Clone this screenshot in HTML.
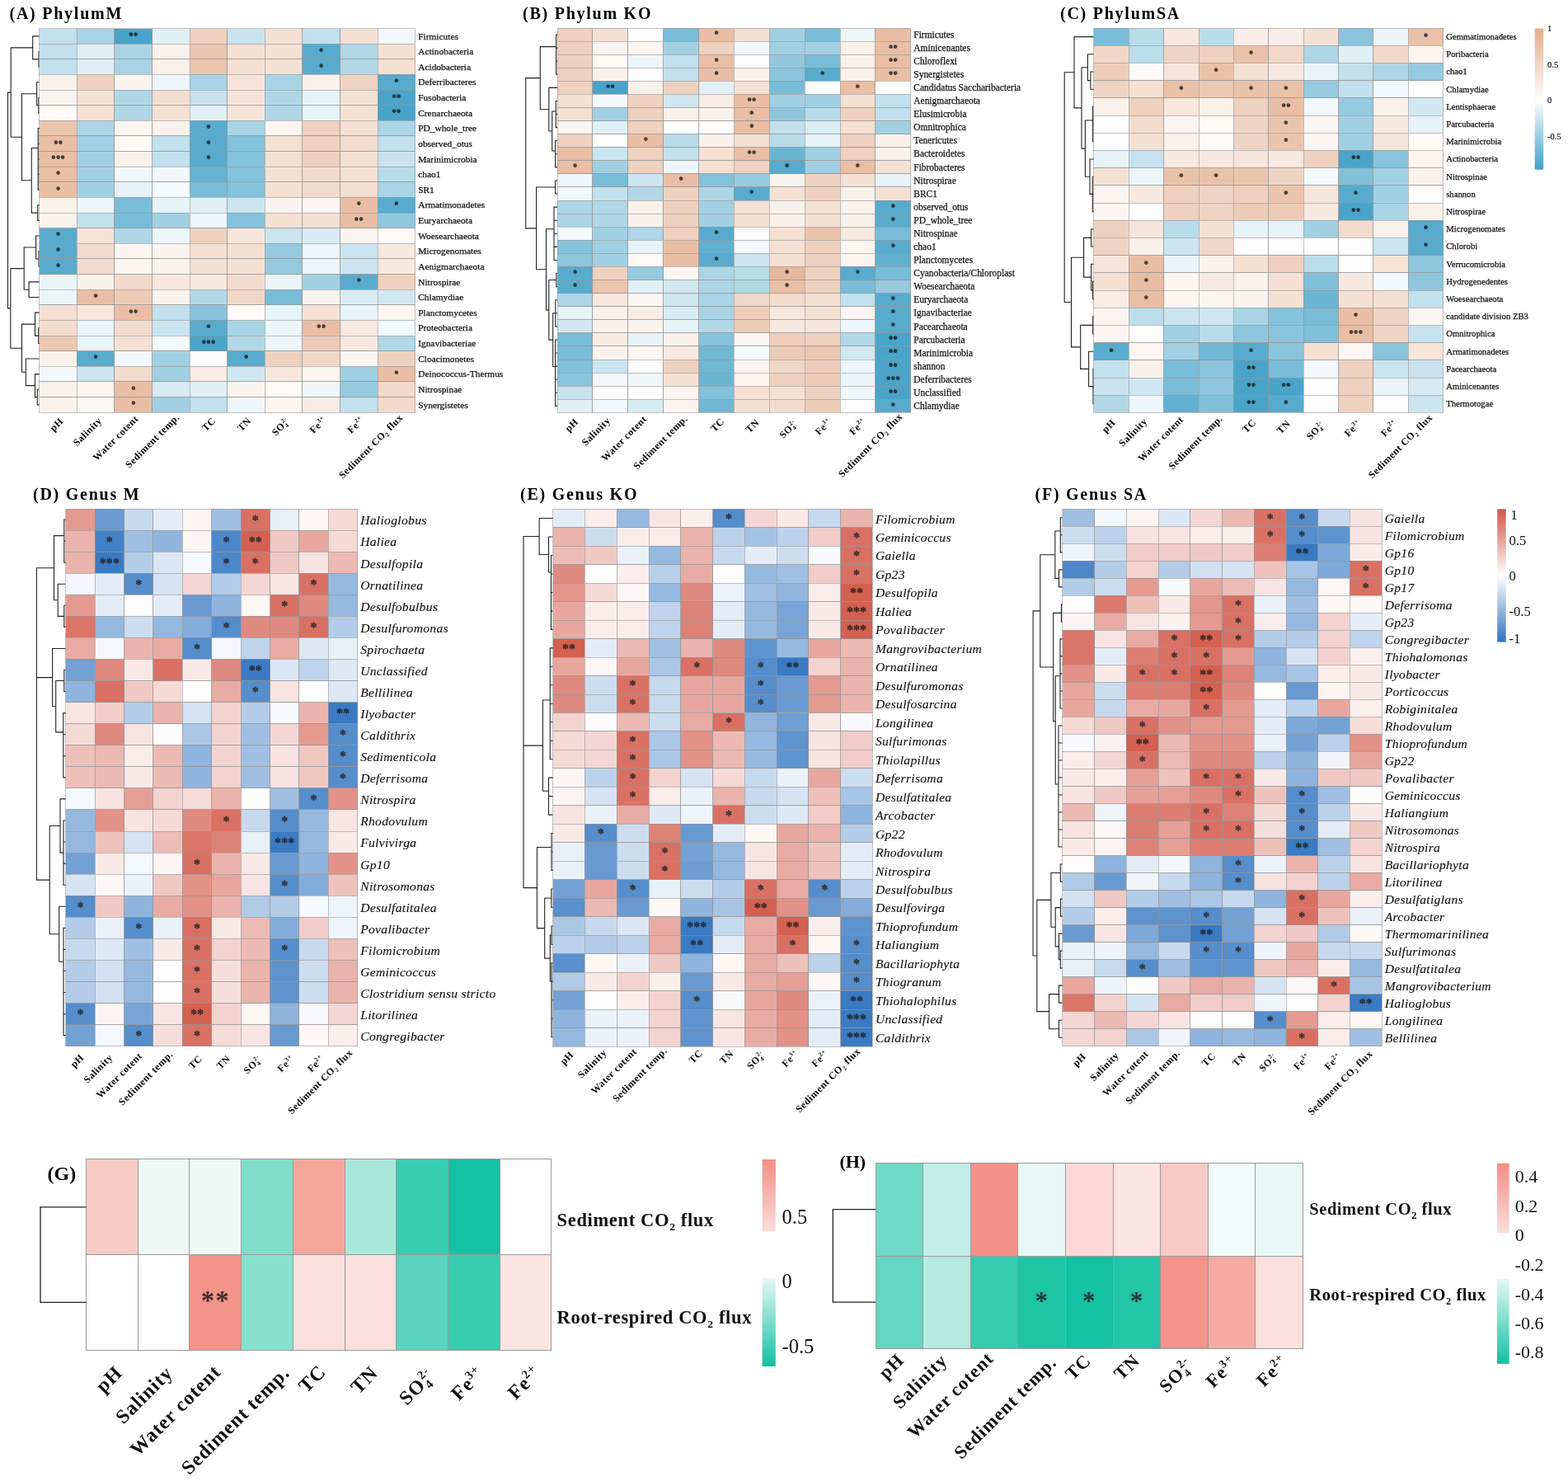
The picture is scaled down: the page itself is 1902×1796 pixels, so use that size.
<!DOCTYPE html>
<html lang="en"><head><meta charset="utf-8"><title>Heatmaps</title>
<style>html,body{margin:0;padding:0;background:#fff}body{width:1902px;height:1796px;overflow:hidden}svg{display:block}</style>
</head><body>
<svg width="1902" height="1796" viewBox="0 0 1902 1796">
<rect x="0" y="0" width="1902" height="1796" fill="#fff"/>
<g id="panel-A">
<text x="11.5" y="22.5" font-family='"Liberation Serif","DejaVu Serif",serif' font-weight="bold" font-size="20" letter-spacing="1.75" fill="#000">(A) PhylumM</text>
<path d="M47 62.54L47 81.16M47 62.54L47.8 62.54M47 81.16L47.8 81.16M39.7 43.91L39.7 71.85M39.7 43.91L47.8 43.91M39.7 71.85L47 71.85M46.8 118.41L46.8 137.03M46.8 118.41L47.8 118.41M46.8 137.03L47.8 137.03M44.6 99.78L44.6 127.72M44.6 99.78L47.8 99.78M44.6 127.72L46.8 127.72M46.2 155.66L46.2 230.15M46.2 155.66L47.8 155.66M46.2 174.28L47.8 174.28M46.2 192.9L47.8 192.9M46.2 211.53L47.8 211.53M46.2 230.15L47.8 230.15M45.7 248.78L45.7 267.4M45.7 248.78L47.8 248.78M45.7 267.4L47.8 267.4M38.3 179.5L38.3 258.09M38.3 179.5L46.2 179.5M38.3 258.09L45.7 258.09M26.5 113.75L26.5 218.79M26.5 113.75L44.6 113.75M26.5 218.79L38.3 218.79M13.2 57.88L13.2 166.27M13.2 57.88L39.7 57.88M13.2 166.27L26.5 166.27M47 304.65L47 323.27M47 304.65L47.8 304.65M47 323.27L47.8 323.27M43.6 286.02L43.6 313.96M43.6 286.02L47.8 286.02M43.6 313.96L47 313.96M35.1 341.9L35.1 360.52M35.1 341.9L47.8 341.9M35.1 360.52L47.8 360.52M29.2 299.99L29.2 351.21M29.2 299.99L43.6 299.99M29.2 351.21L35.1 351.21M46.7 397.77L46.7 416.39M46.7 397.77L47.8 397.77M46.7 416.39L47.8 416.39M42.5 379.14L42.5 407.08M42.5 379.14L47.8 379.14M42.5 407.08L46.7 407.08M45.3 472.26L45.3 490.89M45.3 472.26L47.8 472.26M45.3 490.89L47.8 490.89M42.5 453.64L42.5 481.58M42.5 453.64L47.8 453.64M42.5 481.58L45.3 481.58M31.3 435.02L31.3 467.61M31.3 435.02L47.8 435.02M31.3 467.61L42.5 467.61M26.5 393.11L26.5 451.31M26.5 393.11L42.5 393.11M26.5 451.31L31.3 451.31M12.8 325.6L12.8 422.21M12.8 325.6L29.2 325.6M12.8 422.21L26.5 422.21M9.5 112.08L9.5 373.91M9.5 112.08L13.2 112.08M9.5 373.91L12.8 373.91" fill="none" stroke="#222" stroke-width="1.1" stroke-linecap="square"/>
<g stroke="#969696" stroke-opacity="0.6" stroke-width="1" shape-rendering="crispEdges">
<rect x="47.8" y="34.6" width="45.59" height="18.62" fill="#c2e0ed"/>
<rect x="93.39" y="34.6" width="45.59" height="18.62" fill="#a9d4e5"/>
<rect x="138.98" y="34.6" width="45.59" height="18.62" fill="#4aa4c9"/>
<rect x="184.57" y="34.6" width="45.59" height="18.62" fill="#e1f0f6"/>
<rect x="230.16" y="34.6" width="45.59" height="18.62" fill="#efd1bf"/>
<rect x="275.75" y="34.6" width="45.59" height="18.62" fill="#c8e3ef"/>
<rect x="321.34" y="34.6" width="45.59" height="18.62" fill="#f4e1d4"/>
<rect x="366.93" y="34.6" width="45.59" height="18.62" fill="#c2e0ed"/>
<rect x="412.52" y="34.6" width="45.59" height="18.62" fill="#f4e1d4"/>
<rect x="458.11" y="34.6" width="45.59" height="18.62" fill="#f2f8fb"/>
<rect x="47.8" y="53.22" width="45.59" height="18.62" fill="#c2e0ed"/>
<rect x="93.39" y="53.22" width="45.59" height="18.62" fill="#e1f0f6"/>
<rect x="138.98" y="53.22" width="45.59" height="18.62" fill="#a9d4e5"/>
<rect x="184.57" y="53.22" width="45.59" height="18.62" fill="#faf1eb"/>
<rect x="230.16" y="53.22" width="45.59" height="18.62" fill="#ebc6af"/>
<rect x="275.75" y="53.22" width="45.59" height="18.62" fill="#f4e1d4"/>
<rect x="321.34" y="53.22" width="45.59" height="18.62" fill="#f4e1d4"/>
<rect x="366.93" y="53.22" width="45.59" height="18.62" fill="#58abcd"/>
<rect x="412.52" y="53.22" width="45.59" height="18.62" fill="#b2d8e8"/>
<rect x="458.11" y="53.22" width="45.59" height="18.62" fill="#f4e1d4"/>
<rect x="47.8" y="71.85" width="45.59" height="18.62" fill="#c2e0ed"/>
<rect x="93.39" y="71.85" width="45.59" height="18.62" fill="#e1f0f6"/>
<rect x="138.98" y="71.85" width="45.59" height="18.62" fill="#a9d4e5"/>
<rect x="184.57" y="71.85" width="45.59" height="18.62" fill="#faf1eb"/>
<rect x="230.16" y="71.85" width="45.59" height="18.62" fill="#ebc6af"/>
<rect x="275.75" y="71.85" width="45.59" height="18.62" fill="#f4e1d4"/>
<rect x="321.34" y="71.85" width="45.59" height="18.62" fill="#f4e1d4"/>
<rect x="366.93" y="71.85" width="45.59" height="18.62" fill="#58abcd"/>
<rect x="412.52" y="71.85" width="45.59" height="18.62" fill="#b2d8e8"/>
<rect x="458.11" y="71.85" width="45.59" height="18.62" fill="#f4e1d4"/>
<rect x="47.8" y="90.47" width="45.59" height="18.62" fill="#faf1eb"/>
<rect x="93.39" y="90.47" width="45.59" height="18.62" fill="#efd1bf"/>
<rect x="138.98" y="90.47" width="45.59" height="18.62" fill="#fbf3ee"/>
<rect x="184.57" y="90.47" width="45.59" height="18.62" fill="#edf6fa"/>
<rect x="230.16" y="90.47" width="45.59" height="18.62" fill="#a9d4e5"/>
<rect x="275.75" y="90.47" width="45.59" height="18.62" fill="#f6e4d9"/>
<rect x="321.34" y="90.47" width="45.59" height="18.62" fill="#a9d4e5"/>
<rect x="366.93" y="90.47" width="45.59" height="18.62" fill="#faf1eb"/>
<rect x="412.52" y="90.47" width="45.59" height="18.62" fill="#f0d4c3"/>
<rect x="458.11" y="90.47" width="45.59" height="18.62" fill="#58abcd"/>
<rect x="47.8" y="109.1" width="45.59" height="18.62" fill="#fbf4f0"/>
<rect x="93.39" y="109.1" width="45.59" height="18.62" fill="#f4e1d4"/>
<rect x="138.98" y="109.1" width="45.59" height="18.62" fill="#afd7e7"/>
<rect x="184.57" y="109.1" width="45.59" height="18.62" fill="#f3ded0"/>
<rect x="230.16" y="109.1" width="45.59" height="18.62" fill="#c8e3ef"/>
<rect x="275.75" y="109.1" width="45.59" height="18.62" fill="#f6e4d9"/>
<rect x="321.34" y="109.1" width="45.59" height="18.62" fill="#afd7e7"/>
<rect x="366.93" y="109.1" width="45.59" height="18.62" fill="#e9f4f8"/>
<rect x="412.52" y="109.1" width="45.59" height="18.62" fill="#f4e1d4"/>
<rect x="458.11" y="109.1" width="45.59" height="18.62" fill="#4aa4c9"/>
<rect x="47.8" y="127.72" width="45.59" height="18.62" fill="#fdfaf8"/>
<rect x="93.39" y="127.72" width="45.59" height="18.62" fill="#f4e1d4"/>
<rect x="138.98" y="127.72" width="45.59" height="18.62" fill="#afd7e7"/>
<rect x="184.57" y="127.72" width="45.59" height="18.62" fill="#f4e1d4"/>
<rect x="230.16" y="127.72" width="45.59" height="18.62" fill="#e1f0f6"/>
<rect x="275.75" y="127.72" width="45.59" height="18.62" fill="#f6e4d9"/>
<rect x="321.34" y="127.72" width="45.59" height="18.62" fill="#afd7e7"/>
<rect x="366.93" y="127.72" width="45.59" height="18.62" fill="#e6f3f8"/>
<rect x="412.52" y="127.72" width="45.59" height="18.62" fill="#f4e1d4"/>
<rect x="458.11" y="127.72" width="45.59" height="18.62" fill="#4aa4c9"/>
<rect x="47.8" y="146.34" width="45.59" height="18.62" fill="#ebc4ad"/>
<rect x="93.39" y="146.34" width="45.59" height="18.62" fill="#acd5e6"/>
<rect x="138.98" y="146.34" width="45.59" height="18.62" fill="#fcf6f3"/>
<rect x="184.57" y="146.34" width="45.59" height="18.62" fill="#faf1eb"/>
<rect x="230.16" y="146.34" width="45.59" height="18.62" fill="#58abcd"/>
<rect x="275.75" y="146.34" width="45.59" height="18.62" fill="#a9d4e5"/>
<rect x="321.34" y="146.34" width="45.59" height="18.62" fill="#fcf6f3"/>
<rect x="366.93" y="146.34" width="45.59" height="18.62" fill="#efd1bf"/>
<rect x="412.52" y="146.34" width="45.59" height="18.62" fill="#f4e1d4"/>
<rect x="458.11" y="146.34" width="45.59" height="18.62" fill="#acd5e6"/>
<rect x="47.8" y="164.97" width="45.59" height="18.62" fill="#e9bea5"/>
<rect x="93.39" y="164.97" width="45.59" height="18.62" fill="#a2d0e3"/>
<rect x="138.98" y="164.97" width="45.59" height="18.62" fill="#fdf9f6"/>
<rect x="184.57" y="164.97" width="45.59" height="18.62" fill="#c2e0ed"/>
<rect x="230.16" y="164.97" width="45.59" height="18.62" fill="#58abcd"/>
<rect x="275.75" y="164.97" width="45.59" height="18.62" fill="#85c2db"/>
<rect x="321.34" y="164.97" width="45.59" height="18.62" fill="#f4e1d4"/>
<rect x="366.93" y="164.97" width="45.59" height="18.62" fill="#efd1bf"/>
<rect x="412.52" y="164.97" width="45.59" height="18.62" fill="#f3dcce"/>
<rect x="458.11" y="164.97" width="45.59" height="18.62" fill="#c2e0ed"/>
<rect x="47.8" y="183.59" width="45.59" height="18.62" fill="#e9bea5"/>
<rect x="93.39" y="183.59" width="45.59" height="18.62" fill="#a2d0e3"/>
<rect x="138.98" y="183.59" width="45.59" height="18.62" fill="#faf1eb"/>
<rect x="184.57" y="183.59" width="45.59" height="18.62" fill="#c2e0ed"/>
<rect x="230.16" y="183.59" width="45.59" height="18.62" fill="#58abcd"/>
<rect x="275.75" y="183.59" width="45.59" height="18.62" fill="#85c2db"/>
<rect x="321.34" y="183.59" width="45.59" height="18.62" fill="#f4e1d4"/>
<rect x="366.93" y="183.59" width="45.59" height="18.62" fill="#efd1bf"/>
<rect x="412.52" y="183.59" width="45.59" height="18.62" fill="#f4e1d4"/>
<rect x="458.11" y="183.59" width="45.59" height="18.62" fill="#c8e3ef"/>
<rect x="47.8" y="202.22" width="45.59" height="18.62" fill="#e9bea5"/>
<rect x="93.39" y="202.22" width="45.59" height="18.62" fill="#a2d0e3"/>
<rect x="138.98" y="202.22" width="45.59" height="18.62" fill="#f2f8fb"/>
<rect x="184.57" y="202.22" width="45.59" height="18.62" fill="#f2f8fb"/>
<rect x="230.16" y="202.22" width="45.59" height="18.62" fill="#66b2d1"/>
<rect x="275.75" y="202.22" width="45.59" height="18.62" fill="#85c2db"/>
<rect x="321.34" y="202.22" width="45.59" height="18.62" fill="#f4e1d4"/>
<rect x="366.93" y="202.22" width="45.59" height="18.62" fill="#f2dbcc"/>
<rect x="412.52" y="202.22" width="45.59" height="18.62" fill="#f4e1d4"/>
<rect x="458.11" y="202.22" width="45.59" height="18.62" fill="#b8dcea"/>
<rect x="47.8" y="220.84" width="45.59" height="18.62" fill="#e9bea5"/>
<rect x="93.39" y="220.84" width="45.59" height="18.62" fill="#a2d0e3"/>
<rect x="138.98" y="220.84" width="45.59" height="18.62" fill="#e6f3f8"/>
<rect x="184.57" y="220.84" width="45.59" height="18.62" fill="#f4fafc"/>
<rect x="230.16" y="220.84" width="45.59" height="18.62" fill="#79bcd7"/>
<rect x="275.75" y="220.84" width="45.59" height="18.62" fill="#85c2db"/>
<rect x="321.34" y="220.84" width="45.59" height="18.62" fill="#f4e1d4"/>
<rect x="366.93" y="220.84" width="45.59" height="18.62" fill="#f2dbcc"/>
<rect x="412.52" y="220.84" width="45.59" height="18.62" fill="#f3ded0"/>
<rect x="458.11" y="220.84" width="45.59" height="18.62" fill="#a9d4e5"/>
<rect x="47.8" y="239.46" width="45.59" height="18.62" fill="#faf1eb"/>
<rect x="93.39" y="239.46" width="45.59" height="18.62" fill="#edf6fa"/>
<rect x="138.98" y="239.46" width="45.59" height="18.62" fill="#79bcd7"/>
<rect x="184.57" y="239.46" width="45.59" height="18.62" fill="#e6f3f8"/>
<rect x="230.16" y="239.46" width="45.59" height="18.62" fill="#e1f0f6"/>
<rect x="275.75" y="239.46" width="45.59" height="18.62" fill="#cbe5f0"/>
<rect x="321.34" y="239.46" width="45.59" height="18.62" fill="#fbf3ee"/>
<rect x="366.93" y="239.46" width="45.59" height="18.62" fill="#fcf6f3"/>
<rect x="412.52" y="239.46" width="45.59" height="18.62" fill="#e9bea5"/>
<rect x="458.11" y="239.46" width="45.59" height="18.62" fill="#58abcd"/>
<rect x="47.8" y="258.09" width="45.59" height="18.62" fill="#fbf3ee"/>
<rect x="93.39" y="258.09" width="45.59" height="18.62" fill="#c2e0ed"/>
<rect x="138.98" y="258.09" width="45.59" height="18.62" fill="#79bcd7"/>
<rect x="184.57" y="258.09" width="45.59" height="18.62" fill="#a2d0e3"/>
<rect x="230.16" y="258.09" width="45.59" height="18.62" fill="#edf6fa"/>
<rect x="275.75" y="258.09" width="45.59" height="18.62" fill="#85c2db"/>
<rect x="321.34" y="258.09" width="45.59" height="18.62" fill="#f4e1d4"/>
<rect x="366.93" y="258.09" width="45.59" height="18.62" fill="#f4e1d4"/>
<rect x="412.52" y="258.09" width="45.59" height="18.62" fill="#e9bea5"/>
<rect x="458.11" y="258.09" width="45.59" height="18.62" fill="#92c8de"/>
<rect x="47.8" y="276.71" width="45.59" height="18.62" fill="#58abcd"/>
<rect x="93.39" y="276.71" width="45.59" height="18.62" fill="#f6e4d9"/>
<rect x="138.98" y="276.71" width="45.59" height="18.62" fill="#afd7e7"/>
<rect x="184.57" y="276.71" width="45.59" height="18.62" fill="#edf6fa"/>
<rect x="230.16" y="276.71" width="45.59" height="18.62" fill="#efd1bf"/>
<rect x="275.75" y="276.71" width="45.59" height="18.62" fill="#f6e5db"/>
<rect x="321.34" y="276.71" width="45.59" height="18.62" fill="#cbe5f0"/>
<rect x="366.93" y="276.71" width="45.59" height="18.62" fill="#d8ebf3"/>
<rect x="412.52" y="276.71" width="45.59" height="18.62" fill="#fbf4f0"/>
<rect x="458.11" y="276.71" width="45.59" height="18.62" fill="#fdfaf8"/>
<rect x="47.8" y="295.34" width="45.59" height="18.62" fill="#58abcd"/>
<rect x="93.39" y="295.34" width="45.59" height="18.62" fill="#f3dcce"/>
<rect x="138.98" y="295.34" width="45.59" height="18.62" fill="#fcf5f1"/>
<rect x="184.57" y="295.34" width="45.59" height="18.62" fill="#fbf3ee"/>
<rect x="230.16" y="295.34" width="45.59" height="18.62" fill="#f4e1d4"/>
<rect x="275.75" y="295.34" width="45.59" height="18.62" fill="#f4e1d4"/>
<rect x="321.34" y="295.34" width="45.59" height="18.62" fill="#96cae0"/>
<rect x="366.93" y="295.34" width="45.59" height="18.62" fill="#edf6fa"/>
<rect x="412.52" y="295.34" width="45.59" height="18.62" fill="#cbe5f0"/>
<rect x="458.11" y="295.34" width="45.59" height="18.62" fill="#f7e9e0"/>
<rect x="47.8" y="313.96" width="45.59" height="18.62" fill="#58abcd"/>
<rect x="93.39" y="313.96" width="45.59" height="18.62" fill="#f3dcce"/>
<rect x="138.98" y="313.96" width="45.59" height="18.62" fill="#fcf5f1"/>
<rect x="184.57" y="313.96" width="45.59" height="18.62" fill="#fbf3ee"/>
<rect x="230.16" y="313.96" width="45.59" height="18.62" fill="#f4e1d4"/>
<rect x="275.75" y="313.96" width="45.59" height="18.62" fill="#f4e1d4"/>
<rect x="321.34" y="313.96" width="45.59" height="18.62" fill="#96cae0"/>
<rect x="366.93" y="313.96" width="45.59" height="18.62" fill="#edf6fa"/>
<rect x="412.52" y="313.96" width="45.59" height="18.62" fill="#cbe5f0"/>
<rect x="458.11" y="313.96" width="45.59" height="18.62" fill="#f7e9e0"/>
<rect x="47.8" y="332.58" width="45.59" height="18.62" fill="#ebf5f9"/>
<rect x="93.39" y="332.58" width="45.59" height="18.62" fill="#faf1eb"/>
<rect x="138.98" y="332.58" width="45.59" height="18.62" fill="#f2d9ca"/>
<rect x="184.57" y="332.58" width="45.59" height="18.62" fill="#f7e7dd"/>
<rect x="230.16" y="332.58" width="45.59" height="18.62" fill="#f7e9e0"/>
<rect x="275.75" y="332.58" width="45.59" height="18.62" fill="#f3dcce"/>
<rect x="321.34" y="332.58" width="45.59" height="18.62" fill="#ebf5f9"/>
<rect x="366.93" y="332.58" width="45.59" height="18.62" fill="#a2d0e3"/>
<rect x="412.52" y="332.58" width="45.59" height="18.62" fill="#58abcd"/>
<rect x="458.11" y="332.58" width="45.59" height="18.62" fill="#efd1bf"/>
<rect x="47.8" y="351.21" width="45.59" height="18.62" fill="#edf6fa"/>
<rect x="93.39" y="351.21" width="45.59" height="18.62" fill="#e9bea5"/>
<rect x="138.98" y="351.21" width="45.59" height="18.62" fill="#edccb7"/>
<rect x="184.57" y="351.21" width="45.59" height="18.62" fill="#fbf3ee"/>
<rect x="230.16" y="351.21" width="45.59" height="18.62" fill="#b2d8e8"/>
<rect x="275.75" y="351.21" width="45.59" height="18.62" fill="#f1d7c8"/>
<rect x="321.34" y="351.21" width="45.59" height="18.62" fill="#79bcd7"/>
<rect x="366.93" y="351.21" width="45.59" height="18.62" fill="#fbf3ee"/>
<rect x="412.52" y="351.21" width="45.59" height="18.62" fill="#d8ebf3"/>
<rect x="458.11" y="351.21" width="45.59" height="18.62" fill="#d2e8f1"/>
<rect x="47.8" y="369.83" width="45.59" height="18.62" fill="#f4e1d4"/>
<rect x="93.39" y="369.83" width="45.59" height="18.62" fill="#f7e7dd"/>
<rect x="138.98" y="369.83" width="45.59" height="18.62" fill="#e9bea5"/>
<rect x="184.57" y="369.83" width="45.59" height="18.62" fill="#c2e0ed"/>
<rect x="230.16" y="369.83" width="45.59" height="18.62" fill="#8ac4dc"/>
<rect x="275.75" y="369.83" width="45.59" height="18.62" fill="#fdfaf8"/>
<rect x="321.34" y="369.83" width="45.59" height="18.62" fill="#e6f3f8"/>
<rect x="366.93" y="369.83" width="45.59" height="18.62" fill="#f4e1d4"/>
<rect x="412.52" y="369.83" width="45.59" height="18.62" fill="#e6f3f8"/>
<rect x="458.11" y="369.83" width="45.59" height="18.62" fill="#fcf6f3"/>
<rect x="47.8" y="388.46" width="45.59" height="18.62" fill="#f3dcce"/>
<rect x="93.39" y="388.46" width="45.59" height="18.62" fill="#ebf5f9"/>
<rect x="138.98" y="388.46" width="45.59" height="18.62" fill="#f3dcce"/>
<rect x="184.57" y="388.46" width="45.59" height="18.62" fill="#cbe5f0"/>
<rect x="230.16" y="388.46" width="45.59" height="18.62" fill="#58abcd"/>
<rect x="275.75" y="388.46" width="45.59" height="18.62" fill="#a9d4e5"/>
<rect x="321.34" y="388.46" width="45.59" height="18.62" fill="#edf6fa"/>
<rect x="366.93" y="388.46" width="45.59" height="18.62" fill="#e9bea5"/>
<rect x="412.52" y="388.46" width="45.59" height="18.62" fill="#f7e9e0"/>
<rect x="458.11" y="388.46" width="45.59" height="18.62" fill="#f2f8fb"/>
<rect x="47.8" y="407.08" width="45.59" height="18.62" fill="#ecc8b2"/>
<rect x="93.39" y="407.08" width="45.59" height="18.62" fill="#e9f4f8"/>
<rect x="138.98" y="407.08" width="45.59" height="18.62" fill="#f4e1d4"/>
<rect x="184.57" y="407.08" width="45.59" height="18.62" fill="#f4fafc"/>
<rect x="230.16" y="407.08" width="45.59" height="18.62" fill="#4aa4c9"/>
<rect x="275.75" y="407.08" width="45.59" height="18.62" fill="#b2d8e8"/>
<rect x="321.34" y="407.08" width="45.59" height="18.62" fill="#edf6fa"/>
<rect x="366.93" y="407.08" width="45.59" height="18.62" fill="#edccb7"/>
<rect x="412.52" y="407.08" width="45.59" height="18.62" fill="#f7e9e0"/>
<rect x="458.11" y="407.08" width="45.59" height="18.62" fill="#b2d8e8"/>
<rect x="47.8" y="425.7" width="45.59" height="18.62" fill="#faf1eb"/>
<rect x="93.39" y="425.7" width="45.59" height="18.62" fill="#58abcd"/>
<rect x="138.98" y="425.7" width="45.59" height="18.62" fill="#f2f8fb"/>
<rect x="184.57" y="425.7" width="45.59" height="18.62" fill="#a2d0e3"/>
<rect x="230.16" y="425.7" width="45.59" height="18.62" fill="#fdfdfd"/>
<rect x="275.75" y="425.7" width="45.59" height="18.62" fill="#58abcd"/>
<rect x="321.34" y="425.7" width="45.59" height="18.62" fill="#efd1bf"/>
<rect x="366.93" y="425.7" width="45.59" height="18.62" fill="#f1d7c8"/>
<rect x="412.52" y="425.7" width="45.59" height="18.62" fill="#fcf6f3"/>
<rect x="458.11" y="425.7" width="45.59" height="18.62" fill="#efd1bf"/>
<rect x="47.8" y="444.33" width="45.59" height="18.62" fill="#f2f8fb"/>
<rect x="93.39" y="444.33" width="45.59" height="18.62" fill="#cbe5f0"/>
<rect x="138.98" y="444.33" width="45.59" height="18.62" fill="#f3dcce"/>
<rect x="184.57" y="444.33" width="45.59" height="18.62" fill="#a2d0e3"/>
<rect x="230.16" y="444.33" width="45.59" height="18.62" fill="#f8ece4"/>
<rect x="275.75" y="444.33" width="45.59" height="18.62" fill="#cfe7f0"/>
<rect x="321.34" y="444.33" width="45.59" height="18.62" fill="#f7e7dd"/>
<rect x="366.93" y="444.33" width="45.59" height="18.62" fill="#fcf5f1"/>
<rect x="412.52" y="444.33" width="45.59" height="18.62" fill="#a2d0e3"/>
<rect x="458.11" y="444.33" width="45.59" height="18.62" fill="#e9bea5"/>
<rect x="47.8" y="462.95" width="45.59" height="18.62" fill="#faf1eb"/>
<rect x="93.39" y="462.95" width="45.59" height="18.62" fill="#fcf6f3"/>
<rect x="138.98" y="462.95" width="45.59" height="18.62" fill="#e9bea5"/>
<rect x="184.57" y="462.95" width="45.59" height="18.62" fill="#d8ebf3"/>
<rect x="230.16" y="462.95" width="45.59" height="18.62" fill="#e1f0f6"/>
<rect x="275.75" y="462.95" width="45.59" height="18.62" fill="#fbf3ee"/>
<rect x="321.34" y="462.95" width="45.59" height="18.62" fill="#fdf9f6"/>
<rect x="366.93" y="462.95" width="45.59" height="18.62" fill="#f0f7fa"/>
<rect x="412.52" y="462.95" width="45.59" height="18.62" fill="#96cae0"/>
<rect x="458.11" y="462.95" width="45.59" height="18.62" fill="#f2d9ca"/>
<rect x="47.8" y="481.58" width="45.59" height="18.62" fill="#faf1eb"/>
<rect x="93.39" y="481.58" width="45.59" height="18.62" fill="#fcf8f5"/>
<rect x="138.98" y="481.58" width="45.59" height="18.62" fill="#e9bea5"/>
<rect x="184.57" y="481.58" width="45.59" height="18.62" fill="#a2d0e3"/>
<rect x="230.16" y="481.58" width="45.59" height="18.62" fill="#c2e0ed"/>
<rect x="275.75" y="481.58" width="45.59" height="18.62" fill="#edf6fa"/>
<rect x="321.34" y="481.58" width="45.59" height="18.62" fill="#fcf6f3"/>
<rect x="366.93" y="481.58" width="45.59" height="18.62" fill="#f8ece4"/>
<rect x="412.52" y="481.58" width="45.59" height="18.62" fill="#c2e0ed"/>
<rect x="458.11" y="481.58" width="45.59" height="18.62" fill="#f2d9ca"/>
</g>
<g font-family='"Liberation Serif","DejaVu Serif",serif' font-size="7.5" font-weight="bold" text-anchor="middle" fill="#06090c" stroke="#06090c" stroke-width="1.4" stroke-linejoin="round" opacity="0.7" letter-spacing="1.9">
<text x="162.72" y="46.31">**</text>
<text x="390.67" y="64.94">*</text>
<text x="390.67" y="83.56">*</text>
<text x="481.85" y="102.18">*</text>
<text x="481.85" y="120.81">**</text>
<text x="481.85" y="139.43">**</text>
<text x="253.9" y="158.06">*</text>
<text x="71.55" y="176.68">**</text>
<text x="253.9" y="176.68">*</text>
<text x="71.55" y="195.3">***</text>
<text x="253.9" y="195.3">*</text>
<text x="71.55" y="213.93">*</text>
<text x="71.55" y="232.55">*</text>
<text x="436.26" y="251.18">*</text>
<text x="481.85" y="251.18">*</text>
<text x="436.26" y="269.8">**</text>
<text x="71.55" y="288.42">*</text>
<text x="71.55" y="307.05">*</text>
<text x="71.55" y="325.67">*</text>
<text x="436.26" y="344.3">*</text>
<text x="117.13" y="362.92">*</text>
<text x="162.72" y="381.54">**</text>
<text x="253.9" y="400.17">*</text>
<text x="390.67" y="400.17">**</text>
<text x="253.9" y="418.79">***</text>
<text x="117.13" y="437.42">*</text>
<text x="299.49" y="437.42">*</text>
<text x="481.85" y="456.04">*</text>
<text x="162.72" y="474.66">*</text>
<text x="162.72" y="493.29">*</text>
</g>
<g font-family='"Liberation Serif","DejaVu Serif",serif' font-size="11.4" fill="#111" stroke="#111" stroke-width="0.25" letter-spacing="0">
<text x="507.2" y="47.56">Firmicutes</text>
<text x="507.2" y="66.18">Actinobacteria</text>
<text x="507.2" y="84.81">Acidobacteria</text>
<text x="507.2" y="103.43">Deferribacteres</text>
<text x="507.2" y="122.06">Fusobacteria</text>
<text x="507.2" y="140.68">Crenarchaeota</text>
<text x="507.2" y="159.3">PD_whole_tree</text>
<text x="507.2" y="177.93">observed_otus</text>
<text x="507.2" y="196.55">Marinimicrobia</text>
<text x="507.2" y="215.18">chao1</text>
<text x="507.2" y="233.8">SR1</text>
<text x="507.2" y="252.42">Armatimonadetes</text>
<text x="507.2" y="271.05">Euryarchaeota</text>
<text x="507.2" y="289.67">Woesearchaeota</text>
<text x="507.2" y="308.3">Microgenomates</text>
<text x="507.2" y="326.92">Aenigmarchaeota</text>
<text x="507.2" y="345.54">Nitrospirae</text>
<text x="507.2" y="364.17">Chlamydiae</text>
<text x="507.2" y="382.79">Planctomycetes</text>
<text x="507.2" y="401.42">Proteobacteria</text>
<text x="507.2" y="420.04">Ignavibacteriae</text>
<text x="507.2" y="438.66">Cloacimonetes</text>
<text x="507.2" y="457.29">Deinococcus-Thermus</text>
<text x="507.2" y="475.91">Nitrospinae</text>
<text x="507.2" y="494.54">Synergistetes</text>
</g>
<g font-family='"Liberation Serif","DejaVu Serif",serif' font-size="12" font-weight="bold" text-anchor="end" fill="#000" letter-spacing="0.5">
<text transform="translate(77.39 511.6) rotate(-45)">pH</text>
<text transform="translate(124.18 510.9) rotate(-45)">Salinity</text>
<text transform="translate(168.57 508.5) rotate(-45)">Water cotent</text>
<text transform="translate(218.37 506.7) rotate(-45)">Sediment temp.</text>
<text transform="translate(262.15 510.9) rotate(-45)">TC</text>
<text transform="translate(305.34 510.9) rotate(-45)">TN</text>
<text transform="translate(351.94 511.6) rotate(-45)">SO<tspan dy="2.64" font-size="7.44">4</tspan><tspan dy="-7.44" dx="-3.6" font-size="7.44">2-</tspan><tspan dy="4.8" font-size="7.44"> </tspan></text>
<text transform="translate(396.52 510.2) rotate(-45)">Fe<tspan dy="-4.56" font-size="7.44">3+</tspan><tspan dy="4.56" font-size="7.44"> </tspan></text>
<text transform="translate(442.12 510.2) rotate(-45)">Fe<tspan dy="-4.56" font-size="7.44">2+</tspan><tspan dy="4.56" font-size="7.44"> </tspan></text>
<text transform="translate(489.4 507.2) rotate(-45)">Sediment CO<tspan dy="2.64" font-size="7.44">2</tspan><tspan dy="-2.64"> flux</tspan></text>
</g>
</g>
<g id="panel-B">
<text x="634" y="22.5" font-family='"Liberation Serif","DejaVu Serif",serif' font-weight="bold" font-size="20" letter-spacing="1.75" fill="#000">(B) Phylum KO</text>
<path d="M674.6 42.04L674.6 90.29M674.6 42.04L676.1 42.04M674.6 58.12L676.1 58.12M674.6 74.21L676.1 74.21M674.6 90.29L676.1 90.29M674.3 122.46L674.3 154.62M674.3 122.46L676.1 122.46M674.3 138.54L676.1 138.54M674.3 154.62L676.1 154.62M673.6 170.7L673.6 202.87M673.6 170.7L676.1 170.7M673.6 186.79L676.1 186.79M673.6 202.87L676.1 202.87M669.7 135L669.7 183M669.7 135L674.3 135M669.7 183L673.6 183M665.8 106.37L665.8 159M665.8 106.37L676.1 106.37M665.8 159L669.7 159M655.3 56.6L655.3 132.69M655.3 56.6L674.6 56.6M655.3 132.69L665.8 132.69M673.6 218.95L673.6 235.03M673.6 218.95L676.1 218.95M673.6 235.03L676.1 235.03M672 251.12L672 315.45M672 251.12L676.1 251.12M672 267.2L676.1 267.2M672 283.28L676.1 283.28M672 299.37L676.1 299.37M672 315.45L676.1 315.45M674.8 331.53L674.8 347.61M674.8 331.53L676.1 331.53M674.8 347.61L676.1 347.61M673.8 363.7L673.8 395.86M673.8 363.7L676.1 363.7M673.8 379.78L676.1 379.78M673.8 395.86L676.1 395.86M673.6 411.94L673.6 492.36M673.6 411.94L676.1 411.94M673.6 428.03L676.1 428.03M673.6 444.11L676.1 444.11M673.6 460.19L676.1 460.19M673.6 476.28L676.1 476.28M673.6 492.36L676.1 492.36M670.7 379.78L670.7 444.5M670.7 379.78L673.8 379.78M670.7 444.5L673.6 444.5M665.8 339.57L665.8 412.14M665.8 339.57L674.8 339.57M665.8 412.14L670.7 412.14M662.5 277.7L662.5 375.86M662.5 277.7L672 277.7M662.5 375.86L665.8 375.86M650.6 226.99L650.6 326.78M650.6 226.99L673.6 226.99M650.6 326.78L662.5 326.78M637.7 94.64L637.7 276.89M637.7 94.64L655.3 94.64M637.7 276.89L650.6 276.89" fill="none" stroke="#222" stroke-width="1.1" stroke-linecap="square"/>
<g stroke="#969696" stroke-opacity="0.6" stroke-width="1" shape-rendering="crispEdges">
<rect x="676.1" y="34" width="42.87" height="16.08" fill="#efd1bf"/>
<rect x="718.97" y="34" width="42.87" height="16.08" fill="#f4e1d4"/>
<rect x="761.84" y="34" width="42.87" height="16.08" fill="#fdfdfd"/>
<rect x="804.71" y="34" width="42.87" height="16.08" fill="#79bcd7"/>
<rect x="847.58" y="34" width="42.87" height="16.08" fill="#e9bea5"/>
<rect x="890.45" y="34" width="42.87" height="16.08" fill="#f4e1d4"/>
<rect x="933.32" y="34" width="42.87" height="16.08" fill="#a2d0e3"/>
<rect x="976.19" y="34" width="42.87" height="16.08" fill="#79bcd7"/>
<rect x="1019.06" y="34" width="42.87" height="16.08" fill="#f0f7fa"/>
<rect x="1061.93" y="34" width="42.87" height="16.08" fill="#e9bea5"/>
<rect x="676.1" y="50.08" width="42.87" height="16.08" fill="#efd1bf"/>
<rect x="718.97" y="50.08" width="42.87" height="16.08" fill="#fbf4f0"/>
<rect x="761.84" y="50.08" width="42.87" height="16.08" fill="#fcf6f3"/>
<rect x="804.71" y="50.08" width="42.87" height="16.08" fill="#a2d0e3"/>
<rect x="847.58" y="50.08" width="42.87" height="16.08" fill="#efd1bf"/>
<rect x="890.45" y="50.08" width="42.87" height="16.08" fill="#f2f8fb"/>
<rect x="933.32" y="50.08" width="42.87" height="16.08" fill="#a2d0e3"/>
<rect x="976.19" y="50.08" width="42.87" height="16.08" fill="#a2d0e3"/>
<rect x="1019.06" y="50.08" width="42.87" height="16.08" fill="#faf1eb"/>
<rect x="1061.93" y="50.08" width="42.87" height="16.08" fill="#e9bea5"/>
<rect x="676.1" y="66.17" width="42.87" height="16.08" fill="#efd1bf"/>
<rect x="718.97" y="66.17" width="42.87" height="16.08" fill="#fdf9f6"/>
<rect x="761.84" y="66.17" width="42.87" height="16.08" fill="#edf6fa"/>
<rect x="804.71" y="66.17" width="42.87" height="16.08" fill="#c2e0ed"/>
<rect x="847.58" y="66.17" width="42.87" height="16.08" fill="#e9bea5"/>
<rect x="890.45" y="66.17" width="42.87" height="16.08" fill="#fdfdfd"/>
<rect x="933.32" y="66.17" width="42.87" height="16.08" fill="#92c8de"/>
<rect x="976.19" y="66.17" width="42.87" height="16.08" fill="#79bcd7"/>
<rect x="1019.06" y="66.17" width="42.87" height="16.08" fill="#faf1eb"/>
<rect x="1061.93" y="66.17" width="42.87" height="16.08" fill="#e9bea5"/>
<rect x="676.1" y="82.25" width="42.87" height="16.08" fill="#efd1bf"/>
<rect x="718.97" y="82.25" width="42.87" height="16.08" fill="#faf1eb"/>
<rect x="761.84" y="82.25" width="42.87" height="16.08" fill="#fdfdfd"/>
<rect x="804.71" y="82.25" width="42.87" height="16.08" fill="#c2e0ed"/>
<rect x="847.58" y="82.25" width="42.87" height="16.08" fill="#e9bea5"/>
<rect x="890.45" y="82.25" width="42.87" height="16.08" fill="#faf1eb"/>
<rect x="933.32" y="82.25" width="42.87" height="16.08" fill="#8ac4dc"/>
<rect x="976.19" y="82.25" width="42.87" height="16.08" fill="#58abcd"/>
<rect x="1019.06" y="82.25" width="42.87" height="16.08" fill="#faf1eb"/>
<rect x="1061.93" y="82.25" width="42.87" height="16.08" fill="#e9bea5"/>
<rect x="676.1" y="98.33" width="42.87" height="16.08" fill="#efd1bf"/>
<rect x="718.97" y="98.33" width="42.87" height="16.08" fill="#4aa4c9"/>
<rect x="761.84" y="98.33" width="42.87" height="16.08" fill="#faf1eb"/>
<rect x="804.71" y="98.33" width="42.87" height="16.08" fill="#efd1bf"/>
<rect x="847.58" y="98.33" width="42.87" height="16.08" fill="#e1f0f6"/>
<rect x="890.45" y="98.33" width="42.87" height="16.08" fill="#f4e1d4"/>
<rect x="933.32" y="98.33" width="42.87" height="16.08" fill="#79bcd7"/>
<rect x="976.19" y="98.33" width="42.87" height="16.08" fill="#fdfdfd"/>
<rect x="1019.06" y="98.33" width="42.87" height="16.08" fill="#e9bea5"/>
<rect x="1061.93" y="98.33" width="42.87" height="16.08" fill="#fdfdfd"/>
<rect x="676.1" y="114.41" width="42.87" height="16.08" fill="#f4e1d4"/>
<rect x="718.97" y="114.41" width="42.87" height="16.08" fill="#f2f8fb"/>
<rect x="761.84" y="114.41" width="42.87" height="16.08" fill="#efd1bf"/>
<rect x="804.71" y="114.41" width="42.87" height="16.08" fill="#d2e8f1"/>
<rect x="847.58" y="114.41" width="42.87" height="16.08" fill="#f8ece4"/>
<rect x="890.45" y="114.41" width="42.87" height="16.08" fill="#e9bea5"/>
<rect x="933.32" y="114.41" width="42.87" height="16.08" fill="#a2d0e3"/>
<rect x="976.19" y="114.41" width="42.87" height="16.08" fill="#a2d0e3"/>
<rect x="1019.06" y="114.41" width="42.87" height="16.08" fill="#f4e1d4"/>
<rect x="1061.93" y="114.41" width="42.87" height="16.08" fill="#c2e0ed"/>
<rect x="676.1" y="130.5" width="42.87" height="16.08" fill="#f4e1d4"/>
<rect x="718.97" y="130.5" width="42.87" height="16.08" fill="#a2d0e3"/>
<rect x="761.84" y="130.5" width="42.87" height="16.08" fill="#efd1bf"/>
<rect x="804.71" y="130.5" width="42.87" height="16.08" fill="#faf1eb"/>
<rect x="847.58" y="130.5" width="42.87" height="16.08" fill="#faf1eb"/>
<rect x="890.45" y="130.5" width="42.87" height="16.08" fill="#e9bea5"/>
<rect x="933.32" y="130.5" width="42.87" height="16.08" fill="#8ec6dd"/>
<rect x="976.19" y="130.5" width="42.87" height="16.08" fill="#b8dcea"/>
<rect x="1019.06" y="130.5" width="42.87" height="16.08" fill="#efd1bf"/>
<rect x="1061.93" y="130.5" width="42.87" height="16.08" fill="#c2e0ed"/>
<rect x="676.1" y="146.58" width="42.87" height="16.08" fill="#fbf4f0"/>
<rect x="718.97" y="146.58" width="42.87" height="16.08" fill="#e1f0f6"/>
<rect x="761.84" y="146.58" width="42.87" height="16.08" fill="#efd1bf"/>
<rect x="804.71" y="146.58" width="42.87" height="16.08" fill="#fdfdfd"/>
<rect x="847.58" y="146.58" width="42.87" height="16.08" fill="#fdfdfd"/>
<rect x="890.45" y="146.58" width="42.87" height="16.08" fill="#e9bea5"/>
<rect x="933.32" y="146.58" width="42.87" height="16.08" fill="#c2e0ed"/>
<rect x="976.19" y="146.58" width="42.87" height="16.08" fill="#dbedf4"/>
<rect x="1019.06" y="146.58" width="42.87" height="16.08" fill="#f4e1d4"/>
<rect x="1061.93" y="146.58" width="42.87" height="16.08" fill="#a2d0e3"/>
<rect x="676.1" y="162.66" width="42.87" height="16.08" fill="#efd1bf"/>
<rect x="718.97" y="162.66" width="42.87" height="16.08" fill="#fdfdfd"/>
<rect x="761.84" y="162.66" width="42.87" height="16.08" fill="#e9bea5"/>
<rect x="804.71" y="162.66" width="42.87" height="16.08" fill="#b8dcea"/>
<rect x="847.58" y="162.66" width="42.87" height="16.08" fill="#faf1eb"/>
<rect x="890.45" y="162.66" width="42.87" height="16.08" fill="#f4e1d4"/>
<rect x="933.32" y="162.66" width="42.87" height="16.08" fill="#b8dcea"/>
<rect x="976.19" y="162.66" width="42.87" height="16.08" fill="#e6f3f8"/>
<rect x="1019.06" y="162.66" width="42.87" height="16.08" fill="#efd1bf"/>
<rect x="1061.93" y="162.66" width="42.87" height="16.08" fill="#faf1eb"/>
<rect x="676.1" y="178.74" width="42.87" height="16.08" fill="#e9bea5"/>
<rect x="718.97" y="178.74" width="42.87" height="16.08" fill="#cbe5f0"/>
<rect x="761.84" y="178.74" width="42.87" height="16.08" fill="#efd1bf"/>
<rect x="804.71" y="178.74" width="42.87" height="16.08" fill="#c2e0ed"/>
<rect x="847.58" y="178.74" width="42.87" height="16.08" fill="#f4e1d4"/>
<rect x="890.45" y="178.74" width="42.87" height="16.08" fill="#e9bea5"/>
<rect x="933.32" y="178.74" width="42.87" height="16.08" fill="#6bb5d3"/>
<rect x="976.19" y="178.74" width="42.87" height="16.08" fill="#a2d0e3"/>
<rect x="1019.06" y="178.74" width="42.87" height="16.08" fill="#efd1bf"/>
<rect x="1061.93" y="178.74" width="42.87" height="16.08" fill="#faf1eb"/>
<rect x="676.1" y="194.83" width="42.87" height="16.08" fill="#e9bea5"/>
<rect x="718.97" y="194.83" width="42.87" height="16.08" fill="#a2d0e3"/>
<rect x="761.84" y="194.83" width="42.87" height="16.08" fill="#efd1bf"/>
<rect x="804.71" y="194.83" width="42.87" height="16.08" fill="#edf6fa"/>
<rect x="847.58" y="194.83" width="42.87" height="16.08" fill="#f4e1d4"/>
<rect x="890.45" y="194.83" width="42.87" height="16.08" fill="#efd1bf"/>
<rect x="933.32" y="194.83" width="42.87" height="16.08" fill="#58abcd"/>
<rect x="976.19" y="194.83" width="42.87" height="16.08" fill="#a2d0e3"/>
<rect x="1019.06" y="194.83" width="42.87" height="16.08" fill="#e9bea5"/>
<rect x="1061.93" y="194.83" width="42.87" height="16.08" fill="#f4e1d4"/>
<rect x="676.1" y="210.91" width="42.87" height="16.08" fill="#edf6fa"/>
<rect x="718.97" y="210.91" width="42.87" height="16.08" fill="#79bcd7"/>
<rect x="761.84" y="210.91" width="42.87" height="16.08" fill="#cbe5f0"/>
<rect x="804.71" y="210.91" width="42.87" height="16.08" fill="#e9bea5"/>
<rect x="847.58" y="210.91" width="42.87" height="16.08" fill="#85c2db"/>
<rect x="890.45" y="210.91" width="42.87" height="16.08" fill="#96cae0"/>
<rect x="933.32" y="210.91" width="42.87" height="16.08" fill="#faf1eb"/>
<rect x="976.19" y="210.91" width="42.87" height="16.08" fill="#efd1bf"/>
<rect x="1019.06" y="210.91" width="42.87" height="16.08" fill="#f4e1d4"/>
<rect x="1061.93" y="210.91" width="42.87" height="16.08" fill="#e6f3f8"/>
<rect x="676.1" y="226.99" width="42.87" height="16.08" fill="#f2f8fb"/>
<rect x="718.97" y="226.99" width="42.87" height="16.08" fill="#c2e0ed"/>
<rect x="761.84" y="226.99" width="42.87" height="16.08" fill="#b2d8e8"/>
<rect x="804.71" y="226.99" width="42.87" height="16.08" fill="#efd1bf"/>
<rect x="847.58" y="226.99" width="42.87" height="16.08" fill="#acd5e6"/>
<rect x="890.45" y="226.99" width="42.87" height="16.08" fill="#58abcd"/>
<rect x="933.32" y="226.99" width="42.87" height="16.08" fill="#f4e1d4"/>
<rect x="976.19" y="226.99" width="42.87" height="16.08" fill="#efd1bf"/>
<rect x="1019.06" y="226.99" width="42.87" height="16.08" fill="#faf1eb"/>
<rect x="1061.93" y="226.99" width="42.87" height="16.08" fill="#f4e1d4"/>
<rect x="676.1" y="243.08" width="42.87" height="16.08" fill="#acd5e6"/>
<rect x="718.97" y="243.08" width="42.87" height="16.08" fill="#afd7e7"/>
<rect x="761.84" y="243.08" width="42.87" height="16.08" fill="#faf1eb"/>
<rect x="804.71" y="243.08" width="42.87" height="16.08" fill="#efd1bf"/>
<rect x="847.58" y="243.08" width="42.87" height="16.08" fill="#a2d0e3"/>
<rect x="890.45" y="243.08" width="42.87" height="16.08" fill="#f4e1d4"/>
<rect x="933.32" y="243.08" width="42.87" height="16.08" fill="#faf1eb"/>
<rect x="976.19" y="243.08" width="42.87" height="16.08" fill="#f4e1d4"/>
<rect x="1019.06" y="243.08" width="42.87" height="16.08" fill="#faf1eb"/>
<rect x="1061.93" y="243.08" width="42.87" height="16.08" fill="#58abcd"/>
<rect x="676.1" y="259.16" width="42.87" height="16.08" fill="#acd5e6"/>
<rect x="718.97" y="259.16" width="42.87" height="16.08" fill="#afd7e7"/>
<rect x="761.84" y="259.16" width="42.87" height="16.08" fill="#faf1eb"/>
<rect x="804.71" y="259.16" width="42.87" height="16.08" fill="#efd1bf"/>
<rect x="847.58" y="259.16" width="42.87" height="16.08" fill="#a2d0e3"/>
<rect x="890.45" y="259.16" width="42.87" height="16.08" fill="#f4e1d4"/>
<rect x="933.32" y="259.16" width="42.87" height="16.08" fill="#faf1eb"/>
<rect x="976.19" y="259.16" width="42.87" height="16.08" fill="#f4e1d4"/>
<rect x="1019.06" y="259.16" width="42.87" height="16.08" fill="#faf1eb"/>
<rect x="1061.93" y="259.16" width="42.87" height="16.08" fill="#58abcd"/>
<rect x="676.1" y="275.24" width="42.87" height="16.08" fill="#f2f8fb"/>
<rect x="718.97" y="275.24" width="42.87" height="16.08" fill="#a2d0e3"/>
<rect x="761.84" y="275.24" width="42.87" height="16.08" fill="#afd7e7"/>
<rect x="804.71" y="275.24" width="42.87" height="16.08" fill="#efd1bf"/>
<rect x="847.58" y="275.24" width="42.87" height="16.08" fill="#58abcd"/>
<rect x="890.45" y="275.24" width="42.87" height="16.08" fill="#fdfdfd"/>
<rect x="933.32" y="275.24" width="42.87" height="16.08" fill="#f4e1d4"/>
<rect x="976.19" y="275.24" width="42.87" height="16.08" fill="#ebc4ad"/>
<rect x="1019.06" y="275.24" width="42.87" height="16.08" fill="#f7e9e0"/>
<rect x="1061.93" y="275.24" width="42.87" height="16.08" fill="#79bcd7"/>
<rect x="676.1" y="291.32" width="42.87" height="16.08" fill="#85c2db"/>
<rect x="718.97" y="291.32" width="42.87" height="16.08" fill="#a2d0e3"/>
<rect x="761.84" y="291.32" width="42.87" height="16.08" fill="#e6f3f8"/>
<rect x="804.71" y="291.32" width="42.87" height="16.08" fill="#e9bea5"/>
<rect x="847.58" y="291.32" width="42.87" height="16.08" fill="#61b0d0"/>
<rect x="890.45" y="291.32" width="42.87" height="16.08" fill="#f2f8fb"/>
<rect x="933.32" y="291.32" width="42.87" height="16.08" fill="#f4e1d4"/>
<rect x="976.19" y="291.32" width="42.87" height="16.08" fill="#efd1bf"/>
<rect x="1019.06" y="291.32" width="42.87" height="16.08" fill="#fcf6f3"/>
<rect x="1061.93" y="291.32" width="42.87" height="16.08" fill="#58abcd"/>
<rect x="676.1" y="307.41" width="42.87" height="16.08" fill="#8ec6dd"/>
<rect x="718.97" y="307.41" width="42.87" height="16.08" fill="#a2d0e3"/>
<rect x="761.84" y="307.41" width="42.87" height="16.08" fill="#fdf9f6"/>
<rect x="804.71" y="307.41" width="42.87" height="16.08" fill="#e9bea5"/>
<rect x="847.58" y="307.41" width="42.87" height="16.08" fill="#58abcd"/>
<rect x="890.45" y="307.41" width="42.87" height="16.08" fill="#cbe5f0"/>
<rect x="933.32" y="307.41" width="42.87" height="16.08" fill="#f4e1d4"/>
<rect x="976.19" y="307.41" width="42.87" height="16.08" fill="#efd1bf"/>
<rect x="1019.06" y="307.41" width="42.87" height="16.08" fill="#fcf6f3"/>
<rect x="1061.93" y="307.41" width="42.87" height="16.08" fill="#61b0d0"/>
<rect x="676.1" y="323.49" width="42.87" height="16.08" fill="#58abcd"/>
<rect x="718.97" y="323.49" width="42.87" height="16.08" fill="#efd1bf"/>
<rect x="761.84" y="323.49" width="42.87" height="16.08" fill="#96cae0"/>
<rect x="804.71" y="323.49" width="42.87" height="16.08" fill="#fcf6f3"/>
<rect x="847.58" y="323.49" width="42.87" height="16.08" fill="#acd5e6"/>
<rect x="890.45" y="323.49" width="42.87" height="16.08" fill="#b8dcea"/>
<rect x="933.32" y="323.49" width="42.87" height="16.08" fill="#e6b89c"/>
<rect x="976.19" y="323.49" width="42.87" height="16.08" fill="#efd1bf"/>
<rect x="1019.06" y="323.49" width="42.87" height="16.08" fill="#58abcd"/>
<rect x="1061.93" y="323.49" width="42.87" height="16.08" fill="#79bcd7"/>
<rect x="676.1" y="339.57" width="42.87" height="16.08" fill="#58abcd"/>
<rect x="718.97" y="339.57" width="42.87" height="16.08" fill="#ebc6af"/>
<rect x="761.84" y="339.57" width="42.87" height="16.08" fill="#e1f0f6"/>
<rect x="804.71" y="339.57" width="42.87" height="16.08" fill="#d2e8f1"/>
<rect x="847.58" y="339.57" width="42.87" height="16.08" fill="#acd5e6"/>
<rect x="890.45" y="339.57" width="42.87" height="16.08" fill="#b2d8e8"/>
<rect x="933.32" y="339.57" width="42.87" height="16.08" fill="#e9bea5"/>
<rect x="976.19" y="339.57" width="42.87" height="16.08" fill="#efd1bf"/>
<rect x="1019.06" y="339.57" width="42.87" height="16.08" fill="#79bcd7"/>
<rect x="1061.93" y="339.57" width="42.87" height="16.08" fill="#96cae0"/>
<rect x="676.1" y="355.66" width="42.87" height="16.08" fill="#acd5e6"/>
<rect x="718.97" y="355.66" width="42.87" height="16.08" fill="#f7e7dd"/>
<rect x="761.84" y="355.66" width="42.87" height="16.08" fill="#fcf6f3"/>
<rect x="804.71" y="355.66" width="42.87" height="16.08" fill="#cfe7f0"/>
<rect x="847.58" y="355.66" width="42.87" height="16.08" fill="#a9d4e5"/>
<rect x="890.45" y="355.66" width="42.87" height="16.08" fill="#f1d7c8"/>
<rect x="933.32" y="355.66" width="42.87" height="16.08" fill="#f3dcce"/>
<rect x="976.19" y="355.66" width="42.87" height="16.08" fill="#f4e1d4"/>
<rect x="1019.06" y="355.66" width="42.87" height="16.08" fill="#c2e0ed"/>
<rect x="1061.93" y="355.66" width="42.87" height="16.08" fill="#58abcd"/>
<rect x="676.1" y="371.74" width="42.87" height="16.08" fill="#e9f4f8"/>
<rect x="718.97" y="371.74" width="42.87" height="16.08" fill="#faf1eb"/>
<rect x="761.84" y="371.74" width="42.87" height="16.08" fill="#f8ece4"/>
<rect x="804.71" y="371.74" width="42.87" height="16.08" fill="#d8ebf3"/>
<rect x="847.58" y="371.74" width="42.87" height="16.08" fill="#a9d4e5"/>
<rect x="890.45" y="371.74" width="42.87" height="16.08" fill="#eeceba"/>
<rect x="933.32" y="371.74" width="42.87" height="16.08" fill="#f7e7dd"/>
<rect x="976.19" y="371.74" width="42.87" height="16.08" fill="#f4e1d4"/>
<rect x="1019.06" y="371.74" width="42.87" height="16.08" fill="#fcf6f3"/>
<rect x="1061.93" y="371.74" width="42.87" height="16.08" fill="#58abcd"/>
<rect x="676.1" y="387.82" width="42.87" height="16.08" fill="#d2e8f1"/>
<rect x="718.97" y="387.82" width="42.87" height="16.08" fill="#faf1eb"/>
<rect x="761.84" y="387.82" width="42.87" height="16.08" fill="#fbf3ee"/>
<rect x="804.71" y="387.82" width="42.87" height="16.08" fill="#e6f3f8"/>
<rect x="847.58" y="387.82" width="42.87" height="16.08" fill="#b2d8e8"/>
<rect x="890.45" y="387.82" width="42.87" height="16.08" fill="#edccb7"/>
<rect x="933.32" y="387.82" width="42.87" height="16.08" fill="#f7e9e0"/>
<rect x="976.19" y="387.82" width="42.87" height="16.08" fill="#f6e5db"/>
<rect x="1019.06" y="387.82" width="42.87" height="16.08" fill="#edf6fa"/>
<rect x="1061.93" y="387.82" width="42.87" height="16.08" fill="#58abcd"/>
<rect x="676.1" y="403.9" width="42.87" height="16.08" fill="#79bcd7"/>
<rect x="718.97" y="403.9" width="42.87" height="16.08" fill="#f8ece4"/>
<rect x="761.84" y="403.9" width="42.87" height="16.08" fill="#e6f3f8"/>
<rect x="804.71" y="403.9" width="42.87" height="16.08" fill="#faf1eb"/>
<rect x="847.58" y="403.9" width="42.87" height="16.08" fill="#85c2db"/>
<rect x="890.45" y="403.9" width="42.87" height="16.08" fill="#fcf6f3"/>
<rect x="933.32" y="403.9" width="42.87" height="16.08" fill="#eeceba"/>
<rect x="976.19" y="403.9" width="42.87" height="16.08" fill="#efd1bf"/>
<rect x="1019.06" y="403.9" width="42.87" height="16.08" fill="#b2d8e8"/>
<rect x="1061.93" y="403.9" width="42.87" height="16.08" fill="#4aa4c9"/>
<rect x="676.1" y="419.99" width="42.87" height="16.08" fill="#79bcd7"/>
<rect x="718.97" y="419.99" width="42.87" height="16.08" fill="#fbf3ee"/>
<rect x="761.84" y="419.99" width="42.87" height="16.08" fill="#fcf5f1"/>
<rect x="804.71" y="419.99" width="42.87" height="16.08" fill="#f7e9e0"/>
<rect x="847.58" y="419.99" width="42.87" height="16.08" fill="#70b7d4"/>
<rect x="890.45" y="419.99" width="42.87" height="16.08" fill="#f4fafc"/>
<rect x="933.32" y="419.99" width="42.87" height="16.08" fill="#edccb7"/>
<rect x="976.19" y="419.99" width="42.87" height="16.08" fill="#ecc8b2"/>
<rect x="1019.06" y="419.99" width="42.87" height="16.08" fill="#d2e8f1"/>
<rect x="1061.93" y="419.99" width="42.87" height="16.08" fill="#4aa4c9"/>
<rect x="676.1" y="436.07" width="42.87" height="16.08" fill="#81c0d9"/>
<rect x="718.97" y="436.07" width="42.87" height="16.08" fill="#cbe5f0"/>
<rect x="761.84" y="436.07" width="42.87" height="16.08" fill="#fdfdfd"/>
<rect x="804.71" y="436.07" width="42.87" height="16.08" fill="#efd1bf"/>
<rect x="847.58" y="436.07" width="42.87" height="16.08" fill="#70b7d4"/>
<rect x="890.45" y="436.07" width="42.87" height="16.08" fill="#fcf5f1"/>
<rect x="933.32" y="436.07" width="42.87" height="16.08" fill="#f1d7c8"/>
<rect x="976.19" y="436.07" width="42.87" height="16.08" fill="#eeceba"/>
<rect x="1019.06" y="436.07" width="42.87" height="16.08" fill="#edf6fa"/>
<rect x="1061.93" y="436.07" width="42.87" height="16.08" fill="#4aa4c9"/>
<rect x="676.1" y="452.15" width="42.87" height="16.08" fill="#8ac4dc"/>
<rect x="718.97" y="452.15" width="42.87" height="16.08" fill="#f2f8fb"/>
<rect x="761.84" y="452.15" width="42.87" height="16.08" fill="#f0f7fa"/>
<rect x="804.71" y="452.15" width="42.87" height="16.08" fill="#f4e1d4"/>
<rect x="847.58" y="452.15" width="42.87" height="16.08" fill="#6bb5d3"/>
<rect x="890.45" y="452.15" width="42.87" height="16.08" fill="#fbf4f0"/>
<rect x="933.32" y="452.15" width="42.87" height="16.08" fill="#efd1bf"/>
<rect x="976.19" y="452.15" width="42.87" height="16.08" fill="#edccb7"/>
<rect x="1019.06" y="452.15" width="42.87" height="16.08" fill="#ebf5f9"/>
<rect x="1061.93" y="452.15" width="42.87" height="16.08" fill="#4aa4c9"/>
<rect x="676.1" y="468.23" width="42.87" height="16.08" fill="#c8e3ef"/>
<rect x="718.97" y="468.23" width="42.87" height="16.08" fill="#fdfdfd"/>
<rect x="761.84" y="468.23" width="42.87" height="16.08" fill="#fdfdfd"/>
<rect x="804.71" y="468.23" width="42.87" height="16.08" fill="#fbf4f0"/>
<rect x="847.58" y="468.23" width="42.87" height="16.08" fill="#85c2db"/>
<rect x="890.45" y="468.23" width="42.87" height="16.08" fill="#f4e1d4"/>
<rect x="933.32" y="468.23" width="42.87" height="16.08" fill="#f4e1d4"/>
<rect x="976.19" y="468.23" width="42.87" height="16.08" fill="#efd1bf"/>
<rect x="1019.06" y="468.23" width="42.87" height="16.08" fill="#f0f7fa"/>
<rect x="1061.93" y="468.23" width="42.87" height="16.08" fill="#4aa4c9"/>
<rect x="676.1" y="484.32" width="42.87" height="16.08" fill="#e1f0f6"/>
<rect x="718.97" y="484.32" width="42.87" height="16.08" fill="#f2f8fb"/>
<rect x="761.84" y="484.32" width="42.87" height="16.08" fill="#d8ebf3"/>
<rect x="804.71" y="484.32" width="42.87" height="16.08" fill="#fcf6f3"/>
<rect x="847.58" y="484.32" width="42.87" height="16.08" fill="#70b7d4"/>
<rect x="890.45" y="484.32" width="42.87" height="16.08" fill="#f4e1d4"/>
<rect x="933.32" y="484.32" width="42.87" height="16.08" fill="#f3dcce"/>
<rect x="976.19" y="484.32" width="42.87" height="16.08" fill="#edccb7"/>
<rect x="1019.06" y="484.32" width="42.87" height="16.08" fill="#fdfdfd"/>
<rect x="1061.93" y="484.32" width="42.87" height="16.08" fill="#58abcd"/>
</g>
<g font-family='"Liberation Serif","DejaVu Serif",serif' font-size="7.5" font-weight="bold" text-anchor="middle" fill="#06090c" stroke="#06090c" stroke-width="1.4" stroke-linejoin="round" opacity="0.7" letter-spacing="1.9">
<text x="869.97" y="44.44">*</text>
<text x="1084.32" y="60.52">**</text>
<text x="869.97" y="76.61">*</text>
<text x="1084.32" y="76.61">**</text>
<text x="869.97" y="92.69">*</text>
<text x="998.58" y="92.69">*</text>
<text x="1084.32" y="92.69">**</text>
<text x="741.36" y="108.77">**</text>
<text x="1041.44" y="108.77">*</text>
<text x="912.84" y="124.86">**</text>
<text x="912.84" y="140.94">*</text>
<text x="912.84" y="157.02">*</text>
<text x="784.23" y="173.1">*</text>
<text x="912.84" y="189.19">**</text>
<text x="698.49" y="205.27">*</text>
<text x="955.7" y="205.27">*</text>
<text x="1041.44" y="205.27">*</text>
<text x="827.1" y="221.35">*</text>
<text x="912.84" y="237.43">*</text>
<text x="1084.32" y="253.52">*</text>
<text x="1084.32" y="269.6">*</text>
<text x="869.97" y="285.68">*</text>
<text x="1084.32" y="301.77">*</text>
<text x="869.97" y="317.85">*</text>
<text x="698.49" y="333.93">*</text>
<text x="955.7" y="333.93">*</text>
<text x="1041.44" y="333.93">*</text>
<text x="698.49" y="350.01">*</text>
<text x="955.7" y="350.01">*</text>
<text x="1084.32" y="366.1">*</text>
<text x="1084.32" y="382.18">*</text>
<text x="1084.32" y="398.26">*</text>
<text x="1084.32" y="414.34">**</text>
<text x="1084.32" y="430.43">**</text>
<text x="1084.32" y="446.51">**</text>
<text x="1084.32" y="462.59">***</text>
<text x="1084.32" y="478.68">**</text>
<text x="1084.32" y="494.76">*</text>
</g>
<g font-family='"Liberation Serif","DejaVu Serif",serif' font-size="11.45" fill="#111" stroke="#111" stroke-width="0.25" letter-spacing="0">
<text x="1108.3" y="45.71">Firmicutes</text>
<text x="1108.3" y="61.79">Aminicenantes</text>
<text x="1108.3" y="77.87">Chloroflexi</text>
<text x="1108.3" y="93.95">Synergistetes</text>
<text x="1108.3" y="110.04">Candidatus Saccharibacteria</text>
<text x="1108.3" y="126.12">Aenigmarchaeota</text>
<text x="1108.3" y="142.2">Elusimicrobia</text>
<text x="1108.3" y="158.28">Omnitrophica</text>
<text x="1108.3" y="174.37">Tenericutes</text>
<text x="1108.3" y="190.45">Bacteroidetes</text>
<text x="1108.3" y="206.53">Fibrobacteres</text>
<text x="1108.3" y="222.62">Nitrospirae</text>
<text x="1108.3" y="238.7">BRC1</text>
<text x="1108.3" y="254.78">observed_otus</text>
<text x="1108.3" y="270.86">PD_whole_tree</text>
<text x="1108.3" y="286.95">Nitrospinae</text>
<text x="1108.3" y="303.03">chao1</text>
<text x="1108.3" y="319.11">Planctomycetes</text>
<text x="1108.3" y="335.2">Cyanobacteria/Chloroplast</text>
<text x="1108.3" y="351.28">Woesearchaeota</text>
<text x="1108.3" y="367.36">Euryarchaeota</text>
<text x="1108.3" y="383.44">Ignavibacteriae</text>
<text x="1108.3" y="399.53">Pacearchaeota</text>
<text x="1108.3" y="415.61">Parcubacteria</text>
<text x="1108.3" y="431.69">Marinimicrobia</text>
<text x="1108.3" y="447.77">shannon</text>
<text x="1108.3" y="463.86">Deferribacteres</text>
<text x="1108.3" y="479.94">Unclassified</text>
<text x="1108.3" y="496.02">Chlamydiae</text>
</g>
<g font-family='"Liberation Serif","DejaVu Serif",serif' font-size="12" font-weight="bold" text-anchor="end" fill="#000" letter-spacing="0.5">
<text transform="translate(702.24 512.2) rotate(-45)">pH</text>
<text transform="translate(741.11 510.7) rotate(-45)">Salinity</text>
<text transform="translate(785.27 508.9) rotate(-45)">Water cotent</text>
<text transform="translate(834.64 508.4) rotate(-45)">Sediment temp.</text>
<text transform="translate(879.31 511.7) rotate(-45)">TC</text>
<text transform="translate(921.68 512.9) rotate(-45)">TN</text>
<text transform="translate(967.75 514.7) rotate(-45)">SO<tspan dy="2.64" font-size="7.44">4</tspan><tspan dy="-7.44" dx="-3.6" font-size="7.44">2-</tspan><tspan dy="4.8" font-size="7.44"> </tspan></text>
<text transform="translate(1009.42 512.2) rotate(-45)">Fe<tspan dy="-4.56" font-size="7.44">3+</tspan><tspan dy="4.56" font-size="7.44"> </tspan></text>
<text transform="translate(1050.99 512.2) rotate(-45)">Fe<tspan dy="-4.56" font-size="7.44">2+</tspan><tspan dy="4.56" font-size="7.44"> </tspan></text>
<text transform="translate(1095.46 505.9) rotate(-45)">Sediment CO<tspan dy="2.64" font-size="7.44">2</tspan><tspan dy="-2.64"> flux</tspan></text>
</g>
</g>
<g id="panel-C">
<text x="1286" y="22.5" font-family='"Liberation Serif","DejaVu Serif",serif' font-weight="bold" font-size="20" letter-spacing="1.75" fill="#000">(C) PhylumSA</text>
<path d="M1322.9 87L1322.9 108.2M1322.9 87L1326.9 87M1322.9 108.2L1326.9 108.2M1319.4 65.8L1319.4 97.6M1319.4 65.8L1326.9 65.8M1319.4 97.6L1322.9 97.6M1325.6 129.4L1325.6 171.8M1325.6 129.4L1326.9 129.4M1325.6 150.6L1326.9 150.6M1325.6 171.8L1326.9 171.8M1325.3 214.2L1325.3 256.6M1325.3 214.2L1326.9 214.2M1325.3 235.4L1326.9 235.4M1325.3 256.6L1326.9 256.6M1322 193L1322 235.4M1322 193L1326.9 193M1322 235.4L1325.3 235.4M1316.4 146L1316.4 214.2M1316.4 146L1325.6 146M1316.4 214.2L1322 214.2M1312 81.7L1312 180.1M1312 81.7L1319.4 81.7M1312 180.1L1316.4 180.1M1303 44.6L1303 130.9M1303 44.6L1326.9 44.6M1303 130.9L1312 130.9M1323.6 277.8L1323.6 299M1323.6 277.8L1326.9 277.8M1323.6 299L1326.9 299M1325.5 341.4L1325.5 362.6M1325.5 341.4L1326.9 341.4M1325.5 362.6L1326.9 362.6M1323.6 320.2L1323.6 352M1323.6 320.2L1326.9 320.2M1323.6 352L1325.5 352M1314.6 288.4L1314.6 336.1M1314.6 288.4L1323.6 288.4M1314.6 336.1L1323.6 336.1M1325.7 383.8L1325.7 405M1325.7 383.8L1326.9 383.8M1325.7 405L1326.9 405M1326 447.4L1326 489.8M1326 447.4L1326.9 447.4M1326 468.6L1326.9 468.6M1326 489.8L1326.9 489.8M1320.6 426.2L1320.6 468.6M1320.6 426.2L1326.9 426.2M1320.6 468.6L1326 468.6M1310.7 394.4L1310.7 447.4M1310.7 394.4L1325.7 394.4M1310.7 447.4L1320.6 447.4M1299.5 312.25L1299.5 420.9M1299.5 312.25L1314.6 312.25M1299.5 420.9L1310.7 420.9M1291.2 87.75L1291.2 366.57M1291.2 87.75L1303 87.75M1291.2 366.57L1299.5 366.57" fill="none" stroke="#222" stroke-width="1.1" stroke-linecap="square"/>
<g stroke="#969696" stroke-opacity="0.6" stroke-width="1" shape-rendering="crispEdges">
<rect x="1326.9" y="34" width="42.38" height="21.2" fill="#79bcd7"/>
<rect x="1369.28" y="34" width="42.38" height="21.2" fill="#b8dcea"/>
<rect x="1411.66" y="34" width="42.38" height="21.2" fill="#f7e7dd"/>
<rect x="1454.04" y="34" width="42.38" height="21.2" fill="#b8dcea"/>
<rect x="1496.42" y="34" width="42.38" height="21.2" fill="#f9eee7"/>
<rect x="1538.8" y="34" width="42.38" height="21.2" fill="#f9eee7"/>
<rect x="1581.18" y="34" width="42.38" height="21.2" fill="#f4e1d4"/>
<rect x="1623.56" y="34" width="42.38" height="21.2" fill="#8ac4dc"/>
<rect x="1665.94" y="34" width="42.38" height="21.2" fill="#ebf5f9"/>
<rect x="1708.32" y="34" width="42.38" height="21.2" fill="#eac2aa"/>
<rect x="1326.9" y="55.2" width="42.38" height="21.2" fill="#f1d6c6"/>
<rect x="1369.28" y="55.2" width="42.38" height="21.2" fill="#bcddeb"/>
<rect x="1411.66" y="55.2" width="42.38" height="21.2" fill="#f0d4c3"/>
<rect x="1454.04" y="55.2" width="42.38" height="21.2" fill="#efd1bf"/>
<rect x="1496.42" y="55.2" width="42.38" height="21.2" fill="#eac2aa"/>
<rect x="1538.8" y="55.2" width="42.38" height="21.2" fill="#f2d9ca"/>
<rect x="1581.18" y="55.2" width="42.38" height="21.2" fill="#acd5e6"/>
<rect x="1623.56" y="55.2" width="42.38" height="21.2" fill="#e1f0f6"/>
<rect x="1665.94" y="55.2" width="42.38" height="21.2" fill="#f1d7c8"/>
<rect x="1708.32" y="55.2" width="42.38" height="21.2" fill="#fbf4f0"/>
<rect x="1326.9" y="76.4" width="42.38" height="21.2" fill="#eeceba"/>
<rect x="1369.28" y="76.4" width="42.38" height="21.2" fill="#fdf9f6"/>
<rect x="1411.66" y="76.4" width="42.38" height="21.2" fill="#f6e5db"/>
<rect x="1454.04" y="76.4" width="42.38" height="21.2" fill="#eac2aa"/>
<rect x="1496.42" y="76.4" width="42.38" height="21.2" fill="#f4e1d4"/>
<rect x="1538.8" y="76.4" width="42.38" height="21.2" fill="#f7e9e0"/>
<rect x="1581.18" y="76.4" width="42.38" height="21.2" fill="#e9f4f8"/>
<rect x="1623.56" y="76.4" width="42.38" height="21.2" fill="#c2e0ed"/>
<rect x="1665.94" y="76.4" width="42.38" height="21.2" fill="#acd5e6"/>
<rect x="1708.32" y="76.4" width="42.38" height="21.2" fill="#96cae0"/>
<rect x="1326.9" y="97.6" width="42.38" height="21.2" fill="#f0d4c3"/>
<rect x="1369.28" y="97.6" width="42.38" height="21.2" fill="#f4e1d4"/>
<rect x="1411.66" y="97.6" width="42.38" height="21.2" fill="#eac2aa"/>
<rect x="1454.04" y="97.6" width="42.38" height="21.2" fill="#ecc8b2"/>
<rect x="1496.42" y="97.6" width="42.38" height="21.2" fill="#eac2aa"/>
<rect x="1538.8" y="97.6" width="42.38" height="21.2" fill="#eac2aa"/>
<rect x="1581.18" y="97.6" width="42.38" height="21.2" fill="#96cae0"/>
<rect x="1623.56" y="97.6" width="42.38" height="21.2" fill="#c2e0ed"/>
<rect x="1665.94" y="97.6" width="42.38" height="21.2" fill="#f2f8fb"/>
<rect x="1708.32" y="97.6" width="42.38" height="21.2" fill="#fdfdfd"/>
<rect x="1326.9" y="118.8" width="42.38" height="21.2" fill="#faf1eb"/>
<rect x="1369.28" y="118.8" width="42.38" height="21.2" fill="#efd1bf"/>
<rect x="1411.66" y="118.8" width="42.38" height="21.2" fill="#f7e7dd"/>
<rect x="1454.04" y="118.8" width="42.38" height="21.2" fill="#faf1eb"/>
<rect x="1496.42" y="118.8" width="42.38" height="21.2" fill="#efd1bf"/>
<rect x="1538.8" y="118.8" width="42.38" height="21.2" fill="#e9bea5"/>
<rect x="1581.18" y="118.8" width="42.38" height="21.2" fill="#f2f8fb"/>
<rect x="1623.56" y="118.8" width="42.38" height="21.2" fill="#96cae0"/>
<rect x="1665.94" y="118.8" width="42.38" height="21.2" fill="#faf1eb"/>
<rect x="1708.32" y="118.8" width="42.38" height="21.2" fill="#d2e8f1"/>
<rect x="1326.9" y="140" width="42.38" height="21.2" fill="#fdfdfd"/>
<rect x="1369.28" y="140" width="42.38" height="21.2" fill="#f3dcce"/>
<rect x="1411.66" y="140" width="42.38" height="21.2" fill="#fbf4f0"/>
<rect x="1454.04" y="140" width="42.38" height="21.2" fill="#fdfaf8"/>
<rect x="1496.42" y="140" width="42.38" height="21.2" fill="#f0d4c3"/>
<rect x="1538.8" y="140" width="42.38" height="21.2" fill="#ebc4ad"/>
<rect x="1581.18" y="140" width="42.38" height="21.2" fill="#fcf6f3"/>
<rect x="1623.56" y="140" width="42.38" height="21.2" fill="#a2d0e3"/>
<rect x="1665.94" y="140" width="42.38" height="21.2" fill="#f7e9e0"/>
<rect x="1708.32" y="140" width="42.38" height="21.2" fill="#e6f3f8"/>
<rect x="1326.9" y="161.2" width="42.38" height="21.2" fill="#fdfdfd"/>
<rect x="1369.28" y="161.2" width="42.38" height="21.2" fill="#f4e1d4"/>
<rect x="1411.66" y="161.2" width="42.38" height="21.2" fill="#faf1eb"/>
<rect x="1454.04" y="161.2" width="42.38" height="21.2" fill="#fdfaf8"/>
<rect x="1496.42" y="161.2" width="42.38" height="21.2" fill="#f0d4c3"/>
<rect x="1538.8" y="161.2" width="42.38" height="21.2" fill="#ebc4ad"/>
<rect x="1581.18" y="161.2" width="42.38" height="21.2" fill="#fcf6f3"/>
<rect x="1623.56" y="161.2" width="42.38" height="21.2" fill="#a2d0e3"/>
<rect x="1665.94" y="161.2" width="42.38" height="21.2" fill="#f6e5db"/>
<rect x="1708.32" y="161.2" width="42.38" height="21.2" fill="#fdfaf8"/>
<rect x="1326.9" y="182.4" width="42.38" height="21.2" fill="#e6f3f8"/>
<rect x="1369.28" y="182.4" width="42.38" height="21.2" fill="#c8e3ef"/>
<rect x="1411.66" y="182.4" width="42.38" height="21.2" fill="#f7e9e0"/>
<rect x="1454.04" y="182.4" width="42.38" height="21.2" fill="#f7e9e0"/>
<rect x="1496.42" y="182.4" width="42.38" height="21.2" fill="#f6e5db"/>
<rect x="1538.8" y="182.4" width="42.38" height="21.2" fill="#f7e9e0"/>
<rect x="1581.18" y="182.4" width="42.38" height="21.2" fill="#efd1bf"/>
<rect x="1623.56" y="182.4" width="42.38" height="21.2" fill="#4aa4c9"/>
<rect x="1665.94" y="182.4" width="42.38" height="21.2" fill="#8ac4dc"/>
<rect x="1708.32" y="182.4" width="42.38" height="21.2" fill="#fbf4f0"/>
<rect x="1326.9" y="203.6" width="42.38" height="21.2" fill="#f4e1d4"/>
<rect x="1369.28" y="203.6" width="42.38" height="21.2" fill="#edf6fa"/>
<rect x="1411.66" y="203.6" width="42.38" height="21.2" fill="#eac2aa"/>
<rect x="1454.04" y="203.6" width="42.38" height="21.2" fill="#eac2aa"/>
<rect x="1496.42" y="203.6" width="42.38" height="21.2" fill="#ebc6af"/>
<rect x="1538.8" y="203.6" width="42.38" height="21.2" fill="#f0d4c3"/>
<rect x="1581.18" y="203.6" width="42.38" height="21.2" fill="#f4fafc"/>
<rect x="1623.56" y="203.6" width="42.38" height="21.2" fill="#81c0d9"/>
<rect x="1665.94" y="203.6" width="42.38" height="21.2" fill="#a2d0e3"/>
<rect x="1708.32" y="203.6" width="42.38" height="21.2" fill="#fbf3ee"/>
<rect x="1326.9" y="224.8" width="42.38" height="21.2" fill="#fbf4f0"/>
<rect x="1369.28" y="224.8" width="42.38" height="21.2" fill="#f7e9e0"/>
<rect x="1411.66" y="224.8" width="42.38" height="21.2" fill="#efd1bf"/>
<rect x="1454.04" y="224.8" width="42.38" height="21.2" fill="#f0d4c3"/>
<rect x="1496.42" y="224.8" width="42.38" height="21.2" fill="#efd1bf"/>
<rect x="1538.8" y="224.8" width="42.38" height="21.2" fill="#ebc4ad"/>
<rect x="1581.18" y="224.8" width="42.38" height="21.2" fill="#f6e5db"/>
<rect x="1623.56" y="224.8" width="42.38" height="21.2" fill="#58abcd"/>
<rect x="1665.94" y="224.8" width="42.38" height="21.2" fill="#a2d0e3"/>
<rect x="1708.32" y="224.8" width="42.38" height="21.2" fill="#fdfdfd"/>
<rect x="1326.9" y="246" width="42.38" height="21.2" fill="#fcf6f3"/>
<rect x="1369.28" y="246" width="42.38" height="21.2" fill="#fdfdfd"/>
<rect x="1411.66" y="246" width="42.38" height="21.2" fill="#efd1bf"/>
<rect x="1454.04" y="246" width="42.38" height="21.2" fill="#f0d4c3"/>
<rect x="1496.42" y="246" width="42.38" height="21.2" fill="#edccb7"/>
<rect x="1538.8" y="246" width="42.38" height="21.2" fill="#edccb7"/>
<rect x="1581.18" y="246" width="42.38" height="21.2" fill="#f7e9e0"/>
<rect x="1623.56" y="246" width="42.38" height="21.2" fill="#4aa4c9"/>
<rect x="1665.94" y="246" width="42.38" height="21.2" fill="#a9d4e5"/>
<rect x="1708.32" y="246" width="42.38" height="21.2" fill="#faf1eb"/>
<rect x="1326.9" y="267.2" width="42.38" height="21.2" fill="#efd1bf"/>
<rect x="1369.28" y="267.2" width="42.38" height="21.2" fill="#f6e5db"/>
<rect x="1411.66" y="267.2" width="42.38" height="21.2" fill="#b8dcea"/>
<rect x="1454.04" y="267.2" width="42.38" height="21.2" fill="#f4e1d4"/>
<rect x="1496.42" y="267.2" width="42.38" height="21.2" fill="#e6f3f8"/>
<rect x="1538.8" y="267.2" width="42.38" height="21.2" fill="#e6f3f8"/>
<rect x="1581.18" y="267.2" width="42.38" height="21.2" fill="#a2d0e3"/>
<rect x="1623.56" y="267.2" width="42.38" height="21.2" fill="#f3dcce"/>
<rect x="1665.94" y="267.2" width="42.38" height="21.2" fill="#faf1eb"/>
<rect x="1708.32" y="267.2" width="42.38" height="21.2" fill="#58abcd"/>
<rect x="1326.9" y="288.4" width="42.38" height="21.2" fill="#f0d4c3"/>
<rect x="1369.28" y="288.4" width="42.38" height="21.2" fill="#faf1eb"/>
<rect x="1411.66" y="288.4" width="42.38" height="21.2" fill="#cbe5f0"/>
<rect x="1454.04" y="288.4" width="42.38" height="21.2" fill="#f1d7c8"/>
<rect x="1496.42" y="288.4" width="42.38" height="21.2" fill="#fdfdfd"/>
<rect x="1538.8" y="288.4" width="42.38" height="21.2" fill="#fdfdfd"/>
<rect x="1581.18" y="288.4" width="42.38" height="21.2" fill="#fdfdfd"/>
<rect x="1623.56" y="288.4" width="42.38" height="21.2" fill="#fdfdfd"/>
<rect x="1665.94" y="288.4" width="42.38" height="21.2" fill="#cbe5f0"/>
<rect x="1708.32" y="288.4" width="42.38" height="21.2" fill="#58abcd"/>
<rect x="1326.9" y="309.6" width="42.38" height="21.2" fill="#f6e5db"/>
<rect x="1369.28" y="309.6" width="42.38" height="21.2" fill="#e9bea5"/>
<rect x="1411.66" y="309.6" width="42.38" height="21.2" fill="#ebf5f9"/>
<rect x="1454.04" y="309.6" width="42.38" height="21.2" fill="#fbf3ee"/>
<rect x="1496.42" y="309.6" width="42.38" height="21.2" fill="#f4e1d4"/>
<rect x="1538.8" y="309.6" width="42.38" height="21.2" fill="#efd1bf"/>
<rect x="1581.18" y="309.6" width="42.38" height="21.2" fill="#bcddeb"/>
<rect x="1623.56" y="309.6" width="42.38" height="21.2" fill="#fdfdfd"/>
<rect x="1665.94" y="309.6" width="42.38" height="21.2" fill="#f6e4d9"/>
<rect x="1708.32" y="309.6" width="42.38" height="21.2" fill="#8ec6dd"/>
<rect x="1326.9" y="330.8" width="42.38" height="21.2" fill="#f4e1d4"/>
<rect x="1369.28" y="330.8" width="42.38" height="21.2" fill="#e9bea5"/>
<rect x="1411.66" y="330.8" width="42.38" height="21.2" fill="#fcf5f1"/>
<rect x="1454.04" y="330.8" width="42.38" height="21.2" fill="#f8eae2"/>
<rect x="1496.42" y="330.8" width="42.38" height="21.2" fill="#faf1eb"/>
<rect x="1538.8" y="330.8" width="42.38" height="21.2" fill="#f4e1d4"/>
<rect x="1581.18" y="330.8" width="42.38" height="21.2" fill="#81c0d9"/>
<rect x="1623.56" y="330.8" width="42.38" height="21.2" fill="#f7e9e0"/>
<rect x="1665.94" y="330.8" width="42.38" height="21.2" fill="#f2f8fb"/>
<rect x="1708.32" y="330.8" width="42.38" height="21.2" fill="#8ec6dd"/>
<rect x="1326.9" y="352" width="42.38" height="21.2" fill="#f8ece4"/>
<rect x="1369.28" y="352" width="42.38" height="21.2" fill="#e9bea5"/>
<rect x="1411.66" y="352" width="42.38" height="21.2" fill="#fcf6f3"/>
<rect x="1454.04" y="352" width="42.38" height="21.2" fill="#fcf6f3"/>
<rect x="1496.42" y="352" width="42.38" height="21.2" fill="#fbf3ee"/>
<rect x="1538.8" y="352" width="42.38" height="21.2" fill="#f4e1d4"/>
<rect x="1581.18" y="352" width="42.38" height="21.2" fill="#6bb5d3"/>
<rect x="1623.56" y="352" width="42.38" height="21.2" fill="#f4e1d4"/>
<rect x="1665.94" y="352" width="42.38" height="21.2" fill="#f4e1d4"/>
<rect x="1708.32" y="352" width="42.38" height="21.2" fill="#c2e0ed"/>
<rect x="1326.9" y="373.2" width="42.38" height="21.2" fill="#fbf4f0"/>
<rect x="1369.28" y="373.2" width="42.38" height="21.2" fill="#bcddeb"/>
<rect x="1411.66" y="373.2" width="42.38" height="21.2" fill="#cbe5f0"/>
<rect x="1454.04" y="373.2" width="42.38" height="21.2" fill="#cfe7f0"/>
<rect x="1496.42" y="373.2" width="42.38" height="21.2" fill="#a9d4e5"/>
<rect x="1538.8" y="373.2" width="42.38" height="21.2" fill="#85c2db"/>
<rect x="1581.18" y="373.2" width="42.38" height="21.2" fill="#79bcd7"/>
<rect x="1623.56" y="373.2" width="42.38" height="21.2" fill="#e9bea5"/>
<rect x="1665.94" y="373.2" width="42.38" height="21.2" fill="#f0d4c3"/>
<rect x="1708.32" y="373.2" width="42.38" height="21.2" fill="#fcf6f3"/>
<rect x="1326.9" y="394.4" width="42.38" height="21.2" fill="#fcf5f1"/>
<rect x="1369.28" y="394.4" width="42.38" height="21.2" fill="#fdfdfd"/>
<rect x="1411.66" y="394.4" width="42.38" height="21.2" fill="#a2d0e3"/>
<rect x="1454.04" y="394.4" width="42.38" height="21.2" fill="#b8dcea"/>
<rect x="1496.42" y="394.4" width="42.38" height="21.2" fill="#8ec6dd"/>
<rect x="1538.8" y="394.4" width="42.38" height="21.2" fill="#8ac4dc"/>
<rect x="1581.18" y="394.4" width="42.38" height="21.2" fill="#81c0d9"/>
<rect x="1623.56" y="394.4" width="42.38" height="21.2" fill="#e9bea5"/>
<rect x="1665.94" y="394.4" width="42.38" height="21.2" fill="#f0d4c3"/>
<rect x="1708.32" y="394.4" width="42.38" height="21.2" fill="#c8e3ef"/>
<rect x="1326.9" y="415.6" width="42.38" height="21.2" fill="#58abcd"/>
<rect x="1369.28" y="415.6" width="42.38" height="21.2" fill="#fcf6f3"/>
<rect x="1411.66" y="415.6" width="42.38" height="21.2" fill="#a2d0e3"/>
<rect x="1454.04" y="415.6" width="42.38" height="21.2" fill="#70b7d4"/>
<rect x="1496.42" y="415.6" width="42.38" height="21.2" fill="#58abcd"/>
<rect x="1538.8" y="415.6" width="42.38" height="21.2" fill="#8ac4dc"/>
<rect x="1581.18" y="415.6" width="42.38" height="21.2" fill="#f4e1d4"/>
<rect x="1623.56" y="415.6" width="42.38" height="21.2" fill="#fcf5f1"/>
<rect x="1665.94" y="415.6" width="42.38" height="21.2" fill="#8ac4dc"/>
<rect x="1708.32" y="415.6" width="42.38" height="21.2" fill="#f6e5db"/>
<rect x="1326.9" y="436.8" width="42.38" height="21.2" fill="#c2e0ed"/>
<rect x="1369.28" y="436.8" width="42.38" height="21.2" fill="#faf1eb"/>
<rect x="1411.66" y="436.8" width="42.38" height="21.2" fill="#79bcd7"/>
<rect x="1454.04" y="436.8" width="42.38" height="21.2" fill="#8ac4dc"/>
<rect x="1496.42" y="436.8" width="42.38" height="21.2" fill="#4aa4c9"/>
<rect x="1538.8" y="436.8" width="42.38" height="21.2" fill="#79bcd7"/>
<rect x="1581.18" y="436.8" width="42.38" height="21.2" fill="#f2f8fb"/>
<rect x="1623.56" y="436.8" width="42.38" height="21.2" fill="#efd1bf"/>
<rect x="1665.94" y="436.8" width="42.38" height="21.2" fill="#cbe5f0"/>
<rect x="1708.32" y="436.8" width="42.38" height="21.2" fill="#c8e3ef"/>
<rect x="1326.9" y="458" width="42.38" height="21.2" fill="#c8e3ef"/>
<rect x="1369.28" y="458" width="42.38" height="21.2" fill="#cfe7f0"/>
<rect x="1411.66" y="458" width="42.38" height="21.2" fill="#79bcd7"/>
<rect x="1454.04" y="458" width="42.38" height="21.2" fill="#8ec6dd"/>
<rect x="1496.42" y="458" width="42.38" height="21.2" fill="#4aa4c9"/>
<rect x="1538.8" y="458" width="42.38" height="21.2" fill="#4aa4c9"/>
<rect x="1581.18" y="458" width="42.38" height="21.2" fill="#fdfdfd"/>
<rect x="1623.56" y="458" width="42.38" height="21.2" fill="#efd1bf"/>
<rect x="1665.94" y="458" width="42.38" height="21.2" fill="#ebf5f9"/>
<rect x="1708.32" y="458" width="42.38" height="21.2" fill="#d8ebf3"/>
<rect x="1326.9" y="479.2" width="42.38" height="21.2" fill="#b2d8e8"/>
<rect x="1369.28" y="479.2" width="42.38" height="21.2" fill="#edf6fa"/>
<rect x="1411.66" y="479.2" width="42.38" height="21.2" fill="#61b0d0"/>
<rect x="1454.04" y="479.2" width="42.38" height="21.2" fill="#81c0d9"/>
<rect x="1496.42" y="479.2" width="42.38" height="21.2" fill="#4aa4c9"/>
<rect x="1538.8" y="479.2" width="42.38" height="21.2" fill="#58abcd"/>
<rect x="1581.18" y="479.2" width="42.38" height="21.2" fill="#fdfdfd"/>
<rect x="1623.56" y="479.2" width="42.38" height="21.2" fill="#efd1bf"/>
<rect x="1665.94" y="479.2" width="42.38" height="21.2" fill="#fdfdfd"/>
<rect x="1708.32" y="479.2" width="42.38" height="21.2" fill="#cbe5f0"/>
</g>
<g font-family='"Liberation Serif","DejaVu Serif",serif' font-size="7.5" font-weight="bold" text-anchor="middle" fill="#06090c" stroke="#06090c" stroke-width="1.4" stroke-linejoin="round" opacity="0.7" letter-spacing="1.9">
<text x="1730.46" y="47">*</text>
<text x="1518.56" y="68.2">*</text>
<text x="1476.18" y="89.4">*</text>
<text x="1433.8" y="110.6">*</text>
<text x="1518.56" y="110.6">*</text>
<text x="1560.94" y="110.6">*</text>
<text x="1560.94" y="131.8">**</text>
<text x="1560.94" y="153">*</text>
<text x="1560.94" y="174.2">*</text>
<text x="1645.7" y="195.4">**</text>
<text x="1433.8" y="216.6">*</text>
<text x="1476.18" y="216.6">*</text>
<text x="1560.94" y="237.8">*</text>
<text x="1645.7" y="237.8">*</text>
<text x="1645.7" y="259">**</text>
<text x="1730.46" y="280.2">*</text>
<text x="1730.46" y="301.4">*</text>
<text x="1391.42" y="322.6">*</text>
<text x="1391.42" y="343.8">*</text>
<text x="1391.42" y="365">*</text>
<text x="1645.7" y="386.2">*</text>
<text x="1645.7" y="407.4">***</text>
<text x="1349.04" y="428.6">*</text>
<text x="1518.56" y="428.6">*</text>
<text x="1518.56" y="449.8">**</text>
<text x="1518.56" y="471">**</text>
<text x="1560.94" y="471">**</text>
<text x="1518.56" y="492.2">**</text>
<text x="1560.94" y="492.2">*</text>
</g>
<g font-family='"Liberation Serif","DejaVu Serif",serif' font-size="10.7" fill="#111" stroke="#111" stroke-width="0.25" letter-spacing="0">
<text x="1754.2" y="48.02">Gemmatimonadetes</text>
<text x="1754.2" y="69.22">Poribacteria</text>
<text x="1754.2" y="90.42">chao1</text>
<text x="1754.2" y="111.62">Chlamydiae</text>
<text x="1754.2" y="132.82">Lentisphaerae</text>
<text x="1754.2" y="154.02">Parcubacteria</text>
<text x="1754.2" y="175.22">Marinimicrobia</text>
<text x="1754.2" y="196.42">Actinobacteria</text>
<text x="1754.2" y="217.62">Nitrospinae</text>
<text x="1754.2" y="238.82">shannon</text>
<text x="1754.2" y="260.02">Nitrospirae</text>
<text x="1754.2" y="281.22">Microgenomates</text>
<text x="1754.2" y="302.42">Chlorobi</text>
<text x="1754.2" y="323.62">Verrucomicrobia</text>
<text x="1754.2" y="344.82">Hydrogenedentes</text>
<text x="1754.2" y="366.02">Woesearchaeota</text>
<text x="1754.2" y="387.22">candidate division ZB3</text>
<text x="1754.2" y="408.42">Omnitrophica</text>
<text x="1754.2" y="429.62">Armatimonadetes</text>
<text x="1754.2" y="450.82">Pacearchaeota</text>
<text x="1754.2" y="472.02">Aminicenantes</text>
<text x="1754.2" y="493.22">Thermotogae</text>
</g>
<g font-family='"Liberation Serif","DejaVu Serif",serif' font-size="12" font-weight="bold" text-anchor="end" fill="#000" letter-spacing="0.5">
<text transform="translate(1353.59 513.4) rotate(-45)">pH</text>
<text transform="translate(1392.47 511.6) rotate(-45)">Salinity</text>
<text transform="translate(1436.15 509.6) rotate(-45)">Water cotent</text>
<text transform="translate(1483.73 508.4) rotate(-45)">Sediment temp.</text>
<text transform="translate(1524.31 512.9) rotate(-45)">TC</text>
<text transform="translate(1565.99 514.2) rotate(-45)">TN</text>
<text transform="translate(1607.07 516.4) rotate(-45)">SO<tspan dy="2.64" font-size="7.44">4</tspan><tspan dy="-7.44" dx="-3.6" font-size="7.44">2-</tspan><tspan dy="4.8" font-size="7.44"> </tspan></text>
<text transform="translate(1651.45 514.2) rotate(-45)">Fe<tspan dy="-4.56" font-size="7.44">3+</tspan><tspan dy="4.56" font-size="7.44"> </tspan></text>
<text transform="translate(1695.63 514.2) rotate(-45)">Fe<tspan dy="-4.56" font-size="7.44">2+</tspan><tspan dy="4.56" font-size="7.44"> </tspan></text>
<text transform="translate(1738.31 507.1) rotate(-45)">Sediment CO<tspan dy="2.64" font-size="7.44">2</tspan><tspan dy="-2.64"> flux</tspan></text>
</g>
</g>
<g id="panel-D">
<text x="40" y="606" font-family='"Liberation Serif","DejaVu Serif",serif' font-weight="bold" font-size="20" letter-spacing="1.75" fill="#000">(D) Genus M</text>
<path d="M77.8 630.03L77.8 682.17M77.8 630.03L79.7 630.03M77.8 656.1L79.7 656.1M77.8 682.17L79.7 682.17M77.8 734.31L77.8 760.37M77.8 734.31L79.7 734.31M77.8 760.37L79.7 760.37M70.2 708.24L70.2 747.34M70.2 708.24L79.7 708.24M70.2 747.34L77.8 747.34M65.5 649.6L65.5 727.79M65.5 649.6L77.8 649.6M65.5 727.79L70.2 727.79M77.8 812.51L77.8 838.58M77.8 812.51L79.7 812.51M77.8 838.58L79.7 838.58M76.8 864.65L76.8 942.85M76.8 864.65L79.7 864.65M76.8 890.71L79.7 890.71M76.8 916.78L79.7 916.78M76.8 942.85L79.7 942.85M67.7 825.54L67.7 887.9M67.7 825.54L77.8 825.54M67.7 887.9L76.8 887.9M63.6 786.44L63.6 856.72M63.6 786.44L79.7 786.44M63.6 856.72L67.7 856.72M44.4 688.69L44.4 821.58M44.4 688.69L65.5 688.69M44.4 821.58L63.6 821.58M77 994.99L77 1073.19M77 994.99L79.7 994.99M77 1021.05L79.7 1021.05M77 1047.12L79.7 1047.12M77 1073.19L79.7 1073.19M73 968.92L73 1034.09M73 968.92L79.7 968.92M73 1034.09L77 1034.09M77 1125.33L77 1255.67M77 1125.33L79.7 1125.33M77 1151.39L79.7 1151.39M77 1177.46L79.7 1177.46M77 1203.53L79.7 1203.53M77 1229.6L79.7 1229.6M77 1255.67L79.7 1255.67M71.7 1099.26L71.7 1166.3M71.7 1099.26L79.7 1099.26M71.7 1166.3L77 1166.3M60.2 1001.5L60.2 1132.78M60.2 1001.5L73 1001.5M60.2 1132.78L71.7 1132.78M44.4 755.14L44.4 1067.14M44.4 1067.14L60.2 1067.14" fill="none" stroke="#222" stroke-width="1.1" stroke-linecap="square"/>
<g stroke="#969696" stroke-opacity="0.6" stroke-width="1" shape-rendering="crispEdges">
<rect x="79.7" y="617" width="35.4" height="26.07" fill="#e49a91"/>
<rect x="115.1" y="617" width="35.4" height="26.07" fill="#689ad1"/>
<rect x="150.5" y="617" width="35.4" height="26.07" fill="#c7d9ee"/>
<rect x="185.9" y="617" width="35.4" height="26.07" fill="#e4edf7"/>
<rect x="221.3" y="617" width="35.4" height="26.07" fill="#fcf5f4"/>
<rect x="256.7" y="617" width="35.4" height="26.07" fill="#a0bfe2"/>
<rect x="292.1" y="617" width="35.4" height="26.07" fill="#d87164"/>
<rect x="327.5" y="617" width="35.4" height="26.07" fill="#e8f0f8"/>
<rect x="362.9" y="617" width="35.4" height="26.07" fill="#fdf7f6"/>
<rect x="398.3" y="617" width="35.4" height="26.07" fill="#f5dad6"/>
<rect x="79.7" y="643.07" width="35.4" height="26.07" fill="#eab3ac"/>
<rect x="115.1" y="643.07" width="35.4" height="26.07" fill="#4381c6"/>
<rect x="150.5" y="643.07" width="35.4" height="26.07" fill="#a0bfe2"/>
<rect x="185.9" y="643.07" width="35.4" height="26.07" fill="#8fb4dd"/>
<rect x="221.3" y="643.07" width="35.4" height="26.07" fill="#fcf5f4"/>
<rect x="256.7" y="643.07" width="35.4" height="26.07" fill="#4d87c9"/>
<rect x="292.1" y="643.07" width="35.4" height="26.07" fill="#d46051"/>
<rect x="327.5" y="643.07" width="35.4" height="26.07" fill="#f0c9c4"/>
<rect x="362.9" y="643.07" width="35.4" height="26.07" fill="#e7a79f"/>
<rect x="398.3" y="643.07" width="35.4" height="26.07" fill="#f5dad6"/>
<rect x="79.7" y="669.14" width="35.4" height="26.07" fill="#eab3ac"/>
<rect x="115.1" y="669.14" width="35.4" height="26.07" fill="#3a7bc3"/>
<rect x="150.5" y="669.14" width="35.4" height="26.07" fill="#b3cce8"/>
<rect x="185.9" y="669.14" width="35.4" height="26.07" fill="#dbe7f4"/>
<rect x="221.3" y="669.14" width="35.4" height="26.07" fill="#f5f8fc"/>
<rect x="256.7" y="669.14" width="35.4" height="26.07" fill="#4d87c9"/>
<rect x="292.1" y="669.14" width="35.4" height="26.07" fill="#d87164"/>
<rect x="327.5" y="669.14" width="35.4" height="26.07" fill="#f0c9c4"/>
<rect x="362.9" y="669.14" width="35.4" height="26.07" fill="#f7e3e0"/>
<rect x="398.3" y="669.14" width="35.4" height="26.07" fill="#ecb9b3"/>
<rect x="79.7" y="695.2" width="35.4" height="26.07" fill="#f3f7fb"/>
<rect x="115.1" y="695.2" width="35.4" height="26.07" fill="#e4edf7"/>
<rect x="150.5" y="695.2" width="35.4" height="26.07" fill="#568dcb"/>
<rect x="185.9" y="695.2" width="35.4" height="26.07" fill="#d6e3f2"/>
<rect x="221.3" y="695.2" width="35.4" height="26.07" fill="#f4d7d4"/>
<rect x="256.7" y="695.2" width="35.4" height="26.07" fill="#b3cce8"/>
<rect x="292.1" y="695.2" width="35.4" height="26.07" fill="#f4d7d4"/>
<rect x="327.5" y="695.2" width="35.4" height="26.07" fill="#f8e5e3"/>
<rect x="362.9" y="695.2" width="35.4" height="26.07" fill="#d87164"/>
<rect x="398.3" y="695.2" width="35.4" height="26.07" fill="#95b8df"/>
<rect x="79.7" y="721.27" width="35.4" height="26.07" fill="#e49a91"/>
<rect x="115.1" y="721.27" width="35.4" height="26.07" fill="#e4edf7"/>
<rect x="150.5" y="721.27" width="35.4" height="26.07" fill="#fdfdfd"/>
<rect x="185.9" y="721.27" width="35.4" height="26.07" fill="#e4edf7"/>
<rect x="221.3" y="721.27" width="35.4" height="26.07" fill="#689ad1"/>
<rect x="256.7" y="721.27" width="35.4" height="26.07" fill="#8fb4dd"/>
<rect x="292.1" y="721.27" width="35.4" height="26.07" fill="#fdf7f6"/>
<rect x="327.5" y="721.27" width="35.4" height="26.07" fill="#d87164"/>
<rect x="362.9" y="721.27" width="35.4" height="26.07" fill="#df8a80"/>
<rect x="398.3" y="721.27" width="35.4" height="26.07" fill="#95b8df"/>
<rect x="79.7" y="747.34" width="35.4" height="26.07" fill="#da7568"/>
<rect x="115.1" y="747.34" width="35.4" height="26.07" fill="#95b8df"/>
<rect x="150.5" y="747.34" width="35.4" height="26.07" fill="#cdddf0"/>
<rect x="185.9" y="747.34" width="35.4" height="26.07" fill="#95b8df"/>
<rect x="221.3" y="747.34" width="35.4" height="26.07" fill="#84acda"/>
<rect x="256.7" y="747.34" width="35.4" height="26.07" fill="#568dcb"/>
<rect x="292.1" y="747.34" width="35.4" height="26.07" fill="#df8a80"/>
<rect x="327.5" y="747.34" width="35.4" height="26.07" fill="#df8a80"/>
<rect x="362.9" y="747.34" width="35.4" height="26.07" fill="#d87164"/>
<rect x="398.3" y="747.34" width="35.4" height="26.07" fill="#b3cce8"/>
<rect x="79.7" y="773.41" width="35.4" height="26.07" fill="#e8aba3"/>
<rect x="115.1" y="773.41" width="35.4" height="26.07" fill="#f5f8fc"/>
<rect x="150.5" y="773.41" width="35.4" height="26.07" fill="#eab3ac"/>
<rect x="185.9" y="773.41" width="35.4" height="26.07" fill="#e8aba3"/>
<rect x="221.3" y="773.41" width="35.4" height="26.07" fill="#568dcb"/>
<rect x="256.7" y="773.41" width="35.4" height="26.07" fill="#f5f8fc"/>
<rect x="292.1" y="773.41" width="35.4" height="26.07" fill="#bfd4ec"/>
<rect x="327.5" y="773.41" width="35.4" height="26.07" fill="#e8aba3"/>
<rect x="362.9" y="773.41" width="35.4" height="26.07" fill="#dee9f5"/>
<rect x="398.3" y="773.41" width="35.4" height="26.07" fill="#e8f0f8"/>
<rect x="79.7" y="799.48" width="35.4" height="26.07" fill="#73a1d4"/>
<rect x="115.1" y="799.48" width="35.4" height="26.07" fill="#df8a80"/>
<rect x="150.5" y="799.48" width="35.4" height="26.07" fill="#f9eae8"/>
<rect x="185.9" y="799.48" width="35.4" height="26.07" fill="#d87164"/>
<rect x="221.3" y="799.48" width="35.4" height="26.07" fill="#f9eae8"/>
<rect x="256.7" y="799.48" width="35.4" height="26.07" fill="#df8a80"/>
<rect x="292.1" y="799.48" width="35.4" height="26.07" fill="#3a7bc3"/>
<rect x="327.5" y="799.48" width="35.4" height="26.07" fill="#dbe7f4"/>
<rect x="362.9" y="799.48" width="35.4" height="26.07" fill="#bfd4ec"/>
<rect x="398.3" y="799.48" width="35.4" height="26.07" fill="#dee9f5"/>
<rect x="79.7" y="825.54" width="35.4" height="26.07" fill="#8fb4dd"/>
<rect x="115.1" y="825.54" width="35.4" height="26.07" fill="#d87164"/>
<rect x="150.5" y="825.54" width="35.4" height="26.07" fill="#f0c9c4"/>
<rect x="185.9" y="825.54" width="35.4" height="26.07" fill="#f5dad6"/>
<rect x="221.3" y="825.54" width="35.4" height="26.07" fill="#fdfdfd"/>
<rect x="256.7" y="825.54" width="35.4" height="26.07" fill="#e8aba3"/>
<rect x="292.1" y="825.54" width="35.4" height="26.07" fill="#568dcb"/>
<rect x="327.5" y="825.54" width="35.4" height="26.07" fill="#f8e5e3"/>
<rect x="362.9" y="825.54" width="35.4" height="26.07" fill="#fdfdfd"/>
<rect x="398.3" y="825.54" width="35.4" height="26.07" fill="#dee9f5"/>
<rect x="79.7" y="851.61" width="35.4" height="26.07" fill="#f8e5e3"/>
<rect x="115.1" y="851.61" width="35.4" height="26.07" fill="#f1ccc8"/>
<rect x="150.5" y="851.61" width="35.4" height="26.07" fill="#b3cce8"/>
<rect x="185.9" y="851.61" width="35.4" height="26.07" fill="#eab3ac"/>
<rect x="221.3" y="851.61" width="35.4" height="26.07" fill="#d6e3f2"/>
<rect x="256.7" y="851.61" width="35.4" height="26.07" fill="#f3d3cf"/>
<rect x="292.1" y="851.61" width="35.4" height="26.07" fill="#b3cce8"/>
<rect x="327.5" y="851.61" width="35.4" height="26.07" fill="#f5f8fc"/>
<rect x="362.9" y="851.61" width="35.4" height="26.07" fill="#eab3ac"/>
<rect x="398.3" y="851.61" width="35.4" height="26.07" fill="#3a7bc3"/>
<rect x="79.7" y="877.68" width="35.4" height="26.07" fill="#f5dad6"/>
<rect x="115.1" y="877.68" width="35.4" height="26.07" fill="#df8a80"/>
<rect x="150.5" y="877.68" width="35.4" height="26.07" fill="#f8e5e3"/>
<rect x="185.9" y="877.68" width="35.4" height="26.07" fill="#fdfdfd"/>
<rect x="221.3" y="877.68" width="35.4" height="26.07" fill="#acc7e6"/>
<rect x="256.7" y="877.68" width="35.4" height="26.07" fill="#f3d3cf"/>
<rect x="292.1" y="877.68" width="35.4" height="26.07" fill="#a0bfe2"/>
<rect x="327.5" y="877.68" width="35.4" height="26.07" fill="#f4d7d4"/>
<rect x="362.9" y="877.68" width="35.4" height="26.07" fill="#e49a91"/>
<rect x="398.3" y="877.68" width="35.4" height="26.07" fill="#568dcb"/>
<rect x="79.7" y="903.75" width="35.4" height="26.07" fill="#eec0ba"/>
<rect x="115.1" y="903.75" width="35.4" height="26.07" fill="#ecb9b3"/>
<rect x="150.5" y="903.75" width="35.4" height="26.07" fill="#faedeb"/>
<rect x="185.9" y="903.75" width="35.4" height="26.07" fill="#ecb9b3"/>
<rect x="221.3" y="903.75" width="35.4" height="26.07" fill="#8fb4dd"/>
<rect x="256.7" y="903.75" width="35.4" height="26.07" fill="#f3d3cf"/>
<rect x="292.1" y="903.75" width="35.4" height="26.07" fill="#a0bfe2"/>
<rect x="327.5" y="903.75" width="35.4" height="26.07" fill="#f7e3e0"/>
<rect x="362.9" y="903.75" width="35.4" height="26.07" fill="#f0c6c1"/>
<rect x="398.3" y="903.75" width="35.4" height="26.07" fill="#568dcb"/>
<rect x="79.7" y="929.82" width="35.4" height="26.07" fill="#eec0ba"/>
<rect x="115.1" y="929.82" width="35.4" height="26.07" fill="#ecb9b3"/>
<rect x="150.5" y="929.82" width="35.4" height="26.07" fill="#f9eae8"/>
<rect x="185.9" y="929.82" width="35.4" height="26.07" fill="#ecb9b3"/>
<rect x="221.3" y="929.82" width="35.4" height="26.07" fill="#8fb4dd"/>
<rect x="256.7" y="929.82" width="35.4" height="26.07" fill="#f3d3cf"/>
<rect x="292.1" y="929.82" width="35.4" height="26.07" fill="#a0bfe2"/>
<rect x="327.5" y="929.82" width="35.4" height="26.07" fill="#f7e3e0"/>
<rect x="362.9" y="929.82" width="35.4" height="26.07" fill="#f0c6c1"/>
<rect x="398.3" y="929.82" width="35.4" height="26.07" fill="#568dcb"/>
<rect x="79.7" y="955.88" width="35.4" height="26.07" fill="#f5f8fc"/>
<rect x="115.1" y="955.88" width="35.4" height="26.07" fill="#f7e3e0"/>
<rect x="150.5" y="955.88" width="35.4" height="26.07" fill="#e59f96"/>
<rect x="185.9" y="955.88" width="35.4" height="26.07" fill="#f3d3cf"/>
<rect x="221.3" y="955.88" width="35.4" height="26.07" fill="#f5dcd9"/>
<rect x="256.7" y="955.88" width="35.4" height="26.07" fill="#eab3ac"/>
<rect x="292.1" y="955.88" width="35.4" height="26.07" fill="#fdfdfd"/>
<rect x="327.5" y="955.88" width="35.4" height="26.07" fill="#a0bfe2"/>
<rect x="362.9" y="955.88" width="35.4" height="26.07" fill="#568dcb"/>
<rect x="398.3" y="955.88" width="35.4" height="26.07" fill="#e29288"/>
<rect x="79.7" y="981.95" width="35.4" height="26.07" fill="#95b8df"/>
<rect x="115.1" y="981.95" width="35.4" height="26.07" fill="#e29288"/>
<rect x="150.5" y="981.95" width="35.4" height="26.07" fill="#f7e3e0"/>
<rect x="185.9" y="981.95" width="35.4" height="26.07" fill="#f5dad6"/>
<rect x="221.3" y="981.95" width="35.4" height="26.07" fill="#df8a80"/>
<rect x="256.7" y="981.95" width="35.4" height="26.07" fill="#d87164"/>
<rect x="292.1" y="981.95" width="35.4" height="26.07" fill="#c7d9ee"/>
<rect x="327.5" y="981.95" width="35.4" height="26.07" fill="#568dcb"/>
<rect x="362.9" y="981.95" width="35.4" height="26.07" fill="#95b8df"/>
<rect x="398.3" y="981.95" width="35.4" height="26.07" fill="#f8e5e3"/>
<rect x="79.7" y="1008.02" width="35.4" height="26.07" fill="#95b8df"/>
<rect x="115.1" y="1008.02" width="35.4" height="26.07" fill="#efc3bd"/>
<rect x="150.5" y="1008.02" width="35.4" height="26.07" fill="#d6e3f2"/>
<rect x="185.9" y="1008.02" width="35.4" height="26.07" fill="#edbcb6"/>
<rect x="221.3" y="1008.02" width="35.4" height="26.07" fill="#da7568"/>
<rect x="256.7" y="1008.02" width="35.4" height="26.07" fill="#dd8276"/>
<rect x="292.1" y="1008.02" width="35.4" height="26.07" fill="#e8f0f8"/>
<rect x="327.5" y="1008.02" width="35.4" height="26.07" fill="#3a7bc3"/>
<rect x="362.9" y="1008.02" width="35.4" height="26.07" fill="#95b8df"/>
<rect x="398.3" y="1008.02" width="35.4" height="26.07" fill="#f9eae8"/>
<rect x="79.7" y="1034.09" width="35.4" height="26.07" fill="#73a1d4"/>
<rect x="115.1" y="1034.09" width="35.4" height="26.07" fill="#f9eae8"/>
<rect x="150.5" y="1034.09" width="35.4" height="26.07" fill="#f5f8fc"/>
<rect x="185.9" y="1034.09" width="35.4" height="26.07" fill="#fcf5f4"/>
<rect x="221.3" y="1034.09" width="35.4" height="26.07" fill="#d87164"/>
<rect x="256.7" y="1034.09" width="35.4" height="26.07" fill="#eab3ac"/>
<rect x="292.1" y="1034.09" width="35.4" height="26.07" fill="#f9eae8"/>
<rect x="327.5" y="1034.09" width="35.4" height="26.07" fill="#689ad1"/>
<rect x="362.9" y="1034.09" width="35.4" height="26.07" fill="#8fb4dd"/>
<rect x="398.3" y="1034.09" width="35.4" height="26.07" fill="#e29288"/>
<rect x="79.7" y="1060.16" width="35.4" height="26.07" fill="#d6e3f2"/>
<rect x="115.1" y="1060.16" width="35.4" height="26.07" fill="#fdf7f6"/>
<rect x="150.5" y="1060.16" width="35.4" height="26.07" fill="#eaf1f9"/>
<rect x="185.9" y="1060.16" width="35.4" height="26.07" fill="#f0c9c4"/>
<rect x="221.3" y="1060.16" width="35.4" height="26.07" fill="#e29288"/>
<rect x="256.7" y="1060.16" width="35.4" height="26.07" fill="#e7a79f"/>
<rect x="292.1" y="1060.16" width="35.4" height="26.07" fill="#f8e5e3"/>
<rect x="327.5" y="1060.16" width="35.4" height="26.07" fill="#568dcb"/>
<rect x="362.9" y="1060.16" width="35.4" height="26.07" fill="#84acda"/>
<rect x="398.3" y="1060.16" width="35.4" height="26.07" fill="#efc3bd"/>
<rect x="79.7" y="1086.22" width="35.4" height="26.07" fill="#568dcb"/>
<rect x="115.1" y="1086.22" width="35.4" height="26.07" fill="#f0c9c4"/>
<rect x="150.5" y="1086.22" width="35.4" height="26.07" fill="#8fb4dd"/>
<rect x="185.9" y="1086.22" width="35.4" height="26.07" fill="#e8aba3"/>
<rect x="221.3" y="1086.22" width="35.4" height="26.07" fill="#e29288"/>
<rect x="256.7" y="1086.22" width="35.4" height="26.07" fill="#eab3ac"/>
<rect x="292.1" y="1086.22" width="35.4" height="26.07" fill="#b0cae7"/>
<rect x="327.5" y="1086.22" width="35.4" height="26.07" fill="#b3cce8"/>
<rect x="362.9" y="1086.22" width="35.4" height="26.07" fill="#f5f8fc"/>
<rect x="398.3" y="1086.22" width="35.4" height="26.07" fill="#eef4fa"/>
<rect x="79.7" y="1112.29" width="35.4" height="26.07" fill="#b3cce8"/>
<rect x="115.1" y="1112.29" width="35.4" height="26.07" fill="#eaf1f9"/>
<rect x="150.5" y="1112.29" width="35.4" height="26.07" fill="#568dcb"/>
<rect x="185.9" y="1112.29" width="35.4" height="26.07" fill="#eaf1f9"/>
<rect x="221.3" y="1112.29" width="35.4" height="26.07" fill="#d87164"/>
<rect x="256.7" y="1112.29" width="35.4" height="26.07" fill="#f9eae8"/>
<rect x="292.1" y="1112.29" width="35.4" height="26.07" fill="#edbcb6"/>
<rect x="327.5" y="1112.29" width="35.4" height="26.07" fill="#84acda"/>
<rect x="362.9" y="1112.29" width="35.4" height="26.07" fill="#f1ccc8"/>
<rect x="398.3" y="1112.29" width="35.4" height="26.07" fill="#eef4fa"/>
<rect x="79.7" y="1138.36" width="35.4" height="26.07" fill="#c7d9ee"/>
<rect x="115.1" y="1138.36" width="35.4" height="26.07" fill="#dee9f5"/>
<rect x="150.5" y="1138.36" width="35.4" height="26.07" fill="#a0bfe2"/>
<rect x="185.9" y="1138.36" width="35.4" height="26.07" fill="#f9eae8"/>
<rect x="221.3" y="1138.36" width="35.4" height="26.07" fill="#d87164"/>
<rect x="256.7" y="1138.36" width="35.4" height="26.07" fill="#f3d3cf"/>
<rect x="292.1" y="1138.36" width="35.4" height="26.07" fill="#ecb9b3"/>
<rect x="327.5" y="1138.36" width="35.4" height="26.07" fill="#568dcb"/>
<rect x="362.9" y="1138.36" width="35.4" height="26.07" fill="#c7d9ee"/>
<rect x="398.3" y="1138.36" width="35.4" height="26.07" fill="#eec0ba"/>
<rect x="79.7" y="1164.43" width="35.4" height="26.07" fill="#b3cce8"/>
<rect x="115.1" y="1164.43" width="35.4" height="26.07" fill="#d3e1f2"/>
<rect x="150.5" y="1164.43" width="35.4" height="26.07" fill="#95b8df"/>
<rect x="185.9" y="1164.43" width="35.4" height="26.07" fill="#fdfdfd"/>
<rect x="221.3" y="1164.43" width="35.4" height="26.07" fill="#d87164"/>
<rect x="256.7" y="1164.43" width="35.4" height="26.07" fill="#f6dedb"/>
<rect x="292.1" y="1164.43" width="35.4" height="26.07" fill="#eab3ac"/>
<rect x="327.5" y="1164.43" width="35.4" height="26.07" fill="#5f93ce"/>
<rect x="362.9" y="1164.43" width="35.4" height="26.07" fill="#cdddf0"/>
<rect x="398.3" y="1164.43" width="35.4" height="26.07" fill="#eab3ac"/>
<rect x="79.7" y="1190.5" width="35.4" height="26.07" fill="#b3cce8"/>
<rect x="115.1" y="1190.5" width="35.4" height="26.07" fill="#d3e1f2"/>
<rect x="150.5" y="1190.5" width="35.4" height="26.07" fill="#95b8df"/>
<rect x="185.9" y="1190.5" width="35.4" height="26.07" fill="#fdfdfd"/>
<rect x="221.3" y="1190.5" width="35.4" height="26.07" fill="#d87164"/>
<rect x="256.7" y="1190.5" width="35.4" height="26.07" fill="#f6dedb"/>
<rect x="292.1" y="1190.5" width="35.4" height="26.07" fill="#eab3ac"/>
<rect x="327.5" y="1190.5" width="35.4" height="26.07" fill="#5f93ce"/>
<rect x="362.9" y="1190.5" width="35.4" height="26.07" fill="#cdddf0"/>
<rect x="398.3" y="1190.5" width="35.4" height="26.07" fill="#eab3ac"/>
<rect x="79.7" y="1216.56" width="35.4" height="26.07" fill="#568dcb"/>
<rect x="115.1" y="1216.56" width="35.4" height="26.07" fill="#fcf5f4"/>
<rect x="150.5" y="1216.56" width="35.4" height="26.07" fill="#79a5d6"/>
<rect x="185.9" y="1216.56" width="35.4" height="26.07" fill="#f8e5e3"/>
<rect x="221.3" y="1216.56" width="35.4" height="26.07" fill="#d46051"/>
<rect x="256.7" y="1216.56" width="35.4" height="26.07" fill="#f3d3cf"/>
<rect x="292.1" y="1216.56" width="35.4" height="26.07" fill="#fdf7f6"/>
<rect x="327.5" y="1216.56" width="35.4" height="26.07" fill="#8fb4dd"/>
<rect x="362.9" y="1216.56" width="35.4" height="26.07" fill="#f5f8fc"/>
<rect x="398.3" y="1216.56" width="35.4" height="26.07" fill="#f4d7d4"/>
<rect x="79.7" y="1242.63" width="35.4" height="26.07" fill="#73a1d4"/>
<rect x="115.1" y="1242.63" width="35.4" height="26.07" fill="#f5f8fc"/>
<rect x="150.5" y="1242.63" width="35.4" height="26.07" fill="#568dcb"/>
<rect x="185.9" y="1242.63" width="35.4" height="26.07" fill="#f6dedb"/>
<rect x="221.3" y="1242.63" width="35.4" height="26.07" fill="#d87164"/>
<rect x="256.7" y="1242.63" width="35.4" height="26.07" fill="#f5dcd9"/>
<rect x="292.1" y="1242.63" width="35.4" height="26.07" fill="#f8e5e3"/>
<rect x="327.5" y="1242.63" width="35.4" height="26.07" fill="#689ad1"/>
<rect x="362.9" y="1242.63" width="35.4" height="26.07" fill="#fdf7f6"/>
<rect x="398.3" y="1242.63" width="35.4" height="26.07" fill="#fbefed"/>
</g>
<g font-family='"Liberation Serif","DejaVu Serif",serif' font-size="16" font-weight="bold" text-anchor="middle" fill="#1c1c1c" stroke="#1c1c1c" stroke-width="0.3" stroke-linejoin="round" opacity="0.85" letter-spacing="0.1">
<text x="309.85" y="635.73">*</text>
<text x="132.85" y="661.8">*</text>
<text x="274.45" y="661.8">*</text>
<text x="309.85" y="661.8">**</text>
<text x="132.85" y="687.87">***</text>
<text x="274.45" y="687.87">*</text>
<text x="309.85" y="687.87">*</text>
<text x="168.25" y="713.94">*</text>
<text x="380.65" y="713.94">*</text>
<text x="345.25" y="740.01">*</text>
<text x="274.45" y="766.07">*</text>
<text x="380.65" y="766.07">*</text>
<text x="239.05" y="792.14">*</text>
<text x="309.85" y="818.21">**</text>
<text x="309.85" y="844.28">*</text>
<text x="416.05" y="870.35">**</text>
<text x="416.05" y="896.41">*</text>
<text x="416.05" y="922.48">*</text>
<text x="416.05" y="948.55">*</text>
<text x="380.65" y="974.62">*</text>
<text x="274.45" y="1000.69">*</text>
<text x="345.25" y="1000.69">*</text>
<text x="345.25" y="1026.75">***</text>
<text x="239.05" y="1052.82">*</text>
<text x="345.25" y="1078.89">*</text>
<text x="97.45" y="1104.96">*</text>
<text x="168.25" y="1131.03">*</text>
<text x="239.05" y="1131.03">*</text>
<text x="239.05" y="1157.09">*</text>
<text x="345.25" y="1157.09">*</text>
<text x="239.05" y="1183.16">*</text>
<text x="239.05" y="1209.23">*</text>
<text x="97.45" y="1235.3">*</text>
<text x="239.05" y="1235.3">**</text>
<text x="168.25" y="1261.37">*</text>
<text x="239.05" y="1261.37">*</text>
</g>
<g font-family='"Liberation Serif","DejaVu Serif",serif' font-size="15.6" font-style="italic" fill="#111" stroke="#111" stroke-width="0.12" letter-spacing="0.3">
<text x="437.2" y="636.43">Halioglobus</text>
<text x="437.2" y="662.49">Haliea</text>
<text x="437.2" y="688.56">Desulfopila</text>
<text x="437.2" y="714.63">Ornatilinea</text>
<text x="437.2" y="740.7">Desulfobulbus</text>
<text x="437.2" y="766.77">Desulfuromonas</text>
<text x="437.2" y="792.83">Spirochaeta</text>
<text x="437.2" y="818.9">Unclassified</text>
<text x="437.2" y="844.97">Bellilinea</text>
<text x="437.2" y="871.04">Ilyobacter</text>
<text x="437.2" y="897.11">Caldithrix</text>
<text x="437.2" y="923.17">Sedimenticola</text>
<text x="437.2" y="949.24">Deferrisoma</text>
<text x="437.2" y="975.31">Nitrospira</text>
<text x="437.2" y="1001.38">Rhodovulum</text>
<text x="437.2" y="1027.45">Fulvivirga</text>
<text x="437.2" y="1053.51">Gp10</text>
<text x="437.2" y="1079.58">Nitrosomonas</text>
<text x="437.2" y="1105.65">Desulfatitalea</text>
<text x="437.2" y="1131.72">Povalibacter</text>
<text x="437.2" y="1157.79">Filomicrobium</text>
<text x="437.2" y="1183.85">Geminicoccus</text>
<text x="437.2" y="1209.92">Clostridium sensu stricto</text>
<text x="437.2" y="1235.99">Litorilinea</text>
<text x="437.2" y="1262.06">Congregibacter</text>
</g>
<g font-family='"Liberation Serif","DejaVu Serif",serif' font-size="12" font-weight="bold" text-anchor="end" fill="#000" letter-spacing="0.55">
<text transform="translate(102.6 1283.2) rotate(-45)">pH</text>
<text transform="translate(137.3 1283.2) rotate(-45)">Salinity</text>
<text transform="translate(173.2 1281.2) rotate(-45)">Water cotent</text>
<text transform="translate(210.6 1279.2) rotate(-45)">Sediment temp.</text>
<text transform="translate(246 1284.5) rotate(-45)">TC</text>
<text transform="translate(280.1 1284.5) rotate(-45)">TN</text>
<text transform="translate(318.1 1285.2) rotate(-45)">SO<tspan dy="2.64" font-size="7.44">4</tspan><tspan dy="-7.44" dx="-3.6" font-size="7.44">2-</tspan><tspan dy="4.8" font-size="7.44"> </tspan></text>
<text transform="translate(357.5 1284.7) rotate(-45)">Fe<tspan dy="-4.56" font-size="7.44">3+</tspan><tspan dy="4.56" font-size="7.44"> </tspan></text>
<text transform="translate(393.9 1284.7) rotate(-45)">Fe<tspan dy="-4.56" font-size="7.44">2+</tspan><tspan dy="4.56" font-size="7.44"> </tspan></text>
<text transform="translate(428.3 1277.4) rotate(-45)">Sediment CO<tspan dy="2.64" font-size="7.44">2</tspan><tspan dy="-2.64"> flux</tspan></text>
</g>
</g>
<g id="panel-E">
<text x="631" y="606" font-family='"Liberation Serif","DejaVu Serif",serif' font-weight="bold" font-size="20" letter-spacing="1.75" fill="#000">(E) Genus KO</text>
<path d="M668.5 673.48L668.5 763.37M668.5 673.48L670.7 673.48M668.5 695.95L670.7 695.95M668.5 718.43L670.7 718.43M668.5 740.9L670.7 740.9M668.5 763.37L670.7 763.37M665.5 651.01L665.5 694M665.5 651.01L670.7 651.01M665.5 694L668.5 694M654.1 628.54L654.1 672.5M654.1 628.54L670.7 628.54M654.1 672.5L665.5 672.5M667.3 785.84L667.3 920.68M667.3 785.84L670.7 785.84M667.3 808.32L670.7 808.32M667.3 830.79L670.7 830.79M667.3 853.26L670.7 853.26M667.3 875.73L670.7 875.73M667.3 898.21L670.7 898.21M667.3 920.68L670.7 920.68M665.5 943.15L665.5 988.09M665.5 943.15L670.7 943.15M665.5 965.62L670.7 965.62M665.5 988.09L670.7 988.09M658.4 849L658.4 959.3M658.4 849L667.3 849M658.4 959.3L665.5 959.3M635 650.52L635 904.15M635 650.52L654.1 650.52M635 904.15L658.4 904.15M669 1010.57L669 1055.51M669 1010.57L670.7 1010.57M669 1033.04L670.7 1033.04M669 1055.51L670.7 1055.51M668.8 1077.98L668.8 1100.46M668.8 1077.98L670.7 1077.98M668.8 1100.46L670.7 1100.46M669 1122.93L669 1145.4M669 1122.93L670.7 1122.93M669 1145.4L670.7 1145.4M669 1167.87L669 1257.76M669 1167.87L670.7 1167.87M669 1190.35L670.7 1190.35M669 1212.82L670.7 1212.82M669 1235.29L670.7 1235.29M669 1257.76L670.7 1257.76M667.3 1134.17L667.3 1190M667.3 1134.17L669 1134.17M667.3 1190L669 1190M660.7 1089.22L660.7 1162.08M660.7 1089.22L668.8 1089.22M660.7 1162.08L667.3 1162.08M651.4 1027.5L651.4 1125.65M651.4 1027.5L669 1027.5M651.4 1125.65L660.7 1125.65M635 777.34L635 1076.58M635 1076.58L651.4 1076.58" fill="none" stroke="#222" stroke-width="1.1" stroke-linecap="square"/>
<g stroke="#969696" stroke-opacity="0.6" stroke-width="1" shape-rendering="crispEdges">
<rect x="670.7" y="617.3" width="38.77" height="22.47" fill="#e4edf7"/>
<rect x="709.47" y="617.3" width="38.77" height="22.47" fill="#faedeb"/>
<rect x="748.24" y="617.3" width="38.77" height="22.47" fill="#96b9df"/>
<rect x="787.01" y="617.3" width="38.77" height="22.47" fill="#f8e5e3"/>
<rect x="825.78" y="617.3" width="38.77" height="22.47" fill="#fbefed"/>
<rect x="864.55" y="617.3" width="38.77" height="22.47" fill="#568dcb"/>
<rect x="903.32" y="617.3" width="38.77" height="22.47" fill="#f4d7d4"/>
<rect x="942.09" y="617.3" width="38.77" height="22.47" fill="#f9eae8"/>
<rect x="980.86" y="617.3" width="38.77" height="22.47" fill="#c7d9ee"/>
<rect x="1019.63" y="617.3" width="38.77" height="22.47" fill="#eab3ac"/>
<rect x="670.7" y="639.77" width="38.77" height="22.47" fill="#eab3ac"/>
<rect x="709.47" y="639.77" width="38.77" height="22.47" fill="#cdddf0"/>
<rect x="748.24" y="639.77" width="38.77" height="22.47" fill="#faedeb"/>
<rect x="787.01" y="639.77" width="38.77" height="22.47" fill="#faedeb"/>
<rect x="825.78" y="639.77" width="38.77" height="22.47" fill="#eab3ac"/>
<rect x="864.55" y="639.77" width="38.77" height="22.47" fill="#bbd2ea"/>
<rect x="903.32" y="639.77" width="38.77" height="22.47" fill="#a5c2e4"/>
<rect x="942.09" y="639.77" width="38.77" height="22.47" fill="#bcd2eb"/>
<rect x="980.86" y="639.77" width="38.77" height="22.47" fill="#f1ccc8"/>
<rect x="1019.63" y="639.77" width="38.77" height="22.47" fill="#d87164"/>
<rect x="670.7" y="662.24" width="38.77" height="22.47" fill="#edbcb6"/>
<rect x="709.47" y="662.24" width="38.77" height="22.47" fill="#f0c9c4"/>
<rect x="748.24" y="662.24" width="38.77" height="22.47" fill="#eaf1f9"/>
<rect x="787.01" y="662.24" width="38.77" height="22.47" fill="#96b9df"/>
<rect x="825.78" y="662.24" width="38.77" height="22.47" fill="#eab3ac"/>
<rect x="864.55" y="662.24" width="38.77" height="22.47" fill="#c7d9ee"/>
<rect x="903.32" y="662.24" width="38.77" height="22.47" fill="#e4edf7"/>
<rect x="942.09" y="662.24" width="38.77" height="22.47" fill="#cdddf0"/>
<rect x="980.86" y="662.24" width="38.77" height="22.47" fill="#f7f9fc"/>
<rect x="1019.63" y="662.24" width="38.77" height="22.47" fill="#d87164"/>
<rect x="670.7" y="684.72" width="38.77" height="22.47" fill="#df8a80"/>
<rect x="709.47" y="684.72" width="38.77" height="22.47" fill="#fdfdfd"/>
<rect x="748.24" y="684.72" width="38.77" height="22.47" fill="#faedeb"/>
<rect x="787.01" y="684.72" width="38.77" height="22.47" fill="#b9d0ea"/>
<rect x="825.78" y="684.72" width="38.77" height="22.47" fill="#e8aba3"/>
<rect x="864.55" y="684.72" width="38.77" height="22.47" fill="#fdfdfd"/>
<rect x="903.32" y="684.72" width="38.77" height="22.47" fill="#96b9df"/>
<rect x="942.09" y="684.72" width="38.77" height="22.47" fill="#a1c0e2"/>
<rect x="980.86" y="684.72" width="38.77" height="22.47" fill="#f1ccc8"/>
<rect x="1019.63" y="684.72" width="38.77" height="22.47" fill="#d87164"/>
<rect x="670.7" y="707.19" width="38.77" height="22.47" fill="#e3968d"/>
<rect x="709.47" y="707.19" width="38.77" height="22.47" fill="#f5dad6"/>
<rect x="748.24" y="707.19" width="38.77" height="22.47" fill="#fdf8f7"/>
<rect x="787.01" y="707.19" width="38.77" height="22.47" fill="#96b9df"/>
<rect x="825.78" y="707.19" width="38.77" height="22.47" fill="#df8a80"/>
<rect x="864.55" y="707.19" width="38.77" height="22.47" fill="#ecf2f9"/>
<rect x="903.32" y="707.19" width="38.77" height="22.47" fill="#a1c0e2"/>
<rect x="942.09" y="707.19" width="38.77" height="22.47" fill="#91b5dd"/>
<rect x="980.86" y="707.19" width="38.77" height="22.47" fill="#faedeb"/>
<rect x="1019.63" y="707.19" width="38.77" height="22.47" fill="#d46051"/>
<rect x="670.7" y="729.66" width="38.77" height="22.47" fill="#e7a79f"/>
<rect x="709.47" y="729.66" width="38.77" height="22.47" fill="#faedeb"/>
<rect x="748.24" y="729.66" width="38.77" height="22.47" fill="#faedeb"/>
<rect x="787.01" y="729.66" width="38.77" height="22.47" fill="#bfd4ec"/>
<rect x="825.78" y="729.66" width="38.77" height="22.47" fill="#dd8276"/>
<rect x="864.55" y="729.66" width="38.77" height="22.47" fill="#e4edf7"/>
<rect x="903.32" y="729.66" width="38.77" height="22.47" fill="#96b9df"/>
<rect x="942.09" y="729.66" width="38.77" height="22.47" fill="#79a5d6"/>
<rect x="980.86" y="729.66" width="38.77" height="22.47" fill="#f9eae8"/>
<rect x="1019.63" y="729.66" width="38.77" height="22.47" fill="#d46051"/>
<rect x="670.7" y="752.13" width="38.77" height="22.47" fill="#e7a79f"/>
<rect x="709.47" y="752.13" width="38.77" height="22.47" fill="#faedeb"/>
<rect x="748.24" y="752.13" width="38.77" height="22.47" fill="#faedeb"/>
<rect x="787.01" y="752.13" width="38.77" height="22.47" fill="#bfd4ec"/>
<rect x="825.78" y="752.13" width="38.77" height="22.47" fill="#dd8276"/>
<rect x="864.55" y="752.13" width="38.77" height="22.47" fill="#e4edf7"/>
<rect x="903.32" y="752.13" width="38.77" height="22.47" fill="#96b9df"/>
<rect x="942.09" y="752.13" width="38.77" height="22.47" fill="#79a5d6"/>
<rect x="980.86" y="752.13" width="38.77" height="22.47" fill="#f9eae8"/>
<rect x="1019.63" y="752.13" width="38.77" height="22.47" fill="#d46051"/>
<rect x="670.7" y="774.61" width="38.77" height="22.47" fill="#d46051"/>
<rect x="709.47" y="774.61" width="38.77" height="22.47" fill="#e4edf7"/>
<rect x="748.24" y="774.61" width="38.77" height="22.47" fill="#ecb9b3"/>
<rect x="787.01" y="774.61" width="38.77" height="22.47" fill="#a1c0e2"/>
<rect x="825.78" y="774.61" width="38.77" height="22.47" fill="#eab3ac"/>
<rect x="864.55" y="774.61" width="38.77" height="22.47" fill="#df8a80"/>
<rect x="903.32" y="774.61" width="38.77" height="22.47" fill="#6094cf"/>
<rect x="942.09" y="774.61" width="38.77" height="22.47" fill="#96b9df"/>
<rect x="980.86" y="774.61" width="38.77" height="22.47" fill="#e7a79f"/>
<rect x="1019.63" y="774.61" width="38.77" height="22.47" fill="#ecb9b3"/>
<rect x="670.7" y="797.08" width="38.77" height="22.47" fill="#e7a79f"/>
<rect x="709.47" y="797.08" width="38.77" height="22.47" fill="#fdf8f7"/>
<rect x="748.24" y="797.08" width="38.77" height="22.47" fill="#e7a79f"/>
<rect x="787.01" y="797.08" width="38.77" height="22.47" fill="#acc7e6"/>
<rect x="825.78" y="797.08" width="38.77" height="22.47" fill="#d87164"/>
<rect x="864.55" y="797.08" width="38.77" height="22.47" fill="#df8a80"/>
<rect x="903.32" y="797.08" width="38.77" height="22.47" fill="#568dcb"/>
<rect x="942.09" y="797.08" width="38.77" height="22.47" fill="#3a7bc3"/>
<rect x="980.86" y="797.08" width="38.77" height="22.47" fill="#f3d3cf"/>
<rect x="1019.63" y="797.08" width="38.77" height="22.47" fill="#eab3ac"/>
<rect x="670.7" y="819.55" width="38.77" height="22.47" fill="#df8a80"/>
<rect x="709.47" y="819.55" width="38.77" height="22.47" fill="#cdddf0"/>
<rect x="748.24" y="819.55" width="38.77" height="22.47" fill="#d87164"/>
<rect x="787.01" y="819.55" width="38.77" height="22.47" fill="#c7d9ee"/>
<rect x="825.78" y="819.55" width="38.77" height="22.47" fill="#e7a79f"/>
<rect x="864.55" y="819.55" width="38.77" height="22.47" fill="#e7a79f"/>
<rect x="903.32" y="819.55" width="38.77" height="22.47" fill="#568dcb"/>
<rect x="942.09" y="819.55" width="38.77" height="22.47" fill="#6a9bd2"/>
<rect x="980.86" y="819.55" width="38.77" height="22.47" fill="#e49a91"/>
<rect x="1019.63" y="819.55" width="38.77" height="22.47" fill="#eab3ac"/>
<rect x="670.7" y="842.02" width="38.77" height="22.47" fill="#df8a80"/>
<rect x="709.47" y="842.02" width="38.77" height="22.47" fill="#cdddf0"/>
<rect x="748.24" y="842.02" width="38.77" height="22.47" fill="#d87164"/>
<rect x="787.01" y="842.02" width="38.77" height="22.47" fill="#c7d9ee"/>
<rect x="825.78" y="842.02" width="38.77" height="22.47" fill="#e7a79f"/>
<rect x="864.55" y="842.02" width="38.77" height="22.47" fill="#e7a79f"/>
<rect x="903.32" y="842.02" width="38.77" height="22.47" fill="#568dcb"/>
<rect x="942.09" y="842.02" width="38.77" height="22.47" fill="#6a9bd2"/>
<rect x="980.86" y="842.02" width="38.77" height="22.47" fill="#e49a91"/>
<rect x="1019.63" y="842.02" width="38.77" height="22.47" fill="#eab3ac"/>
<rect x="670.7" y="864.5" width="38.77" height="22.47" fill="#f3d3cf"/>
<rect x="709.47" y="864.5" width="38.77" height="22.47" fill="#fdfdfd"/>
<rect x="748.24" y="864.5" width="38.77" height="22.47" fill="#ecb9b3"/>
<rect x="787.01" y="864.5" width="38.77" height="22.47" fill="#cdddf0"/>
<rect x="825.78" y="864.5" width="38.77" height="22.47" fill="#e8aba3"/>
<rect x="864.55" y="864.5" width="38.77" height="22.47" fill="#d87164"/>
<rect x="903.32" y="864.5" width="38.77" height="22.47" fill="#91b5dd"/>
<rect x="942.09" y="864.5" width="38.77" height="22.47" fill="#6f9ed3"/>
<rect x="980.86" y="864.5" width="38.77" height="22.47" fill="#f9eae8"/>
<rect x="1019.63" y="864.5" width="38.77" height="22.47" fill="#f7f9fc"/>
<rect x="670.7" y="886.97" width="38.77" height="22.47" fill="#f5dad6"/>
<rect x="709.47" y="886.97" width="38.77" height="22.47" fill="#f4d7d4"/>
<rect x="748.24" y="886.97" width="38.77" height="22.47" fill="#d87164"/>
<rect x="787.01" y="886.97" width="38.77" height="22.47" fill="#acc7e6"/>
<rect x="825.78" y="886.97" width="38.77" height="22.47" fill="#e29288"/>
<rect x="864.55" y="886.97" width="38.77" height="22.47" fill="#ecb9b3"/>
<rect x="903.32" y="886.97" width="38.77" height="22.47" fill="#96b9df"/>
<rect x="942.09" y="886.97" width="38.77" height="22.47" fill="#6094cf"/>
<rect x="980.86" y="886.97" width="38.77" height="22.47" fill="#f7e3e0"/>
<rect x="1019.63" y="886.97" width="38.77" height="22.47" fill="#f1ccc8"/>
<rect x="670.7" y="909.44" width="38.77" height="22.47" fill="#f5dad6"/>
<rect x="709.47" y="909.44" width="38.77" height="22.47" fill="#f4d7d4"/>
<rect x="748.24" y="909.44" width="38.77" height="22.47" fill="#d87164"/>
<rect x="787.01" y="909.44" width="38.77" height="22.47" fill="#acc7e6"/>
<rect x="825.78" y="909.44" width="38.77" height="22.47" fill="#e29288"/>
<rect x="864.55" y="909.44" width="38.77" height="22.47" fill="#ecb9b3"/>
<rect x="903.32" y="909.44" width="38.77" height="22.47" fill="#96b9df"/>
<rect x="942.09" y="909.44" width="38.77" height="22.47" fill="#6094cf"/>
<rect x="980.86" y="909.44" width="38.77" height="22.47" fill="#f7e3e0"/>
<rect x="1019.63" y="909.44" width="38.77" height="22.47" fill="#f1ccc8"/>
<rect x="670.7" y="931.91" width="38.77" height="22.47" fill="#fcf5f4"/>
<rect x="709.47" y="931.91" width="38.77" height="22.47" fill="#bbd2ea"/>
<rect x="748.24" y="931.91" width="38.77" height="22.47" fill="#d87164"/>
<rect x="787.01" y="931.91" width="38.77" height="22.47" fill="#f3d3cf"/>
<rect x="825.78" y="931.91" width="38.77" height="22.47" fill="#d6e3f2"/>
<rect x="864.55" y="931.91" width="38.77" height="22.47" fill="#f5dad6"/>
<rect x="903.32" y="931.91" width="38.77" height="22.47" fill="#c7d9ee"/>
<rect x="942.09" y="931.91" width="38.77" height="22.47" fill="#eaf1f9"/>
<rect x="980.86" y="931.91" width="38.77" height="22.47" fill="#e7a79f"/>
<rect x="1019.63" y="931.91" width="38.77" height="22.47" fill="#cdddf0"/>
<rect x="670.7" y="954.39" width="38.77" height="22.47" fill="#fcf5f4"/>
<rect x="709.47" y="954.39" width="38.77" height="22.47" fill="#d6e3f2"/>
<rect x="748.24" y="954.39" width="38.77" height="22.47" fill="#d87164"/>
<rect x="787.01" y="954.39" width="38.77" height="22.47" fill="#faedeb"/>
<rect x="825.78" y="954.39" width="38.77" height="22.47" fill="#eaf1f9"/>
<rect x="864.55" y="954.39" width="38.77" height="22.47" fill="#eab3ac"/>
<rect x="903.32" y="954.39" width="38.77" height="22.47" fill="#c7d9ee"/>
<rect x="942.09" y="954.39" width="38.77" height="22.47" fill="#d6e3f2"/>
<rect x="980.86" y="954.39" width="38.77" height="22.47" fill="#eec0ba"/>
<rect x="1019.63" y="954.39" width="38.77" height="22.47" fill="#a8c4e4"/>
<rect x="670.7" y="976.86" width="38.77" height="22.47" fill="#f7e3e0"/>
<rect x="709.47" y="976.86" width="38.77" height="22.47" fill="#eaf1f9"/>
<rect x="748.24" y="976.86" width="38.77" height="22.47" fill="#e8aba3"/>
<rect x="787.01" y="976.86" width="38.77" height="22.47" fill="#dee9f5"/>
<rect x="825.78" y="976.86" width="38.77" height="22.47" fill="#eef4fa"/>
<rect x="864.55" y="976.86" width="38.77" height="22.47" fill="#d87164"/>
<rect x="903.32" y="976.86" width="38.77" height="22.47" fill="#cdddf0"/>
<rect x="942.09" y="976.86" width="38.77" height="22.47" fill="#dee9f5"/>
<rect x="980.86" y="976.86" width="38.77" height="22.47" fill="#f1ccc8"/>
<rect x="1019.63" y="976.86" width="38.77" height="22.47" fill="#8fb4dd"/>
<rect x="670.7" y="999.33" width="38.77" height="22.47" fill="#f9eae8"/>
<rect x="709.47" y="999.33" width="38.77" height="22.47" fill="#568dcb"/>
<rect x="748.24" y="999.33" width="38.77" height="22.47" fill="#cdddf0"/>
<rect x="787.01" y="999.33" width="38.77" height="22.47" fill="#dd8276"/>
<rect x="825.78" y="999.33" width="38.77" height="22.47" fill="#689ad1"/>
<rect x="864.55" y="999.33" width="38.77" height="22.47" fill="#e4edf7"/>
<rect x="903.32" y="999.33" width="38.77" height="22.47" fill="#fdf7f6"/>
<rect x="942.09" y="999.33" width="38.77" height="22.47" fill="#e7a79f"/>
<rect x="980.86" y="999.33" width="38.77" height="22.47" fill="#eab3ac"/>
<rect x="1019.63" y="999.33" width="38.77" height="22.47" fill="#b3cce8"/>
<rect x="670.7" y="1021.8" width="38.77" height="22.47" fill="#e8f0f8"/>
<rect x="709.47" y="1021.8" width="38.77" height="22.47" fill="#689ad1"/>
<rect x="748.24" y="1021.8" width="38.77" height="22.47" fill="#cdddf0"/>
<rect x="787.01" y="1021.8" width="38.77" height="22.47" fill="#d87164"/>
<rect x="825.78" y="1021.8" width="38.77" height="22.47" fill="#73a1d4"/>
<rect x="864.55" y="1021.8" width="38.77" height="22.47" fill="#95b8df"/>
<rect x="903.32" y="1021.8" width="38.77" height="22.47" fill="#f8e5e3"/>
<rect x="942.09" y="1021.8" width="38.77" height="22.47" fill="#e8aba3"/>
<rect x="980.86" y="1021.8" width="38.77" height="22.47" fill="#efc3bd"/>
<rect x="1019.63" y="1021.8" width="38.77" height="22.47" fill="#e4edf7"/>
<rect x="670.7" y="1044.28" width="38.77" height="22.47" fill="#eaf1f9"/>
<rect x="709.47" y="1044.28" width="38.77" height="22.47" fill="#689ad1"/>
<rect x="748.24" y="1044.28" width="38.77" height="22.47" fill="#cdddf0"/>
<rect x="787.01" y="1044.28" width="38.77" height="22.47" fill="#d87164"/>
<rect x="825.78" y="1044.28" width="38.77" height="22.47" fill="#6d9dd3"/>
<rect x="864.55" y="1044.28" width="38.77" height="22.47" fill="#95b8df"/>
<rect x="903.32" y="1044.28" width="38.77" height="22.47" fill="#f8e5e3"/>
<rect x="942.09" y="1044.28" width="38.77" height="22.47" fill="#e8aba3"/>
<rect x="980.86" y="1044.28" width="38.77" height="22.47" fill="#efc3bd"/>
<rect x="1019.63" y="1044.28" width="38.77" height="22.47" fill="#e4edf7"/>
<rect x="670.7" y="1066.75" width="38.77" height="22.47" fill="#73a1d4"/>
<rect x="709.47" y="1066.75" width="38.77" height="22.47" fill="#e7a79f"/>
<rect x="748.24" y="1066.75" width="38.77" height="22.47" fill="#568dcb"/>
<rect x="787.01" y="1066.75" width="38.77" height="22.47" fill="#e8f0f8"/>
<rect x="825.78" y="1066.75" width="38.77" height="22.47" fill="#cdddf0"/>
<rect x="864.55" y="1066.75" width="38.77" height="22.47" fill="#b3cce8"/>
<rect x="903.32" y="1066.75" width="38.77" height="22.47" fill="#d87164"/>
<rect x="942.09" y="1066.75" width="38.77" height="22.47" fill="#e8aba3"/>
<rect x="980.86" y="1066.75" width="38.77" height="22.47" fill="#568dcb"/>
<rect x="1019.63" y="1066.75" width="38.77" height="22.47" fill="#bbd2ea"/>
<rect x="670.7" y="1089.22" width="38.77" height="22.47" fill="#5a90cd"/>
<rect x="709.47" y="1089.22" width="38.77" height="22.47" fill="#ecb9b3"/>
<rect x="748.24" y="1089.22" width="38.77" height="22.47" fill="#689ad1"/>
<rect x="787.01" y="1089.22" width="38.77" height="22.47" fill="#fdf7f6"/>
<rect x="825.78" y="1089.22" width="38.77" height="22.47" fill="#8fb4dd"/>
<rect x="864.55" y="1089.22" width="38.77" height="22.47" fill="#a8c4e4"/>
<rect x="903.32" y="1089.22" width="38.77" height="22.47" fill="#d46051"/>
<rect x="942.09" y="1089.22" width="38.77" height="22.47" fill="#e29288"/>
<rect x="980.86" y="1089.22" width="38.77" height="22.47" fill="#689ad1"/>
<rect x="1019.63" y="1089.22" width="38.77" height="22.47" fill="#84acda"/>
<rect x="670.7" y="1111.69" width="38.77" height="22.47" fill="#acc7e6"/>
<rect x="709.47" y="1111.69" width="38.77" height="22.47" fill="#c7d9ee"/>
<rect x="748.24" y="1111.69" width="38.77" height="22.47" fill="#dbe7f4"/>
<rect x="787.01" y="1111.69" width="38.77" height="22.47" fill="#e8aba3"/>
<rect x="825.78" y="1111.69" width="38.77" height="22.47" fill="#3a7bc3"/>
<rect x="864.55" y="1111.69" width="38.77" height="22.47" fill="#c7d9ee"/>
<rect x="903.32" y="1111.69" width="38.77" height="22.47" fill="#e8aba3"/>
<rect x="942.09" y="1111.69" width="38.77" height="22.47" fill="#d46051"/>
<rect x="980.86" y="1111.69" width="38.77" height="22.47" fill="#faedeb"/>
<rect x="1019.63" y="1111.69" width="38.77" height="22.47" fill="#5f93ce"/>
<rect x="670.7" y="1134.17" width="38.77" height="22.47" fill="#bbd2ea"/>
<rect x="709.47" y="1134.17" width="38.77" height="22.47" fill="#b3cce8"/>
<rect x="748.24" y="1134.17" width="38.77" height="22.47" fill="#bbd2ea"/>
<rect x="787.01" y="1134.17" width="38.77" height="22.47" fill="#e8aba3"/>
<rect x="825.78" y="1134.17" width="38.77" height="22.47" fill="#3a7bc3"/>
<rect x="864.55" y="1134.17" width="38.77" height="22.47" fill="#e4edf7"/>
<rect x="903.32" y="1134.17" width="38.77" height="22.47" fill="#e8aba3"/>
<rect x="942.09" y="1134.17" width="38.77" height="22.47" fill="#d87164"/>
<rect x="980.86" y="1134.17" width="38.77" height="22.47" fill="#fdf7f6"/>
<rect x="1019.63" y="1134.17" width="38.77" height="22.47" fill="#568dcb"/>
<rect x="670.7" y="1156.64" width="38.77" height="22.47" fill="#5a90cd"/>
<rect x="709.47" y="1156.64" width="38.77" height="22.47" fill="#fdf7f6"/>
<rect x="748.24" y="1156.64" width="38.77" height="22.47" fill="#eaf1f9"/>
<rect x="787.01" y="1156.64" width="38.77" height="22.47" fill="#f0c9c4"/>
<rect x="825.78" y="1156.64" width="38.77" height="22.47" fill="#8fb4dd"/>
<rect x="864.55" y="1156.64" width="38.77" height="22.47" fill="#fdf7f6"/>
<rect x="903.32" y="1156.64" width="38.77" height="22.47" fill="#e8aba3"/>
<rect x="942.09" y="1156.64" width="38.77" height="22.47" fill="#eec0ba"/>
<rect x="980.86" y="1156.64" width="38.77" height="22.47" fill="#bbd2ea"/>
<rect x="1019.63" y="1156.64" width="38.77" height="22.47" fill="#568dcb"/>
<rect x="670.7" y="1179.11" width="38.77" height="22.47" fill="#b0cae7"/>
<rect x="709.47" y="1179.11" width="38.77" height="22.47" fill="#f9eae8"/>
<rect x="748.24" y="1179.11" width="38.77" height="22.47" fill="#f3d3cf"/>
<rect x="787.01" y="1179.11" width="38.77" height="22.47" fill="#fbefed"/>
<rect x="825.78" y="1179.11" width="38.77" height="22.47" fill="#689ad1"/>
<rect x="864.55" y="1179.11" width="38.77" height="22.47" fill="#f9eae8"/>
<rect x="903.32" y="1179.11" width="38.77" height="22.47" fill="#e8aba3"/>
<rect x="942.09" y="1179.11" width="38.77" height="22.47" fill="#e59f96"/>
<rect x="980.86" y="1179.11" width="38.77" height="22.47" fill="#fdf8f7"/>
<rect x="1019.63" y="1179.11" width="38.77" height="22.47" fill="#568dcb"/>
<rect x="670.7" y="1201.58" width="38.77" height="22.47" fill="#73a1d4"/>
<rect x="709.47" y="1201.58" width="38.77" height="22.47" fill="#fdfdfd"/>
<rect x="748.24" y="1201.58" width="38.77" height="22.47" fill="#faedeb"/>
<rect x="787.01" y="1201.58" width="38.77" height="22.47" fill="#f3d3cf"/>
<rect x="825.78" y="1201.58" width="38.77" height="22.47" fill="#568dcb"/>
<rect x="864.55" y="1201.58" width="38.77" height="22.47" fill="#f7f9fc"/>
<rect x="903.32" y="1201.58" width="38.77" height="22.47" fill="#e7a79f"/>
<rect x="942.09" y="1201.58" width="38.77" height="22.47" fill="#df8a80"/>
<rect x="980.86" y="1201.58" width="38.77" height="22.47" fill="#ecf2f9"/>
<rect x="1019.63" y="1201.58" width="38.77" height="22.47" fill="#3a7bc3"/>
<rect x="670.7" y="1224.06" width="38.77" height="22.47" fill="#8fb4dd"/>
<rect x="709.47" y="1224.06" width="38.77" height="22.47" fill="#eaf1f9"/>
<rect x="748.24" y="1224.06" width="38.77" height="22.47" fill="#eaf1f9"/>
<rect x="787.01" y="1224.06" width="38.77" height="22.47" fill="#f3d3cf"/>
<rect x="825.78" y="1224.06" width="38.77" height="22.47" fill="#5f93ce"/>
<rect x="864.55" y="1224.06" width="38.77" height="22.47" fill="#f8e5e3"/>
<rect x="903.32" y="1224.06" width="38.77" height="22.47" fill="#e8aba3"/>
<rect x="942.09" y="1224.06" width="38.77" height="22.47" fill="#e29288"/>
<rect x="980.86" y="1224.06" width="38.77" height="22.47" fill="#e4edf7"/>
<rect x="1019.63" y="1224.06" width="38.77" height="22.47" fill="#3a7bc3"/>
<rect x="670.7" y="1246.53" width="38.77" height="22.47" fill="#95b8df"/>
<rect x="709.47" y="1246.53" width="38.77" height="22.47" fill="#eaf1f9"/>
<rect x="748.24" y="1246.53" width="38.77" height="22.47" fill="#eaf1f9"/>
<rect x="787.01" y="1246.53" width="38.77" height="22.47" fill="#f3d3cf"/>
<rect x="825.78" y="1246.53" width="38.77" height="22.47" fill="#5f93ce"/>
<rect x="864.55" y="1246.53" width="38.77" height="22.47" fill="#f8e5e3"/>
<rect x="903.32" y="1246.53" width="38.77" height="22.47" fill="#e8aba3"/>
<rect x="942.09" y="1246.53" width="38.77" height="22.47" fill="#e29288"/>
<rect x="980.86" y="1246.53" width="38.77" height="22.47" fill="#e4edf7"/>
<rect x="1019.63" y="1246.53" width="38.77" height="22.47" fill="#3a7bc3"/>
</g>
<g font-family='"Liberation Serif","DejaVu Serif",serif' font-size="16" font-weight="bold" text-anchor="middle" fill="#1c1c1c" stroke="#1c1c1c" stroke-width="0.3" stroke-linejoin="round" opacity="0.85" letter-spacing="0.1">
<text x="883.99" y="634.24">*</text>
<text x="1039.07" y="656.71">*</text>
<text x="1039.07" y="679.18">*</text>
<text x="1039.07" y="701.65">*</text>
<text x="1039.07" y="724.13">**</text>
<text x="1039.07" y="746.6">***</text>
<text x="1039.07" y="769.07">***</text>
<text x="690.13" y="791.54">**</text>
<text x="845.22" y="814.02">*</text>
<text x="922.75" y="814.02">*</text>
<text x="961.53" y="814.02">**</text>
<text x="767.67" y="836.49">*</text>
<text x="922.75" y="836.49">*</text>
<text x="767.67" y="858.96">*</text>
<text x="922.75" y="858.96">*</text>
<text x="883.99" y="881.43">*</text>
<text x="767.67" y="903.91">*</text>
<text x="767.67" y="926.38">*</text>
<text x="767.67" y="948.85">*</text>
<text x="767.67" y="971.32">*</text>
<text x="883.99" y="993.79">*</text>
<text x="728.9" y="1016.27">*</text>
<text x="806.45" y="1038.74">*</text>
<text x="806.45" y="1061.21">*</text>
<text x="767.67" y="1083.68">*</text>
<text x="922.75" y="1083.68">*</text>
<text x="1000.3" y="1083.68">*</text>
<text x="922.75" y="1106.16">**</text>
<text x="845.22" y="1128.63">***</text>
<text x="961.53" y="1128.63">**</text>
<text x="845.22" y="1151.1">**</text>
<text x="961.53" y="1151.1">*</text>
<text x="1039.07" y="1151.1">*</text>
<text x="1039.07" y="1173.57">*</text>
<text x="1039.07" y="1196.05">*</text>
<text x="845.22" y="1218.52">*</text>
<text x="1039.07" y="1218.52">**</text>
<text x="1039.07" y="1240.99">***</text>
<text x="1039.07" y="1263.46">***</text>
</g>
<g font-family='"Liberation Serif","DejaVu Serif",serif' font-size="15.6" font-style="italic" fill="#111" stroke="#111" stroke-width="0.12" letter-spacing="0.3">
<text x="1061.9" y="634.53">Filomicrobium</text>
<text x="1061.9" y="657">Geminicoccus</text>
<text x="1061.9" y="679.47">Gaiella</text>
<text x="1061.9" y="701.95">Gp23</text>
<text x="1061.9" y="724.42">Desulfopila</text>
<text x="1061.9" y="746.89">Haliea</text>
<text x="1061.9" y="769.36">Povalibacter</text>
<text x="1061.9" y="791.84">Mangrovibacterium</text>
<text x="1061.9" y="814.31">Ornatilinea</text>
<text x="1061.9" y="836.78">Desulfuromonas</text>
<text x="1061.9" y="859.25">Desulfosarcina</text>
<text x="1061.9" y="881.72">Longilinea</text>
<text x="1061.9" y="904.2">Sulfurimonas</text>
<text x="1061.9" y="926.67">Thiolapillus</text>
<text x="1061.9" y="949.14">Deferrisoma</text>
<text x="1061.9" y="971.61">Desulfatitalea</text>
<text x="1061.9" y="994.09">Arcobacter</text>
<text x="1061.9" y="1016.56">Gp22</text>
<text x="1061.9" y="1039.03">Rhodovulum</text>
<text x="1061.9" y="1061.5">Nitrospira</text>
<text x="1061.9" y="1083.98">Desulfobulbus</text>
<text x="1061.9" y="1106.45">Desulfovirga</text>
<text x="1061.9" y="1128.92">Thioprofundum</text>
<text x="1061.9" y="1151.39">Haliangium</text>
<text x="1061.9" y="1173.87">Bacillariophyta</text>
<text x="1061.9" y="1196.34">Thiogranum</text>
<text x="1061.9" y="1218.81">Thiohalophilus</text>
<text x="1061.9" y="1241.28">Unclassified</text>
<text x="1061.9" y="1263.76">Caldithrix</text>
</g>
<g font-family='"Liberation Serif","DejaVu Serif",serif' font-size="12" font-weight="bold" text-anchor="end" fill="#000" letter-spacing="0.55">
<text transform="translate(696.59 1279.7) rotate(-45)">pH</text>
<text transform="translate(736.56 1277.2) rotate(-45)">Salinity</text>
<text transform="translate(773.12 1276) rotate(-45)">Water cotent</text>
<text transform="translate(809.9 1275) rotate(-45)">Sediment temp.</text>
<text transform="translate(852.97 1277.7) rotate(-45)">TC</text>
<text transform="translate(890.44 1278.5) rotate(-45)">TN</text>
<text transform="translate(928.41 1279.7) rotate(-45)">SO<tspan dy="2.64" font-size="7.44">4</tspan><tspan dy="-7.44" dx="-3.6" font-size="7.44">2-</tspan><tspan dy="4.8" font-size="7.44"> </tspan></text>
<text transform="translate(969.28 1278.5) rotate(-45)">Fe<tspan dy="-4.56" font-size="7.44">3+</tspan><tspan dy="4.56" font-size="7.44"> </tspan></text>
<text transform="translate(1005.45 1278.5) rotate(-45)">Fe<tspan dy="-4.56" font-size="7.44">2+</tspan><tspan dy="4.56" font-size="7.44"> </tspan></text>
<text transform="translate(1044.32 1275.5) rotate(-45)">Sediment CO<tspan dy="2.64" font-size="7.44">2</tspan><tspan dy="-2.64"> flux</tspan></text>
</g>
</g>
<g id="panel-F">
<text x="1255.5" y="606" font-family='"Liberation Serif","DejaVu Serif",serif' font-weight="bold" font-size="20" letter-spacing="1.75" fill="#000">(F) Genus SA</text>
<path d="M1286.3 627.81L1286.3 669.83M1286.3 627.81L1288.9 627.81M1286.3 648.82L1288.9 648.82M1286.3 669.83L1288.9 669.83M1284.5 690.85L1284.5 711.86M1284.5 690.85L1288.9 690.85M1284.5 711.86L1288.9 711.86M1279.8 644L1279.8 701.35M1279.8 644L1286.3 644M1279.8 701.35L1284.5 701.35M1287.4 732.87L1287.4 753.88M1287.4 732.87L1288.9 732.87M1287.4 753.88L1288.9 753.88M1286 774.9L1286 858.95M1286 774.9L1288.9 774.9M1286 795.91L1288.9 795.91M1286 816.92L1288.9 816.92M1286 837.94L1288.9 837.94M1286 858.95L1288.9 858.95M1284 879.96L1284 1027.05M1284 879.96L1288.9 879.96M1284 900.97L1288.9 900.97M1284 921.99L1288.9 921.99M1284 943L1288.9 943M1284 964.01L1288.9 964.01M1284 985.03L1288.9 985.03M1284 1006.04L1288.9 1006.04M1284 1027.05L1288.9 1027.05M1280.2 819.7L1280.2 951M1280.2 819.7L1286 819.7M1280.2 951L1284 951M1277.7 743.38L1277.7 874.6M1277.7 743.38L1287.4 743.38M1277.7 874.6L1280.2 874.6M1261.8 672.68L1261.8 808.99M1261.8 672.68L1279.8 672.68M1261.8 808.99L1277.7 808.99M1286.3 1048.06L1286.3 1069.08M1286.3 1048.06L1288.9 1048.06M1286.3 1069.08L1288.9 1069.08M1286.5 1090.09L1286.5 1111.1M1286.5 1090.09L1288.9 1090.09M1286.5 1111.1L1288.9 1111.1M1286.3 1153.13L1286.3 1174.14M1286.3 1153.13L1288.9 1153.13M1286.3 1174.14L1288.9 1174.14M1284.5 1132.12L1284.5 1163.64M1284.5 1132.12L1288.9 1132.12M1284.5 1163.64L1286.3 1163.64M1280.2 1100.6L1280.2 1147.88M1280.2 1100.6L1286.5 1100.6M1280.2 1147.88L1284.5 1147.88M1274.9 1058.57L1274.9 1124.24M1274.9 1058.57L1286.3 1058.57M1274.9 1124.24L1280.2 1124.24M1284.5 1195.15L1284.5 1216.17M1284.5 1195.15L1288.9 1195.15M1284.5 1216.17L1288.9 1216.17M1284.5 1237.18L1284.5 1258.19M1284.5 1237.18L1288.9 1237.18M1284.5 1258.19L1288.9 1258.19M1272.6 1205.66L1272.6 1247.69M1272.6 1205.66L1284.5 1205.66M1272.6 1247.69L1284.5 1247.69M1257.8 1091.4L1257.8 1226.67M1257.8 1091.4L1274.9 1091.4M1257.8 1226.67L1272.6 1226.67M1253.1 740.83L1253.1 1159.04M1253.1 740.83L1261.8 740.83M1253.1 1159.04L1257.8 1159.04" fill="none" stroke="#222" stroke-width="1.1" stroke-linecap="square"/>
<g stroke="#969696" stroke-opacity="0.6" stroke-width="1" shape-rendering="crispEdges">
<rect x="1288.9" y="617.3" width="38.73" height="21.01" fill="#a0bfe2"/>
<rect x="1327.63" y="617.3" width="38.73" height="21.01" fill="#f3f7fb"/>
<rect x="1366.36" y="617.3" width="38.73" height="21.01" fill="#fcf5f4"/>
<rect x="1405.09" y="617.3" width="38.73" height="21.01" fill="#dbe7f4"/>
<rect x="1443.82" y="617.3" width="38.73" height="21.01" fill="#f4d7d4"/>
<rect x="1482.55" y="617.3" width="38.73" height="21.01" fill="#ecb9b3"/>
<rect x="1521.28" y="617.3" width="38.73" height="21.01" fill="#d87164"/>
<rect x="1560.01" y="617.3" width="38.73" height="21.01" fill="#568dcb"/>
<rect x="1598.74" y="617.3" width="38.73" height="21.01" fill="#c7d9ee"/>
<rect x="1637.47" y="617.3" width="38.73" height="21.01" fill="#f7e3e0"/>
<rect x="1288.9" y="638.31" width="38.73" height="21.01" fill="#cdddf0"/>
<rect x="1327.63" y="638.31" width="38.73" height="21.01" fill="#bbd2ea"/>
<rect x="1366.36" y="638.31" width="38.73" height="21.01" fill="#f7e3e0"/>
<rect x="1405.09" y="638.31" width="38.73" height="21.01" fill="#f8e5e3"/>
<rect x="1443.82" y="638.31" width="38.73" height="21.01" fill="#faedeb"/>
<rect x="1482.55" y="638.31" width="38.73" height="21.01" fill="#fbefed"/>
<rect x="1521.28" y="638.31" width="38.73" height="21.01" fill="#d87164"/>
<rect x="1560.01" y="638.31" width="38.73" height="21.01" fill="#568dcb"/>
<rect x="1598.74" y="638.31" width="38.73" height="21.01" fill="#5f93ce"/>
<rect x="1637.47" y="638.31" width="38.73" height="21.01" fill="#f7e3e0"/>
<rect x="1288.9" y="659.33" width="38.73" height="21.01" fill="#eef4fa"/>
<rect x="1327.63" y="659.33" width="38.73" height="21.01" fill="#cdddf0"/>
<rect x="1366.36" y="659.33" width="38.73" height="21.01" fill="#f1ccc8"/>
<rect x="1405.09" y="659.33" width="38.73" height="21.01" fill="#f1ccc8"/>
<rect x="1443.82" y="659.33" width="38.73" height="21.01" fill="#f0c9c4"/>
<rect x="1482.55" y="659.33" width="38.73" height="21.01" fill="#f1ccc8"/>
<rect x="1521.28" y="659.33" width="38.73" height="21.01" fill="#dc7d72"/>
<rect x="1560.01" y="659.33" width="38.73" height="21.01" fill="#3a7bc3"/>
<rect x="1598.74" y="659.33" width="38.73" height="21.01" fill="#7ea9d8"/>
<rect x="1637.47" y="659.33" width="38.73" height="21.01" fill="#faedeb"/>
<rect x="1288.9" y="680.34" width="38.73" height="21.01" fill="#4d87c9"/>
<rect x="1327.63" y="680.34" width="38.73" height="21.01" fill="#b3cce8"/>
<rect x="1366.36" y="680.34" width="38.73" height="21.01" fill="#f3d3cf"/>
<rect x="1405.09" y="680.34" width="38.73" height="21.01" fill="#b3cce8"/>
<rect x="1443.82" y="680.34" width="38.73" height="21.01" fill="#d0dff1"/>
<rect x="1482.55" y="680.34" width="38.73" height="21.01" fill="#d6e3f2"/>
<rect x="1521.28" y="680.34" width="38.73" height="21.01" fill="#efc3bd"/>
<rect x="1560.01" y="680.34" width="38.73" height="21.01" fill="#a8c4e4"/>
<rect x="1598.74" y="680.34" width="38.73" height="21.01" fill="#7ea9d8"/>
<rect x="1637.47" y="680.34" width="38.73" height="21.01" fill="#d87164"/>
<rect x="1288.9" y="701.35" width="38.73" height="21.01" fill="#b3cce8"/>
<rect x="1327.63" y="701.35" width="38.73" height="21.01" fill="#cdddf0"/>
<rect x="1366.36" y="701.35" width="38.73" height="21.01" fill="#e49a91"/>
<rect x="1405.09" y="701.35" width="38.73" height="21.01" fill="#f7f9fc"/>
<rect x="1443.82" y="701.35" width="38.73" height="21.01" fill="#e7a79f"/>
<rect x="1482.55" y="701.35" width="38.73" height="21.01" fill="#edbcb6"/>
<rect x="1521.28" y="701.35" width="38.73" height="21.01" fill="#f8e5e3"/>
<rect x="1560.01" y="701.35" width="38.73" height="21.01" fill="#95b8df"/>
<rect x="1598.74" y="701.35" width="38.73" height="21.01" fill="#fdf7f6"/>
<rect x="1637.47" y="701.35" width="38.73" height="21.01" fill="#d87164"/>
<rect x="1288.9" y="722.36" width="38.73" height="21.01" fill="#fdfdfd"/>
<rect x="1327.63" y="722.36" width="38.73" height="21.01" fill="#db796d"/>
<rect x="1366.36" y="722.36" width="38.73" height="21.01" fill="#eec0ba"/>
<rect x="1405.09" y="722.36" width="38.73" height="21.01" fill="#f9eae8"/>
<rect x="1443.82" y="722.36" width="38.73" height="21.01" fill="#e3968d"/>
<rect x="1482.55" y="722.36" width="38.73" height="21.01" fill="#d87164"/>
<rect x="1521.28" y="722.36" width="38.73" height="21.01" fill="#eaf1f9"/>
<rect x="1560.01" y="722.36" width="38.73" height="21.01" fill="#a0bfe2"/>
<rect x="1598.74" y="722.36" width="38.73" height="21.01" fill="#fdf7f6"/>
<rect x="1637.47" y="722.36" width="38.73" height="21.01" fill="#fdf7f6"/>
<rect x="1288.9" y="743.38" width="38.73" height="21.01" fill="#fcf5f4"/>
<rect x="1327.63" y="743.38" width="38.73" height="21.01" fill="#e8aba3"/>
<rect x="1366.36" y="743.38" width="38.73" height="21.01" fill="#f8e5e3"/>
<rect x="1405.09" y="743.38" width="38.73" height="21.01" fill="#fbf2f1"/>
<rect x="1443.82" y="743.38" width="38.73" height="21.01" fill="#e49a91"/>
<rect x="1482.55" y="743.38" width="38.73" height="21.01" fill="#d87164"/>
<rect x="1521.28" y="743.38" width="38.73" height="21.01" fill="#faedeb"/>
<rect x="1560.01" y="743.38" width="38.73" height="21.01" fill="#95b8df"/>
<rect x="1598.74" y="743.38" width="38.73" height="21.01" fill="#f3d3cf"/>
<rect x="1637.47" y="743.38" width="38.73" height="21.01" fill="#e4edf7"/>
<rect x="1288.9" y="764.39" width="38.73" height="21.01" fill="#da7568"/>
<rect x="1327.63" y="764.39" width="38.73" height="21.01" fill="#f8e5e3"/>
<rect x="1366.36" y="764.39" width="38.73" height="21.01" fill="#e8aba3"/>
<rect x="1405.09" y="764.39" width="38.73" height="21.01" fill="#d87164"/>
<rect x="1443.82" y="764.39" width="38.73" height="21.01" fill="#d46051"/>
<rect x="1482.55" y="764.39" width="38.73" height="21.01" fill="#d87164"/>
<rect x="1521.28" y="764.39" width="38.73" height="21.01" fill="#b3cce8"/>
<rect x="1560.01" y="764.39" width="38.73" height="21.01" fill="#b3cce8"/>
<rect x="1598.74" y="764.39" width="38.73" height="21.01" fill="#f3d3cf"/>
<rect x="1637.47" y="764.39" width="38.73" height="21.01" fill="#bfd4ec"/>
<rect x="1288.9" y="785.4" width="38.73" height="21.01" fill="#da7568"/>
<rect x="1327.63" y="785.4" width="38.73" height="21.01" fill="#e4edf7"/>
<rect x="1366.36" y="785.4" width="38.73" height="21.01" fill="#dc7d72"/>
<rect x="1405.09" y="785.4" width="38.73" height="21.01" fill="#d87164"/>
<rect x="1443.82" y="785.4" width="38.73" height="21.01" fill="#d87164"/>
<rect x="1482.55" y="785.4" width="38.73" height="21.01" fill="#e49a91"/>
<rect x="1521.28" y="785.4" width="38.73" height="21.01" fill="#8fb4dd"/>
<rect x="1560.01" y="785.4" width="38.73" height="21.01" fill="#d6e3f2"/>
<rect x="1598.74" y="785.4" width="38.73" height="21.01" fill="#f3d3cf"/>
<rect x="1637.47" y="785.4" width="38.73" height="21.01" fill="#fbf0ef"/>
<rect x="1288.9" y="806.42" width="38.73" height="21.01" fill="#e29288"/>
<rect x="1327.63" y="806.42" width="38.73" height="21.01" fill="#f9eae8"/>
<rect x="1366.36" y="806.42" width="38.73" height="21.01" fill="#d87164"/>
<rect x="1405.09" y="806.42" width="38.73" height="21.01" fill="#d87164"/>
<rect x="1443.82" y="806.42" width="38.73" height="21.01" fill="#d46051"/>
<rect x="1482.55" y="806.42" width="38.73" height="21.01" fill="#dd8276"/>
<rect x="1521.28" y="806.42" width="38.73" height="21.01" fill="#95b8df"/>
<rect x="1560.01" y="806.42" width="38.73" height="21.01" fill="#a8c4e4"/>
<rect x="1598.74" y="806.42" width="38.73" height="21.01" fill="#faedeb"/>
<rect x="1637.47" y="806.42" width="38.73" height="21.01" fill="#f9eae8"/>
<rect x="1288.9" y="827.43" width="38.73" height="21.01" fill="#e7a79f"/>
<rect x="1327.63" y="827.43" width="38.73" height="21.01" fill="#cdddf0"/>
<rect x="1366.36" y="827.43" width="38.73" height="21.01" fill="#dc7d72"/>
<rect x="1405.09" y="827.43" width="38.73" height="21.01" fill="#dc7d72"/>
<rect x="1443.82" y="827.43" width="38.73" height="21.01" fill="#d46051"/>
<rect x="1482.55" y="827.43" width="38.73" height="21.01" fill="#df8a80"/>
<rect x="1521.28" y="827.43" width="38.73" height="21.01" fill="#fdfdfd"/>
<rect x="1560.01" y="827.43" width="38.73" height="21.01" fill="#689ad1"/>
<rect x="1598.74" y="827.43" width="38.73" height="21.01" fill="#fcf5f4"/>
<rect x="1637.47" y="827.43" width="38.73" height="21.01" fill="#f9eae8"/>
<rect x="1288.9" y="848.44" width="38.73" height="21.01" fill="#e7a79f"/>
<rect x="1327.63" y="848.44" width="38.73" height="21.01" fill="#c7d9ee"/>
<rect x="1366.36" y="848.44" width="38.73" height="21.01" fill="#e8aba3"/>
<rect x="1405.09" y="848.44" width="38.73" height="21.01" fill="#e7a79f"/>
<rect x="1443.82" y="848.44" width="38.73" height="21.01" fill="#d87164"/>
<rect x="1482.55" y="848.44" width="38.73" height="21.01" fill="#e49a91"/>
<rect x="1521.28" y="848.44" width="38.73" height="21.01" fill="#e4edf7"/>
<rect x="1560.01" y="848.44" width="38.73" height="21.01" fill="#bbd2ea"/>
<rect x="1598.74" y="848.44" width="38.73" height="21.01" fill="#e7a79f"/>
<rect x="1637.47" y="848.44" width="38.73" height="21.01" fill="#fbf0ef"/>
<rect x="1288.9" y="869.45" width="38.73" height="21.01" fill="#f5dad6"/>
<rect x="1327.63" y="869.45" width="38.73" height="21.01" fill="#f0c9c4"/>
<rect x="1366.36" y="869.45" width="38.73" height="21.01" fill="#d87164"/>
<rect x="1405.09" y="869.45" width="38.73" height="21.01" fill="#e29288"/>
<rect x="1443.82" y="869.45" width="38.73" height="21.01" fill="#e49a91"/>
<rect x="1482.55" y="869.45" width="38.73" height="21.01" fill="#e49a91"/>
<rect x="1521.28" y="869.45" width="38.73" height="21.01" fill="#e4edf7"/>
<rect x="1560.01" y="869.45" width="38.73" height="21.01" fill="#7ea9d8"/>
<rect x="1598.74" y="869.45" width="38.73" height="21.01" fill="#73a1d4"/>
<rect x="1637.47" y="869.45" width="38.73" height="21.01" fill="#f6dedb"/>
<rect x="1288.9" y="890.47" width="38.73" height="21.01" fill="#f7f9fc"/>
<rect x="1327.63" y="890.47" width="38.73" height="21.01" fill="#fbf2f1"/>
<rect x="1366.36" y="890.47" width="38.73" height="21.01" fill="#d46051"/>
<rect x="1405.09" y="890.47" width="38.73" height="21.01" fill="#ecb9b3"/>
<rect x="1443.82" y="890.47" width="38.73" height="21.01" fill="#e29288"/>
<rect x="1482.55" y="890.47" width="38.73" height="21.01" fill="#e29288"/>
<rect x="1521.28" y="890.47" width="38.73" height="21.01" fill="#eaf1f9"/>
<rect x="1560.01" y="890.47" width="38.73" height="21.01" fill="#73a1d4"/>
<rect x="1598.74" y="890.47" width="38.73" height="21.01" fill="#bbd2ea"/>
<rect x="1637.47" y="890.47" width="38.73" height="21.01" fill="#e29288"/>
<rect x="1288.9" y="911.48" width="38.73" height="21.01" fill="#faedeb"/>
<rect x="1327.63" y="911.48" width="38.73" height="21.01" fill="#f4d7d4"/>
<rect x="1366.36" y="911.48" width="38.73" height="21.01" fill="#d87164"/>
<rect x="1405.09" y="911.48" width="38.73" height="21.01" fill="#ecb9b3"/>
<rect x="1443.82" y="911.48" width="38.73" height="21.01" fill="#df8a80"/>
<rect x="1482.55" y="911.48" width="38.73" height="21.01" fill="#df8a80"/>
<rect x="1521.28" y="911.48" width="38.73" height="21.01" fill="#bbd2ea"/>
<rect x="1560.01" y="911.48" width="38.73" height="21.01" fill="#8fb4dd"/>
<rect x="1598.74" y="911.48" width="38.73" height="21.01" fill="#f1f5fb"/>
<rect x="1637.47" y="911.48" width="38.73" height="21.01" fill="#e7a79f"/>
<rect x="1288.9" y="932.49" width="38.73" height="21.01" fill="#f9eae8"/>
<rect x="1327.63" y="932.49" width="38.73" height="21.01" fill="#fbefed"/>
<rect x="1366.36" y="932.49" width="38.73" height="21.01" fill="#e59f96"/>
<rect x="1405.09" y="932.49" width="38.73" height="21.01" fill="#efc3bd"/>
<rect x="1443.82" y="932.49" width="38.73" height="21.01" fill="#d87164"/>
<rect x="1482.55" y="932.49" width="38.73" height="21.01" fill="#d87164"/>
<rect x="1521.28" y="932.49" width="38.73" height="21.01" fill="#f9eae8"/>
<rect x="1560.01" y="932.49" width="38.73" height="21.01" fill="#8fb4dd"/>
<rect x="1598.74" y="932.49" width="38.73" height="21.01" fill="#f0c9c4"/>
<rect x="1637.47" y="932.49" width="38.73" height="21.01" fill="#f0c9c4"/>
<rect x="1288.9" y="953.51" width="38.73" height="21.01" fill="#f7e3e0"/>
<rect x="1327.63" y="953.51" width="38.73" height="21.01" fill="#f0c9c4"/>
<rect x="1366.36" y="953.51" width="38.73" height="21.01" fill="#e59f96"/>
<rect x="1405.09" y="953.51" width="38.73" height="21.01" fill="#e59f96"/>
<rect x="1443.82" y="953.51" width="38.73" height="21.01" fill="#df8a80"/>
<rect x="1482.55" y="953.51" width="38.73" height="21.01" fill="#d87164"/>
<rect x="1521.28" y="953.51" width="38.73" height="21.01" fill="#efc3bd"/>
<rect x="1560.01" y="953.51" width="38.73" height="21.01" fill="#568dcb"/>
<rect x="1598.74" y="953.51" width="38.73" height="21.01" fill="#a0bfe2"/>
<rect x="1637.47" y="953.51" width="38.73" height="21.01" fill="#fdfdfd"/>
<rect x="1288.9" y="974.52" width="38.73" height="21.01" fill="#ecb9b3"/>
<rect x="1327.63" y="974.52" width="38.73" height="21.01" fill="#eef4fa"/>
<rect x="1366.36" y="974.52" width="38.73" height="21.01" fill="#dc7d72"/>
<rect x="1405.09" y="974.52" width="38.73" height="21.01" fill="#dc7d72"/>
<rect x="1443.82" y="974.52" width="38.73" height="21.01" fill="#d87164"/>
<rect x="1482.55" y="974.52" width="38.73" height="21.01" fill="#dd8276"/>
<rect x="1521.28" y="974.52" width="38.73" height="21.01" fill="#f5dad6"/>
<rect x="1560.01" y="974.52" width="38.73" height="21.01" fill="#568dcb"/>
<rect x="1598.74" y="974.52" width="38.73" height="21.01" fill="#bbd2ea"/>
<rect x="1637.47" y="974.52" width="38.73" height="21.01" fill="#f9eae8"/>
<rect x="1288.9" y="995.53" width="38.73" height="21.01" fill="#f7e3e0"/>
<rect x="1327.63" y="995.53" width="38.73" height="21.01" fill="#fdf8f7"/>
<rect x="1366.36" y="995.53" width="38.73" height="21.01" fill="#dc7d72"/>
<rect x="1405.09" y="995.53" width="38.73" height="21.01" fill="#e59f96"/>
<rect x="1443.82" y="995.53" width="38.73" height="21.01" fill="#d87164"/>
<rect x="1482.55" y="995.53" width="38.73" height="21.01" fill="#d87164"/>
<rect x="1521.28" y="995.53" width="38.73" height="21.01" fill="#f6dedb"/>
<rect x="1560.01" y="995.53" width="38.73" height="21.01" fill="#568dcb"/>
<rect x="1598.74" y="995.53" width="38.73" height="21.01" fill="#e4edf7"/>
<rect x="1637.47" y="995.53" width="38.73" height="21.01" fill="#f0c9c4"/>
<rect x="1288.9" y="1016.55" width="38.73" height="21.01" fill="#f9eae8"/>
<rect x="1327.63" y="1016.55" width="38.73" height="21.01" fill="#fcf5f4"/>
<rect x="1366.36" y="1016.55" width="38.73" height="21.01" fill="#dd8276"/>
<rect x="1405.09" y="1016.55" width="38.73" height="21.01" fill="#e59f96"/>
<rect x="1443.82" y="1016.55" width="38.73" height="21.01" fill="#dc7d72"/>
<rect x="1482.55" y="1016.55" width="38.73" height="21.01" fill="#dc7d72"/>
<rect x="1521.28" y="1016.55" width="38.73" height="21.01" fill="#eec0ba"/>
<rect x="1560.01" y="1016.55" width="38.73" height="21.01" fill="#3a7bc3"/>
<rect x="1598.74" y="1016.55" width="38.73" height="21.01" fill="#a0bfe2"/>
<rect x="1637.47" y="1016.55" width="38.73" height="21.01" fill="#f3d3cf"/>
<rect x="1288.9" y="1037.56" width="38.73" height="21.01" fill="#fdfdfd"/>
<rect x="1327.63" y="1037.56" width="38.73" height="21.01" fill="#8fb4dd"/>
<rect x="1366.36" y="1037.56" width="38.73" height="21.01" fill="#e4edf7"/>
<rect x="1405.09" y="1037.56" width="38.73" height="21.01" fill="#f3f7fb"/>
<rect x="1443.82" y="1037.56" width="38.73" height="21.01" fill="#8fb4dd"/>
<rect x="1482.55" y="1037.56" width="38.73" height="21.01" fill="#568dcb"/>
<rect x="1521.28" y="1037.56" width="38.73" height="21.01" fill="#ecf2f9"/>
<rect x="1560.01" y="1037.56" width="38.73" height="21.01" fill="#eab3ac"/>
<rect x="1598.74" y="1037.56" width="38.73" height="21.01" fill="#bbd2ea"/>
<rect x="1637.47" y="1037.56" width="38.73" height="21.01" fill="#f7e3e0"/>
<rect x="1288.9" y="1058.57" width="38.73" height="21.01" fill="#b0cae7"/>
<rect x="1327.63" y="1058.57" width="38.73" height="21.01" fill="#689ad1"/>
<rect x="1366.36" y="1058.57" width="38.73" height="21.01" fill="#f1f5fb"/>
<rect x="1405.09" y="1058.57" width="38.73" height="21.01" fill="#c7d9ee"/>
<rect x="1443.82" y="1058.57" width="38.73" height="21.01" fill="#8fb4dd"/>
<rect x="1482.55" y="1058.57" width="38.73" height="21.01" fill="#568dcb"/>
<rect x="1521.28" y="1058.57" width="38.73" height="21.01" fill="#f7e3e0"/>
<rect x="1560.01" y="1058.57" width="38.73" height="21.01" fill="#f3d3cf"/>
<rect x="1598.74" y="1058.57" width="38.73" height="21.01" fill="#bbd2ea"/>
<rect x="1637.47" y="1058.57" width="38.73" height="21.01" fill="#e8aba3"/>
<rect x="1288.9" y="1079.58" width="38.73" height="21.01" fill="#d3e1f2"/>
<rect x="1327.63" y="1079.58" width="38.73" height="21.01" fill="#f0c9c4"/>
<rect x="1366.36" y="1079.58" width="38.73" height="21.01" fill="#b3cce8"/>
<rect x="1405.09" y="1079.58" width="38.73" height="21.01" fill="#a0bfe2"/>
<rect x="1443.82" y="1079.58" width="38.73" height="21.01" fill="#acc7e6"/>
<rect x="1482.55" y="1079.58" width="38.73" height="21.01" fill="#c7d9ee"/>
<rect x="1521.28" y="1079.58" width="38.73" height="21.01" fill="#8fb4dd"/>
<rect x="1560.01" y="1079.58" width="38.73" height="21.01" fill="#d87164"/>
<rect x="1598.74" y="1079.58" width="38.73" height="21.01" fill="#e7a79f"/>
<rect x="1637.47" y="1079.58" width="38.73" height="21.01" fill="#fbefed"/>
<rect x="1288.9" y="1100.6" width="38.73" height="21.01" fill="#b3cce8"/>
<rect x="1327.63" y="1100.6" width="38.73" height="21.01" fill="#faedeb"/>
<rect x="1366.36" y="1100.6" width="38.73" height="21.01" fill="#5f93ce"/>
<rect x="1405.09" y="1100.6" width="38.73" height="21.01" fill="#5f93ce"/>
<rect x="1443.82" y="1100.6" width="38.73" height="21.01" fill="#568dcb"/>
<rect x="1482.55" y="1100.6" width="38.73" height="21.01" fill="#73a1d4"/>
<rect x="1521.28" y="1100.6" width="38.73" height="21.01" fill="#d6e3f2"/>
<rect x="1560.01" y="1100.6" width="38.73" height="21.01" fill="#d87164"/>
<rect x="1598.74" y="1100.6" width="38.73" height="21.01" fill="#efc3bd"/>
<rect x="1637.47" y="1100.6" width="38.73" height="21.01" fill="#eaf1f9"/>
<rect x="1288.9" y="1121.61" width="38.73" height="21.01" fill="#689ad1"/>
<rect x="1327.63" y="1121.61" width="38.73" height="21.01" fill="#f8e5e3"/>
<rect x="1366.36" y="1121.61" width="38.73" height="21.01" fill="#7ea9d8"/>
<rect x="1405.09" y="1121.61" width="38.73" height="21.01" fill="#5f93ce"/>
<rect x="1443.82" y="1121.61" width="38.73" height="21.01" fill="#3a7bc3"/>
<rect x="1482.55" y="1121.61" width="38.73" height="21.01" fill="#73a1d4"/>
<rect x="1521.28" y="1121.61" width="38.73" height="21.01" fill="#f3d3cf"/>
<rect x="1560.01" y="1121.61" width="38.73" height="21.01" fill="#f0c9c4"/>
<rect x="1598.74" y="1121.61" width="38.73" height="21.01" fill="#b0cae7"/>
<rect x="1637.47" y="1121.61" width="38.73" height="21.01" fill="#fdf7f6"/>
<rect x="1288.9" y="1142.62" width="38.73" height="21.01" fill="#eaf1f9"/>
<rect x="1327.63" y="1142.62" width="38.73" height="21.01" fill="#eef4fa"/>
<rect x="1366.36" y="1142.62" width="38.73" height="21.01" fill="#95b8df"/>
<rect x="1405.09" y="1142.62" width="38.73" height="21.01" fill="#c7d9ee"/>
<rect x="1443.82" y="1142.62" width="38.73" height="21.01" fill="#568dcb"/>
<rect x="1482.55" y="1142.62" width="38.73" height="21.01" fill="#568dcb"/>
<rect x="1521.28" y="1142.62" width="38.73" height="21.01" fill="#eef4fa"/>
<rect x="1560.01" y="1142.62" width="38.73" height="21.01" fill="#e7a79f"/>
<rect x="1598.74" y="1142.62" width="38.73" height="21.01" fill="#c7d9ee"/>
<rect x="1637.47" y="1142.62" width="38.73" height="21.01" fill="#c7d9ee"/>
<rect x="1288.9" y="1163.64" width="38.73" height="21.01" fill="#e8f0f8"/>
<rect x="1327.63" y="1163.64" width="38.73" height="21.01" fill="#c7d9ee"/>
<rect x="1366.36" y="1163.64" width="38.73" height="21.01" fill="#568dcb"/>
<rect x="1405.09" y="1163.64" width="38.73" height="21.01" fill="#a0bfe2"/>
<rect x="1443.82" y="1163.64" width="38.73" height="21.01" fill="#5f93ce"/>
<rect x="1482.55" y="1163.64" width="38.73" height="21.01" fill="#5f93ce"/>
<rect x="1521.28" y="1163.64" width="38.73" height="21.01" fill="#f0c9c4"/>
<rect x="1560.01" y="1163.64" width="38.73" height="21.01" fill="#eab3ac"/>
<rect x="1598.74" y="1163.64" width="38.73" height="21.01" fill="#faedeb"/>
<rect x="1637.47" y="1163.64" width="38.73" height="21.01" fill="#95b8df"/>
<rect x="1288.9" y="1184.65" width="38.73" height="21.01" fill="#e7a79f"/>
<rect x="1327.63" y="1184.65" width="38.73" height="21.01" fill="#eef4fa"/>
<rect x="1366.36" y="1184.65" width="38.73" height="21.01" fill="#fdfdfd"/>
<rect x="1405.09" y="1184.65" width="38.73" height="21.01" fill="#f0c9c4"/>
<rect x="1443.82" y="1184.65" width="38.73" height="21.01" fill="#e8aba3"/>
<rect x="1482.55" y="1184.65" width="38.73" height="21.01" fill="#eab3ac"/>
<rect x="1521.28" y="1184.65" width="38.73" height="21.01" fill="#d6e3f2"/>
<rect x="1560.01" y="1184.65" width="38.73" height="21.01" fill="#fdf8f7"/>
<rect x="1598.74" y="1184.65" width="38.73" height="21.01" fill="#d87164"/>
<rect x="1637.47" y="1184.65" width="38.73" height="21.01" fill="#a8c4e4"/>
<rect x="1288.9" y="1205.66" width="38.73" height="21.01" fill="#da7568"/>
<rect x="1327.63" y="1205.66" width="38.73" height="21.01" fill="#f3d3cf"/>
<rect x="1366.36" y="1205.66" width="38.73" height="21.01" fill="#d6e3f2"/>
<rect x="1405.09" y="1205.66" width="38.73" height="21.01" fill="#e8aba3"/>
<rect x="1443.82" y="1205.66" width="38.73" height="21.01" fill="#f1ccc8"/>
<rect x="1482.55" y="1205.66" width="38.73" height="21.01" fill="#f1ccc8"/>
<rect x="1521.28" y="1205.66" width="38.73" height="21.01" fill="#eef4fa"/>
<rect x="1560.01" y="1205.66" width="38.73" height="21.01" fill="#fdfdfd"/>
<rect x="1598.74" y="1205.66" width="38.73" height="21.01" fill="#f3d3cf"/>
<rect x="1637.47" y="1205.66" width="38.73" height="21.01" fill="#3a7bc3"/>
<rect x="1288.9" y="1226.67" width="38.73" height="21.01" fill="#f4d7d4"/>
<rect x="1327.63" y="1226.67" width="38.73" height="21.01" fill="#ecb9b3"/>
<rect x="1366.36" y="1226.67" width="38.73" height="21.01" fill="#f4d7d4"/>
<rect x="1405.09" y="1226.67" width="38.73" height="21.01" fill="#f8e5e3"/>
<rect x="1443.82" y="1226.67" width="38.73" height="21.01" fill="#fdfdfd"/>
<rect x="1482.55" y="1226.67" width="38.73" height="21.01" fill="#fdfdfd"/>
<rect x="1521.28" y="1226.67" width="38.73" height="21.01" fill="#568dcb"/>
<rect x="1560.01" y="1226.67" width="38.73" height="21.01" fill="#e49a91"/>
<rect x="1598.74" y="1226.67" width="38.73" height="21.01" fill="#faedeb"/>
<rect x="1637.47" y="1226.67" width="38.73" height="21.01" fill="#fdf7f6"/>
<rect x="1288.9" y="1247.69" width="38.73" height="21.01" fill="#f4d7d4"/>
<rect x="1327.63" y="1247.69" width="38.73" height="21.01" fill="#f3d3cf"/>
<rect x="1366.36" y="1247.69" width="38.73" height="21.01" fill="#acc7e6"/>
<rect x="1405.09" y="1247.69" width="38.73" height="21.01" fill="#f1f5fb"/>
<rect x="1443.82" y="1247.69" width="38.73" height="21.01" fill="#8fb4dd"/>
<rect x="1482.55" y="1247.69" width="38.73" height="21.01" fill="#95b8df"/>
<rect x="1521.28" y="1247.69" width="38.73" height="21.01" fill="#8fb4dd"/>
<rect x="1560.01" y="1247.69" width="38.73" height="21.01" fill="#d87164"/>
<rect x="1598.74" y="1247.69" width="38.73" height="21.01" fill="#faedeb"/>
<rect x="1637.47" y="1247.69" width="38.73" height="21.01" fill="#a0bfe2"/>
</g>
<g font-family='"Liberation Serif","DejaVu Serif",serif' font-size="16" font-weight="bold" text-anchor="middle" fill="#1c1c1c" stroke="#1c1c1c" stroke-width="0.3" stroke-linejoin="round" opacity="0.85" letter-spacing="0.1">
<text x="1540.69" y="633.51">*</text>
<text x="1579.42" y="633.51">*</text>
<text x="1540.69" y="654.52">*</text>
<text x="1579.42" y="654.52">*</text>
<text x="1579.42" y="675.53">**</text>
<text x="1656.88" y="696.55">*</text>
<text x="1656.88" y="717.56">*</text>
<text x="1501.96" y="738.57">*</text>
<text x="1501.96" y="759.58">*</text>
<text x="1424.51" y="780.6">*</text>
<text x="1463.24" y="780.6">**</text>
<text x="1501.96" y="780.6">*</text>
<text x="1424.51" y="801.61">*</text>
<text x="1463.24" y="801.61">*</text>
<text x="1385.78" y="822.62">*</text>
<text x="1424.51" y="822.62">*</text>
<text x="1463.24" y="822.62">**</text>
<text x="1463.24" y="843.64">**</text>
<text x="1463.24" y="864.65">*</text>
<text x="1385.78" y="885.66">*</text>
<text x="1385.78" y="906.67">**</text>
<text x="1385.78" y="927.69">*</text>
<text x="1463.24" y="948.7">*</text>
<text x="1501.96" y="948.7">*</text>
<text x="1501.96" y="969.71">*</text>
<text x="1579.42" y="969.71">*</text>
<text x="1463.24" y="990.73">*</text>
<text x="1579.42" y="990.73">*</text>
<text x="1463.24" y="1011.74">*</text>
<text x="1501.96" y="1011.74">*</text>
<text x="1579.42" y="1011.74">*</text>
<text x="1579.42" y="1032.75">**</text>
<text x="1501.96" y="1053.76">*</text>
<text x="1501.96" y="1074.78">*</text>
<text x="1579.42" y="1095.79">*</text>
<text x="1463.24" y="1116.8">*</text>
<text x="1579.42" y="1116.8">*</text>
<text x="1463.24" y="1137.82">**</text>
<text x="1463.24" y="1158.83">*</text>
<text x="1501.96" y="1158.83">*</text>
<text x="1385.78" y="1179.84">*</text>
<text x="1618.15" y="1200.85">*</text>
<text x="1656.88" y="1221.87">**</text>
<text x="1540.69" y="1242.88">*</text>
<text x="1579.42" y="1263.89">*</text>
</g>
<g font-family='"Liberation Serif","DejaVu Serif",serif' font-size="15.6" font-style="italic" fill="#111" stroke="#111" stroke-width="0.12" letter-spacing="0.3">
<text x="1679.7" y="633.5">Gaiella</text>
<text x="1679.7" y="654.51">Filomicrobium</text>
<text x="1679.7" y="675.52">Gp16</text>
<text x="1679.7" y="696.54">Gp10</text>
<text x="1679.7" y="717.55">Gp17</text>
<text x="1679.7" y="738.56">Deferrisoma</text>
<text x="1679.7" y="759.58">Gp23</text>
<text x="1679.7" y="780.59">Congregibacter</text>
<text x="1679.7" y="801.6">Thiohalomonas</text>
<text x="1679.7" y="822.61">Ilyobacter</text>
<text x="1679.7" y="843.63">Porticoccus</text>
<text x="1679.7" y="864.64">Robiginitalea</text>
<text x="1679.7" y="885.65">Rhodovulum</text>
<text x="1679.7" y="906.67">Thioprofundum</text>
<text x="1679.7" y="927.68">Gp22</text>
<text x="1679.7" y="948.69">Povalibacter</text>
<text x="1679.7" y="969.7">Geminicoccus</text>
<text x="1679.7" y="990.72">Haliangium</text>
<text x="1679.7" y="1011.73">Nitrosomonas</text>
<text x="1679.7" y="1032.74">Nitrospira</text>
<text x="1679.7" y="1053.76">Bacillariophyta</text>
<text x="1679.7" y="1074.77">Litorilinea</text>
<text x="1679.7" y="1095.78">Desulfatiglans</text>
<text x="1679.7" y="1116.8">Arcobacter</text>
<text x="1679.7" y="1137.81">Thermomarinilinea</text>
<text x="1679.7" y="1158.82">Sulfurimonas</text>
<text x="1679.7" y="1179.83">Desulfatitalea</text>
<text x="1679.7" y="1200.85">Mangrovibacterium</text>
<text x="1679.7" y="1221.86">Halioglobus</text>
<text x="1679.7" y="1242.87">Longilinea</text>
<text x="1679.7" y="1263.89">Bellilinea</text>
</g>
<g font-family='"Liberation Serif","DejaVu Serif",serif' font-size="12" font-weight="bold" text-anchor="end" fill="#000" letter-spacing="0.55">
<text transform="translate(1318.07 1282) rotate(-45)">pH</text>
<text transform="translate(1358 1280.7) rotate(-45)">Salinity</text>
<text transform="translate(1393.73 1278.7) rotate(-45)">Water cotent</text>
<text transform="translate(1432.26 1277.7) rotate(-45)">Sediment temp.</text>
<text transform="translate(1475.19 1281.2) rotate(-45)">TC</text>
<text transform="translate(1512.21 1281.5) rotate(-45)">TN</text>
<text transform="translate(1549.64 1282.5) rotate(-45)">SO<tspan dy="2.64" font-size="7.44">4</tspan><tspan dy="-7.44" dx="-3.6" font-size="7.44">2-</tspan><tspan dy="4.8" font-size="7.44"> </tspan></text>
<text transform="translate(1590.17 1282.2) rotate(-45)">Fe<tspan dy="-4.56" font-size="7.44">3+</tspan><tspan dy="4.56" font-size="7.44"> </tspan></text>
<text transform="translate(1627.61 1282.2) rotate(-45)">Fe<tspan dy="-4.56" font-size="7.44">2+</tspan><tspan dy="4.56" font-size="7.44"> </tspan></text>
<text transform="translate(1665.54 1278.7) rotate(-45)">Sediment CO<tspan dy="2.64" font-size="7.44">2</tspan><tspan dy="-2.64"> flux</tspan></text>
</g>
</g>
<defs>
<linearGradient id="cbPhy" x1="0" y1="0" x2="0" y2="1"><stop offset="0" stop-color="#e3ae8e"/><stop offset="0.25" stop-color="#f0d4c3"/><stop offset="0.51" stop-color="#ffffff"/><stop offset="0.76" stop-color="#9ccee2"/><stop offset="1" stop-color="#44a1c7"/></linearGradient>
<linearGradient id="cbGen" x1="0" y1="0" x2="0" y2="1"><stop offset="0" stop-color="#d15748"/><stop offset="0.25" stop-color="#e7a69e"/><stop offset="0.5" stop-color="#ffffff"/><stop offset="0.75" stop-color="#98bae0"/><stop offset="1" stop-color="#3074c0"/></linearGradient>
<linearGradient id="cbPink" x1="0" y1="0" x2="0" y2="1"><stop offset="0" stop-color="#f28e85"/><stop offset="1" stop-color="#fbdedb"/></linearGradient>
<linearGradient id="cbGreen" x1="0" y1="0" x2="0" y2="1"><stop offset="0" stop-color="#e6f8f4"/><stop offset="1" stop-color="#12c0a2"/></linearGradient>
</defs>
<rect x="1861.7" y="34.5" width="10.5" height="171.2" fill="url(#cbPhy)"/>
<g font-family='"Liberation Serif","DejaVu Serif",serif' font-size="10.6" fill="#111" stroke="#111" stroke-width="0.2">
<text x="1877" y="38.2">1</text>
<text x="1877" y="81.8">0.5</text>
<text x="1877" y="125.1">0</text>
<text x="1877" y="168.6">-0.5</text>
</g>
<rect x="1816.2" y="617.3" width="10.5" height="161.3" fill="url(#cbGen)"/>
<g font-family='"Liberation Serif","DejaVu Serif",serif' font-size="16.6" fill="#111">
<text x="1832.5" y="630.1">1</text>
<text x="1830.5" y="661.3">0.5</text>
<text x="1830.5" y="704">0</text>
<text x="1830.5" y="747.1">-0.5</text>
<text x="1830.5" y="780.1">-1</text>
</g>
<g id="panel-G">
<g stroke="#9a9a9a" stroke-width="1" shape-rendering="crispEdges">
<rect x="104.5" y="1405.7" width="62.71" height="116.1" fill="#f9cbc5"/>
<rect x="167.21" y="1405.7" width="62.71" height="116.1" fill="#eef9f6"/>
<rect x="229.92" y="1405.7" width="62.71" height="116.1" fill="#eef9f6"/>
<rect x="292.63" y="1405.7" width="62.71" height="116.1" fill="#80decb"/>
<rect x="355.34" y="1405.7" width="62.71" height="116.1" fill="#f5a69b"/>
<rect x="418.06" y="1405.7" width="62.71" height="116.1" fill="#a9e8da"/>
<rect x="480.77" y="1405.7" width="62.71" height="116.1" fill="#36ccb0"/>
<rect x="543.48" y="1405.7" width="62.71" height="116.1" fill="#14c1a4"/>
<rect x="606.19" y="1405.7" width="62.71" height="116.1" fill="#fdfefd"/>
<rect x="104.5" y="1521.8" width="62.71" height="115.6" fill="#fdfefd"/>
<rect x="167.21" y="1521.8" width="62.71" height="115.6" fill="#fdfefd"/>
<rect x="229.92" y="1521.8" width="62.71" height="115.6" fill="#f4938a"/>
<rect x="292.63" y="1521.8" width="62.71" height="115.6" fill="#88e0ce"/>
<rect x="355.34" y="1521.8" width="62.71" height="115.6" fill="#fce0dd"/>
<rect x="418.06" y="1521.8" width="62.71" height="115.6" fill="#fce0dd"/>
<rect x="480.77" y="1521.8" width="62.71" height="115.6" fill="#5ad4bc"/>
<rect x="543.48" y="1521.8" width="62.71" height="115.6" fill="#36ccb0"/>
<rect x="606.19" y="1521.8" width="62.71" height="115.6" fill="#fce4e1"/>
</g>
<text x="57.5" y="1430.5" font-family='"Liberation Serif","DejaVu Serif",serif' font-weight="bold" font-size="24" fill="#000">(G)</text>
<path d="M104.5 1463.8L49 1463.8L49 1579.4L104.5 1579.4" fill="none" stroke="#222" stroke-width="1.3"/>
<g font-family='"Liberation Serif","DejaVu Serif",serif' font-size="22.5" font-weight="bold" fill="#111" letter-spacing="0.65">
<text x="675.6" y="1486.5">Sediment CO<tspan dy="5.62" font-size="13.5">2</tspan><tspan dy="-5.62"> flux</tspan></text>
<text x="675.6" y="1604.6">Root-respired CO<tspan dy="5.62" font-size="13.5">2</tspan><tspan dy="-5.62"> flux</tspan></text>
</g>
<g font-family='"Liberation Serif","DejaVu Serif",serif' font-size="33" font-weight="bold" text-anchor="middle" fill="#1c1c1c" fill-opacity="0.85" letter-spacing="1">
<text x="261.28" y="1588.1">**</text>
</g>
<g font-family='"Liberation Serif","DejaVu Serif",serif' font-size="24" font-weight="bold" text-anchor="end" fill="#111" letter-spacing="1.0">
<text transform="translate(149.86 1666) rotate(-45)">pH</text>
<text transform="translate(211.07 1666.4) rotate(-45)">Salinity</text>
<text transform="translate(269.28 1665) rotate(-45)">Water cotent</text>
<text transform="translate(352.59 1666.4) rotate(-45)">Sediment temp.</text>
<text transform="translate(396.7 1665) rotate(-45)">TC</text>
<text transform="translate(459.91 1666.4) rotate(-45)">TN</text>
<text transform="translate(528.62 1670) rotate(-45)">SO<tspan dy="5.28" font-size="14.88">4</tspan><tspan dy="-14.88" dx="-7.2" font-size="14.88">2-</tspan><tspan dy="9.6" font-size="14.88"> </tspan></text>
<text transform="translate(588.83 1667.4) rotate(-45)">Fe<tspan dy="-9.12" font-size="14.88">3+</tspan><tspan dy="9.12" font-size="14.88"> </tspan></text>
<text transform="translate(657.54 1666.4) rotate(-45)">Fe<tspan dy="-9.12" font-size="14.88">2+</tspan><tspan dy="9.12" font-size="14.88"> </tspan></text>
</g>
</g>
<g id="panel-H">
<g stroke="#9a9a9a" stroke-width="1" shape-rendering="crispEdges">
<rect x="1062" y="1410.4" width="57.62" height="112.6" fill="#6fdac7"/>
<rect x="1119.62" y="1410.4" width="57.62" height="112.6" fill="#c2eee7"/>
<rect x="1177.24" y="1410.4" width="57.62" height="112.6" fill="#f4928a"/>
<rect x="1234.87" y="1410.4" width="57.62" height="112.6" fill="#e8f8f5"/>
<rect x="1292.49" y="1410.4" width="57.62" height="112.6" fill="#fcd9d6"/>
<rect x="1350.11" y="1410.4" width="57.62" height="112.6" fill="#fde3e1"/>
<rect x="1407.73" y="1410.4" width="57.62" height="112.6" fill="#f9cac5"/>
<rect x="1465.36" y="1410.4" width="57.62" height="112.6" fill="#f2fbf9"/>
<rect x="1522.98" y="1410.4" width="57.62" height="112.6" fill="#e8f8f5"/>
<rect x="1062" y="1523" width="57.62" height="112.6" fill="#63d7c3"/>
<rect x="1119.62" y="1523" width="57.62" height="112.6" fill="#b5ebe1"/>
<rect x="1177.24" y="1523" width="57.62" height="112.6" fill="#36ccb0"/>
<rect x="1234.87" y="1523" width="57.62" height="112.6" fill="#1ec4a6"/>
<rect x="1292.49" y="1523" width="57.62" height="112.6" fill="#14c1a3"/>
<rect x="1350.11" y="1523" width="57.62" height="112.6" fill="#24c5a8"/>
<rect x="1407.73" y="1523" width="57.62" height="112.6" fill="#f4938a"/>
<rect x="1465.36" y="1523" width="57.62" height="112.6" fill="#f6aba2"/>
<rect x="1522.98" y="1523" width="57.62" height="112.6" fill="#fce0dd"/>
</g>
<text x="1018.4" y="1415.5" font-family='"Liberation Serif","DejaVu Serif",serif' font-weight="bold" font-size="22" fill="#000">(H)</text>
<path d="M1062 1466.6L1010.3 1466.6L1010.3 1579.1L1062 1579.1" fill="none" stroke="#222" stroke-width="1.3"/>
<g font-family='"Liberation Serif","DejaVu Serif",serif' font-size="20.5" font-weight="bold" fill="#111" letter-spacing="0.55">
<text x="1588.3" y="1473">Sediment CO<tspan dy="5.12" font-size="12.3">2</tspan><tspan dy="-5.12"> flux</tspan></text>
<text x="1588.3" y="1576.6">Root-respired CO<tspan dy="5.12" font-size="12.3">2</tspan><tspan dy="-5.12"> flux</tspan></text>
</g>
<g font-family='"Liberation Serif","DejaVu Serif",serif' font-size="31" font-weight="bold" text-anchor="middle" fill="#1c1c1c" fill-opacity="0.85" letter-spacing="1">
<text x="1263.68" y="1587.8">*</text>
<text x="1321.3" y="1587.8">*</text>
<text x="1378.92" y="1587.8">*</text>
</g>
<g font-family='"Liberation Serif","DejaVu Serif",serif' font-size="22.5" font-weight="bold" text-anchor="end" fill="#111" letter-spacing="1.1">
<text transform="translate(1097.81 1650.6) rotate(-45)">pH</text>
<text transform="translate(1150.43 1651.1) rotate(-45)">Salinity</text>
<text transform="translate(1206.66 1648.6) rotate(-45)">Water cotent</text>
<text transform="translate(1283.08 1653.6) rotate(-45)">Sediment temp.</text>
<text transform="translate(1324.8 1651.1) rotate(-45)">TC</text>
<text transform="translate(1383.92 1651.1) rotate(-45)">TN</text>
<text transform="translate(1448.54 1656.6) rotate(-45)">SO<tspan dy="4.95" font-size="13.95">4</tspan><tspan dy="-13.95" dx="-6.75" font-size="13.95">2-</tspan><tspan dy="9" font-size="13.95"> </tspan></text>
<text transform="translate(1502.17 1653.6) rotate(-45)">Fe<tspan dy="-8.55" font-size="13.95">3+</tspan><tspan dy="8.55" font-size="13.95"> </tspan></text>
<text transform="translate(1563.79 1652.6) rotate(-45)">Fe<tspan dy="-8.55" font-size="13.95">2+</tspan><tspan dy="8.55" font-size="13.95"> </tspan></text>
</g>
</g>
<rect x="924.6" y="1406" width="16.2" height="87.6" fill="url(#cbPink)"/>
<rect x="924.6" y="1549.8" width="16.2" height="107.3" fill="url(#cbGreen)"/>
<g font-family='"Liberation Serif","DejaVu Serif",serif' font-size="24.5" fill="#111">
<text x="948.5" y="1484.1">0.5</text>
<text x="948.5" y="1562.2">0</text>
<text x="948.5" y="1641.2">-0.5</text>
</g>
<rect x="1815.9" y="1410.7" width="14.8" height="84.7" fill="url(#cbPink)"/>
<rect x="1815.9" y="1550.9" width="14.8" height="103" fill="url(#cbGreen)"/>
<g font-family='"Liberation Serif","DejaVu Serif",serif' font-size="22" fill="#111">
<text x="1837.7" y="1434.4">0.4</text>
<text x="1837.7" y="1470.1">0.2</text>
<text x="1837.7" y="1505.3">0</text>
<text x="1837.7" y="1540.9">-0.2</text>
<text x="1837.7" y="1576.6">-0.4</text>
<text x="1837.7" y="1611.8">-0.6</text>
<text x="1837.7" y="1647.4">-0.8</text>
</g>
</svg>
</body></html>
